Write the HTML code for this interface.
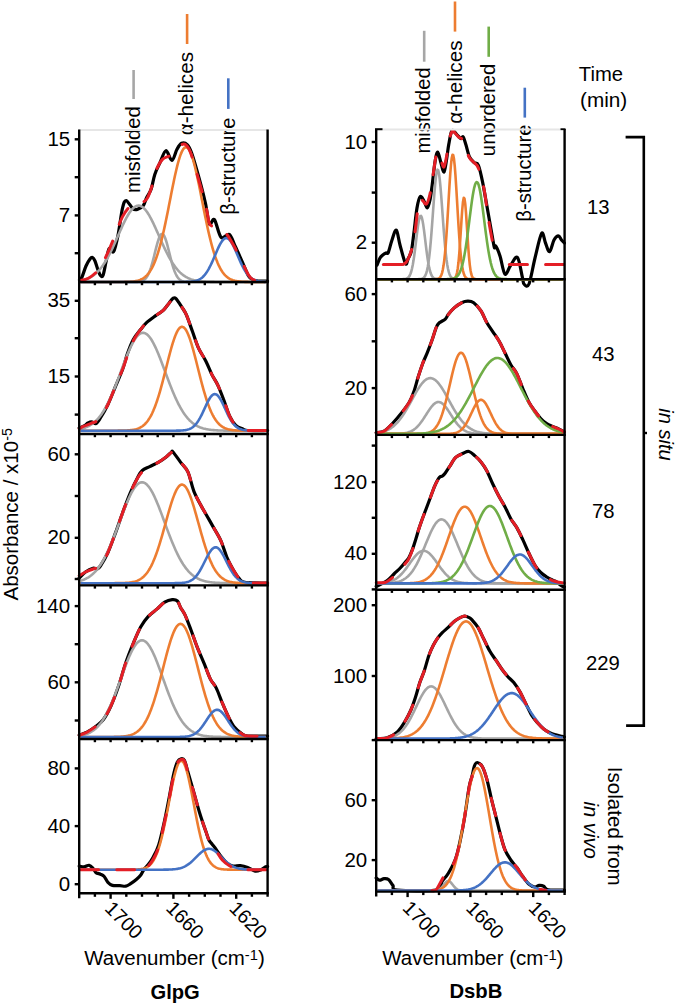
<!DOCTYPE html>
<html><head><meta charset="utf-8"><style>html,body{margin:0;padding:0;background:#fff;}svg{display:block;}</style></head>
<body><svg width="675" height="1004" viewBox="0 0 675 1004">
<rect width="675" height="1004" fill="#fff"/>
<line x1="74.7" y1="139.3" x2="79.2" y2="139.3" stroke="#000" stroke-width="2.4"/>
<text x="70.2" y="145.9" text-anchor="end" font-size="20.5" font-family="Liberation Sans, sans-serif">15</text>
<line x1="74.7" y1="177.2" x2="79.2" y2="177.2" stroke="#000" stroke-width="2.4"/>
<line x1="74.7" y1="215.4" x2="79.2" y2="215.4" stroke="#000" stroke-width="2.4"/>
<text x="70.2" y="222.0" text-anchor="end" font-size="20.5" font-family="Liberation Sans, sans-serif">7</text>
<line x1="74.7" y1="253.2" x2="79.2" y2="253.2" stroke="#000" stroke-width="2.4"/>
<line x1="74.7" y1="300.8" x2="79.2" y2="300.8" stroke="#000" stroke-width="2.4"/>
<text x="70.2" y="307.40000000000003" text-anchor="end" font-size="20.5" font-family="Liberation Sans, sans-serif">35</text>
<line x1="74.7" y1="338.2" x2="79.2" y2="338.2" stroke="#000" stroke-width="2.4"/>
<line x1="74.7" y1="376.5" x2="79.2" y2="376.5" stroke="#000" stroke-width="2.4"/>
<text x="70.2" y="383.1" text-anchor="end" font-size="20.5" font-family="Liberation Sans, sans-serif">15</text>
<line x1="74.7" y1="414.6" x2="79.2" y2="414.6" stroke="#000" stroke-width="2.4"/>
<line x1="74.7" y1="454.3" x2="79.2" y2="454.3" stroke="#000" stroke-width="2.4"/>
<text x="70.2" y="460.90000000000003" text-anchor="end" font-size="20.5" font-family="Liberation Sans, sans-serif">60</text>
<line x1="74.7" y1="496" x2="79.2" y2="496" stroke="#000" stroke-width="2.4"/>
<line x1="74.7" y1="537.8" x2="79.2" y2="537.8" stroke="#000" stroke-width="2.4"/>
<text x="70.2" y="544.4" text-anchor="end" font-size="20.5" font-family="Liberation Sans, sans-serif">20</text>
<line x1="74.7" y1="579" x2="79.2" y2="579" stroke="#000" stroke-width="2.4"/>
<line x1="74.7" y1="606.1" x2="79.2" y2="606.1" stroke="#000" stroke-width="2.4"/>
<text x="70.2" y="612.7" text-anchor="end" font-size="20.5" font-family="Liberation Sans, sans-serif">140</text>
<line x1="74.7" y1="644.2" x2="79.2" y2="644.2" stroke="#000" stroke-width="2.4"/>
<line x1="74.7" y1="682.3" x2="79.2" y2="682.3" stroke="#000" stroke-width="2.4"/>
<text x="70.2" y="688.9" text-anchor="end" font-size="20.5" font-family="Liberation Sans, sans-serif">60</text>
<line x1="74.7" y1="720.5" x2="79.2" y2="720.5" stroke="#000" stroke-width="2.4"/>
<line x1="74.7" y1="768.4" x2="79.2" y2="768.4" stroke="#000" stroke-width="2.4"/>
<text x="70.2" y="775.0" text-anchor="end" font-size="20.5" font-family="Liberation Sans, sans-serif">80</text>
<line x1="74.7" y1="826.1" x2="79.2" y2="826.1" stroke="#000" stroke-width="2.4"/>
<text x="70.2" y="832.7" text-anchor="end" font-size="20.5" font-family="Liberation Sans, sans-serif">40</text>
<line x1="74.7" y1="884.2" x2="79.2" y2="884.2" stroke="#000" stroke-width="2.4"/>
<text x="70.2" y="890.8000000000001" text-anchor="end" font-size="20.5" font-family="Liberation Sans, sans-serif">0</text>
<line x1="371.7" y1="142" x2="376.2" y2="142" stroke="#000" stroke-width="2.4"/>
<text x="367.2" y="148.6" text-anchor="end" font-size="20.5" font-family="Liberation Sans, sans-serif">10</text>
<line x1="371.7" y1="192.6" x2="376.2" y2="192.6" stroke="#000" stroke-width="2.4"/>
<line x1="371.7" y1="242.7" x2="376.2" y2="242.7" stroke="#000" stroke-width="2.4"/>
<text x="367.2" y="249.29999999999998" text-anchor="end" font-size="20.5" font-family="Liberation Sans, sans-serif">2</text>
<line x1="371.7" y1="294.1" x2="376.2" y2="294.1" stroke="#000" stroke-width="2.4"/>
<text x="367.2" y="300.70000000000005" text-anchor="end" font-size="20.5" font-family="Liberation Sans, sans-serif">60</text>
<line x1="371.7" y1="341.3" x2="376.2" y2="341.3" stroke="#000" stroke-width="2.4"/>
<line x1="371.7" y1="388.1" x2="376.2" y2="388.1" stroke="#000" stroke-width="2.4"/>
<text x="367.2" y="394.70000000000005" text-anchor="end" font-size="20.5" font-family="Liberation Sans, sans-serif">20</text>
<line x1="371.7" y1="445.6" x2="376.2" y2="445.6" stroke="#000" stroke-width="2.4"/>
<line x1="371.7" y1="482.1" x2="376.2" y2="482.1" stroke="#000" stroke-width="2.4"/>
<text x="367.2" y="488.70000000000005" text-anchor="end" font-size="20.5" font-family="Liberation Sans, sans-serif">120</text>
<line x1="371.7" y1="517.8" x2="376.2" y2="517.8" stroke="#000" stroke-width="2.4"/>
<line x1="371.7" y1="553.8" x2="376.2" y2="553.8" stroke="#000" stroke-width="2.4"/>
<text x="367.2" y="560.4" text-anchor="end" font-size="20.5" font-family="Liberation Sans, sans-serif">40</text>
<line x1="371.7" y1="589.4" x2="376.2" y2="589.4" stroke="#000" stroke-width="2.4"/>
<line x1="371.7" y1="605.2" x2="376.2" y2="605.2" stroke="#000" stroke-width="2.4"/>
<text x="367.2" y="611.8000000000001" text-anchor="end" font-size="20.5" font-family="Liberation Sans, sans-serif">200</text>
<line x1="371.7" y1="676" x2="376.2" y2="676" stroke="#000" stroke-width="2.4"/>
<text x="367.2" y="682.6" text-anchor="end" font-size="20.5" font-family="Liberation Sans, sans-serif">100</text>
<line x1="371.7" y1="740.1" x2="376.2" y2="740.1" stroke="#000" stroke-width="2.4"/>
<line x1="371.7" y1="800.2" x2="376.2" y2="800.2" stroke="#000" stroke-width="2.4"/>
<text x="367.2" y="806.8000000000001" text-anchor="end" font-size="20.5" font-family="Liberation Sans, sans-serif">60</text>
<line x1="371.7" y1="860.1" x2="376.2" y2="860.1" stroke="#000" stroke-width="2.4"/>
<text x="367.2" y="866.7" text-anchor="end" font-size="20.5" font-family="Liberation Sans, sans-serif">20</text>
<text transform="translate(578.85,80.50) rotate(0) scale(0.9977,1)" font-size="20.3"  font-family="Liberation Sans, sans-serif">Time</text>
<text transform="translate(580.00,106.65) rotate(0) scale(1.0227,1)" font-size="20.3"  font-family="Liberation Sans, sans-serif">(min)</text>
<text transform="translate(586.90,213.65) rotate(0)" font-size="20.3"  font-family="Liberation Sans, sans-serif">13</text>
<text transform="translate(592.00,360.70) rotate(0)" font-size="20.3"  font-family="Liberation Sans, sans-serif">43</text>
<text transform="translate(592.05,518.25) rotate(0)" font-size="20.3"  font-family="Liberation Sans, sans-serif">78</text>
<text transform="translate(586.00,670.35) rotate(0)" font-size="20.3"  font-family="Liberation Sans, sans-serif">229</text>
<text transform="translate(84.15,965.30) rotate(0) scale(1.0497,1)" font-size="19.5"  font-family="Liberation Sans, sans-serif">Wavenumber (cm<tspan dy="-5" font-size="14">-1</tspan><tspan dy="5">)</tspan></text>
<text transform="translate(382.25,965.30) rotate(0) scale(1.0532,1)" font-size="19.5"  font-family="Liberation Sans, sans-serif">Wavenumber (cm<tspan dy="-5" font-size="14">-1</tspan><tspan dy="5">)</tspan></text>
<text transform="translate(150.50,998.50) rotate(0) scale(1.0348,1)" font-size="19.5" font-weight="bold" font-family="Liberation Sans, sans-serif">GlpG</text>
<text transform="translate(449.40,998.20) rotate(0) scale(1.0408,1)" font-size="19.5" font-weight="bold" font-family="Liberation Sans, sans-serif">DsbB</text>
<text transform="translate(17.70,600.50) rotate(-90) scale(1.0263,1)" font-size="20"  font-family="Liberation Sans, sans-serif">Absorbance / x10<tspan dy="-6" font-size="14">-5</tspan></text>
<text transform="translate(139.85,192.95) rotate(-90)" font-size="20.3"  font-family="Liberation Sans, sans-serif">misfolded</text>
<text transform="translate(193.30,135.30) rotate(-90) scale(1.0200,1)" font-size="20.3"  font-family="Liberation Sans, sans-serif">&#945;-helices</text>
<text transform="translate(234.70,214.70) rotate(-90)" font-size="20.3"  font-family="Liberation Sans, sans-serif">&#946;-structure</text>
<text transform="translate(430.00,153.60) rotate(-90) scale(0.9929,1)" font-size="20.3"  font-family="Liberation Sans, sans-serif">misfolded</text>
<text transform="translate(461.55,123.75) rotate(-90) scale(1.0213,1)" font-size="20.3"  font-family="Liberation Sans, sans-serif">&#945;-helices</text>
<text transform="translate(494.95,156.15) rotate(-90)" font-size="20.3"  font-family="Liberation Sans, sans-serif">unordered</text>
<text transform="translate(531.20,221.70) rotate(-90)" font-size="20.3"  font-family="Liberation Sans, sans-serif">&#946;-structure</text>
<text transform="translate(658.50,408.30) rotate(90) scale(0.9887,1)" font-size="20.3" font-style="italic" font-family="Liberation Sans, sans-serif">in situ</text>
<text transform="translate(608.15,766.75) rotate(90) scale(1.0149,1)" font-size="20.3"  font-family="Liberation Sans, sans-serif">Isolated from</text>
<text transform="translate(583.60,801.40) rotate(90)" font-size="20.3" font-style="italic" font-family="Liberation Sans, sans-serif">in vivo</text>
<text transform="translate(103.65,909.50) rotate(45)" font-size="19.6"  font-family="Liberation Sans, sans-serif">1700</text>
<text transform="translate(164.90,909.30) rotate(45)" font-size="19.6"  font-family="Liberation Sans, sans-serif">1660</text>
<text transform="translate(228.15,909.50) rotate(45)" font-size="19.6"  font-family="Liberation Sans, sans-serif">1620</text>
<text transform="translate(401.45,909.10) rotate(45)" font-size="19.6"  font-family="Liberation Sans, sans-serif">1700</text>
<text transform="translate(465.00,909.30) rotate(45)" font-size="19.6"  font-family="Liberation Sans, sans-serif">1660</text>
<text transform="translate(527.45,909.25) rotate(45)" font-size="19.6"  font-family="Liberation Sans, sans-serif">1620</text>
<polyline points="625.6,137.1 643.8,137.1 643.8,725.6 626.1,725.6" fill="none" stroke="#000" stroke-width="2.6"/>
<line x1="643.8" y1="433" x2="647" y2="433" stroke="#000" stroke-width="2.4"/>
<path d="M79.50,280.00 C79.92,279.50 80.92,279.33 82.00,277.00 C83.08,274.67 84.67,269.00 86.00,266.00 C87.33,263.00 88.92,260.42 90.00,259.00 C91.08,257.58 91.67,257.17 92.50,257.50 C93.33,257.83 94.08,258.92 95.00,261.00 C95.92,263.08 97.08,267.58 98.00,270.00 C98.92,272.42 99.67,274.58 100.50,275.50 C101.33,276.42 102.08,277.75 103.00,275.50 C103.92,273.25 104.98,266.47 106.00,262.00 C107.02,257.53 107.83,250.42 109.10,248.70 C110.37,246.98 112.12,253.92 113.60,251.70 C115.08,249.48 116.53,242.57 118.00,235.40 C119.47,228.23 121.05,214.50 122.40,208.70 C123.75,202.90 124.37,200.60 126.10,200.60 C127.83,200.60 130.93,207.23 132.80,208.70 C134.67,210.17 135.57,209.90 137.30,209.40 C139.03,208.90 141.63,207.70 143.20,205.70 C144.77,203.70 145.38,200.13 146.70,197.40 C148.02,194.67 149.75,193.13 151.10,189.30 C152.45,185.47 153.32,178.85 154.80,174.40 C156.28,169.95 158.15,166.55 160.00,162.60 C161.85,158.65 163.92,151.07 165.90,150.70 C167.88,150.33 170.05,160.63 171.90,160.40 C173.75,160.17 175.40,152.15 177.00,149.30 C178.60,146.45 179.77,144.05 181.50,143.30 C183.23,142.55 185.67,143.07 187.40,144.80 C189.13,146.53 189.92,148.02 191.90,153.70 C193.88,159.38 197.05,170.68 199.30,178.90 C201.55,187.12 203.72,195.48 205.40,203.00 C207.08,210.52 207.90,221.23 209.40,224.00 C210.90,226.77 212.45,217.37 214.40,219.60 C216.35,221.83 218.62,234.93 221.10,237.40 C223.58,239.87 226.95,232.92 229.30,234.40 C231.65,235.88 232.98,241.60 235.20,246.30 C237.42,251.00 240.38,257.67 242.60,262.60 C244.82,267.53 246.77,273.03 248.50,275.90 C250.23,278.77 251.42,278.95 253.00,279.80 C254.58,280.65 255.57,280.80 258.00,281.00 C260.43,281.20 266.00,281.00 267.60,281.00" fill="none" stroke="#000" stroke-width="3.2" stroke-linejoin="round" stroke-linecap="round"/>
<path d="M80.50,280.66 L81.25,280.51 L82.00,280.35 L82.75,280.17 L83.50,279.98 L84.25,279.77 L85.00,279.55 L85.75,279.30 L86.50,279.03 L87.25,278.74 L88.00,278.43 L88.75,278.09 L89.50,277.73 L90.25,277.34 L91.00,276.92 L91.75,276.47 L92.50,275.99 L93.25,275.47 L94.00,274.92 L94.75,274.34 L95.50,273.71 L96.25,273.05 L97.00,272.35 L97.75,271.61 L98.50,270.83 L99.25,270.00 L100.00,269.13 L100.75,268.21 L101.50,267.25 L102.25,266.24 L103.00,265.19 L103.75,264.09 L104.50,262.95 L105.25,261.76 L106.00,260.52 L106.75,259.24 L107.50,257.92 L108.25,256.55 L109.00,255.15 L109.75,253.70 L110.50,252.21 L111.25,250.69 L112.00,249.14 L112.75,247.56 L113.50,245.94 L114.25,244.31 L115.00,242.65 L115.75,240.98 L116.50,239.29 L117.25,237.59 L118.00,235.89 L118.75,234.19 L119.50,232.49 L120.25,230.80 L121.00,229.12 L121.75,227.46 L122.50,225.83 L123.25,224.22 L124.00,222.65 L124.75,221.12 L125.50,219.64 L126.25,218.20 L127.00,216.82 L127.75,215.50 L128.50,214.25 L129.25,213.06 L130.00,211.95 L130.75,210.92 L131.50,209.97 L132.25,209.10 L133.00,208.33 L133.75,207.64 L134.50,207.05 L135.25,206.56 L136.00,206.17 L136.75,205.88 L137.50,205.69 L138.25,205.61 L139.00,205.62 L139.75,205.74 L140.50,205.97 L141.25,206.29 L142.00,206.72 L142.75,207.24 L143.50,207.86 L144.25,208.58 L145.00,209.38 L145.75,210.28 L146.50,211.25 L147.25,212.31 L148.00,213.45 L148.75,214.66 L149.50,215.94 L150.25,217.28 L151.00,218.68 L151.75,220.13 L152.50,221.63 L153.25,223.17 L154.00,224.76 L154.75,226.37 L155.50,228.01 L156.25,229.68 L157.00,231.36 L157.75,233.05 L158.50,234.75 L159.25,236.46 L160.00,238.16 L160.75,239.85 L161.50,241.54 L162.25,243.21 L163.00,244.86 L163.75,246.48 L164.50,248.09 L165.25,249.66 L166.00,251.20 L166.75,252.71 L167.50,254.19 L168.25,255.62 L169.00,257.01 L169.75,258.37 L170.50,259.68 L171.25,260.94 L172.00,262.16 L172.75,263.34 L173.50,264.47 L174.25,265.55 L175.00,266.59 L175.75,267.58 L176.50,268.52 L177.25,269.42 L178.00,270.28 L178.75,271.09 L179.50,271.86 L180.25,272.59 L181.00,273.28 L181.75,273.93 L182.50,274.54 L183.25,275.11 L184.00,275.65 L184.75,276.15 L185.50,276.62 L186.25,277.06 L187.00,277.47 L187.75,277.86 L188.50,278.21 L189.25,278.54 L190.00,278.84 L190.75,279.13 L191.50,279.39 L192.25,279.63 L193.00,279.85 L193.75,280.05 L194.50,280.23 L195.25,280.41 L196.00,280.56 L196.75,280.70 L197.50,280.83 L198.25,280.95 L199.00,281.06 L199.75,281.16 L200.50,281.25 L201.25,281.33 L202.00,281.40 L202.75,281.46 L203.50,281.52 L204.25,281.58 L205.00,281.62 L205.75,281.67 L206.50,281.70 L207.25,281.74 L208.00,281.77 L208.75,281.80 L209.50,281.82 L210.25,281.84 L211.00,281.86 L211.75,281.88 L212.50,281.89 L213.25,281.91 L214.00,281.92 L214.75,281.93 L215.50,281.94 L216.25,281.95 L217.00,281.95 L217.75,281.96 L218.50,281.97 L219.25,281.97 L220.00,281.97 L220.75,281.98 L221.50,281.98 L222.25,281.98 L223.00,281.99 L223.75,281.99 L224.50,281.99 L225.25,281.99 L226.00,281.99 L226.75,281.99 L227.50,281.99 L228.25,282.00 L229.00,282.00 L229.75,282.00 L230.50,282.00 L231.25,282.00 L232.00,282.00 L232.75,282.00 L233.50,282.00 L234.25,282.00 L235.00,282.00 L235.75,282.00 L236.50,282.00 L237.25,282.00 L238.00,282.00 L238.75,282.00 L239.50,282.00 L240.25,282.00 L241.00,282.00 L241.75,282.00 L242.50,282.00 L243.25,282.00 L244.00,282.00 L244.75,282.00 L245.50,282.00 L246.25,282.00 L247.00,282.00 L247.75,282.00 L248.50,282.00 L249.25,282.00 L250.00,282.00 L250.75,282.00 L251.50,282.00 L252.25,282.00 L253.00,282.00 L253.75,282.00 L254.50,282.00 L255.25,282.00 L256.00,282.00 L256.75,282.00 L257.50,282.00 L258.25,282.00 L259.00,282.00 L259.75,282.00 L260.50,282.00 L261.25,282.00 L262.00,282.00 L262.75,282.00 L263.50,282.00 L264.25,282.00 L265.00,282.00 L265.75,282.00" fill="none" stroke="#a5a5a5" stroke-width="2.6" stroke-linejoin="round"/>
<path d="M80.50,282.00 L81.25,282.00 L82.00,282.00 L82.75,282.00 L83.50,282.00 L84.25,282.00 L85.00,282.00 L85.75,282.00 L86.50,282.00 L87.25,282.00 L88.00,282.00 L88.75,282.00 L89.50,282.00 L90.25,282.00 L91.00,282.00 L91.75,282.00 L92.50,282.00 L93.25,282.00 L94.00,282.00 L94.75,282.00 L95.50,282.00 L96.25,282.00 L97.00,282.00 L97.75,282.00 L98.50,282.00 L99.25,282.00 L100.00,282.00 L100.75,282.00 L101.50,282.00 L102.25,282.00 L103.00,282.00 L103.75,282.00 L104.50,282.00 L105.25,282.00 L106.00,282.00 L106.75,282.00 L107.50,282.00 L108.25,282.00 L109.00,282.00 L109.75,282.00 L110.50,282.00 L111.25,282.00 L112.00,282.00 L112.75,282.00 L113.50,282.00 L114.25,282.00 L115.00,282.00 L115.75,282.00 L116.50,282.00 L117.25,282.00 L118.00,282.00 L118.75,282.00 L119.50,282.00 L120.25,282.00 L121.00,282.00 L121.75,282.00 L122.50,282.00 L123.25,282.00 L124.00,282.00 L124.75,282.00 L125.50,282.00 L126.25,282.00 L127.00,282.00 L127.75,282.00 L128.50,282.00 L129.25,282.00 L130.00,282.00 L130.75,282.00 L131.50,281.99 L132.25,281.99 L133.00,281.99 L133.75,281.98 L134.50,281.97 L135.25,281.95 L136.00,281.93 L136.75,281.90 L137.50,281.86 L138.25,281.80 L139.00,281.72 L139.75,281.61 L140.50,281.47 L141.25,281.27 L142.00,281.02 L142.75,280.70 L143.50,280.29 L144.25,279.77 L145.00,279.13 L145.75,278.35 L146.50,277.40 L147.25,276.27 L148.00,274.93 L148.75,273.38 L149.50,271.60 L150.25,269.59 L151.00,267.34 L151.75,264.88 L152.50,262.23 L153.25,259.40 L154.00,256.45 L154.75,253.43 L155.50,250.40 L156.25,247.42 L157.00,244.57 L157.75,241.92 L158.50,239.55 L159.25,237.52 L160.00,235.90 L160.75,234.74 L161.50,234.07 L162.25,233.91 L163.00,234.27 L163.75,235.15 L164.50,236.50 L165.25,238.29 L166.00,240.46 L166.75,242.95 L167.50,245.69 L168.25,248.60 L169.00,251.61 L169.75,254.65 L170.50,257.65 L171.25,260.55 L172.00,263.31 L172.75,265.89 L173.50,268.27 L174.25,270.42 L175.00,272.34 L175.75,274.03 L176.50,275.49 L177.25,276.74 L178.00,277.80 L178.75,278.68 L179.50,279.41 L180.25,279.99 L181.00,280.47 L181.75,280.84 L182.50,281.13 L183.25,281.36 L184.00,281.53 L184.75,281.66 L185.50,281.76 L186.25,281.83 L187.00,281.88 L187.75,281.92 L188.50,281.94 L189.25,281.96 L190.00,281.97 L190.75,281.98 L191.50,281.99 L192.25,281.99 L193.00,282.00 L193.75,282.00 L194.50,282.00 L195.25,282.00 L196.00,282.00 L196.75,282.00 L197.50,282.00 L198.25,282.00 L199.00,282.00 L199.75,282.00 L200.50,282.00 L201.25,282.00 L202.00,282.00 L202.75,282.00 L203.50,282.00 L204.25,282.00 L205.00,282.00 L205.75,282.00 L206.50,282.00 L207.25,282.00 L208.00,282.00 L208.75,282.00 L209.50,282.00 L210.25,282.00 L211.00,282.00 L211.75,282.00 L212.50,282.00 L213.25,282.00 L214.00,282.00 L214.75,282.00 L215.50,282.00 L216.25,282.00 L217.00,282.00 L217.75,282.00 L218.50,282.00 L219.25,282.00 L220.00,282.00 L220.75,282.00 L221.50,282.00 L222.25,282.00 L223.00,282.00 L223.75,282.00 L224.50,282.00 L225.25,282.00 L226.00,282.00 L226.75,282.00 L227.50,282.00 L228.25,282.00 L229.00,282.00 L229.75,282.00 L230.50,282.00 L231.25,282.00 L232.00,282.00 L232.75,282.00 L233.50,282.00 L234.25,282.00 L235.00,282.00 L235.75,282.00 L236.50,282.00 L237.25,282.00 L238.00,282.00 L238.75,282.00 L239.50,282.00 L240.25,282.00 L241.00,282.00 L241.75,282.00 L242.50,282.00 L243.25,282.00 L244.00,282.00 L244.75,282.00 L245.50,282.00 L246.25,282.00 L247.00,282.00 L247.75,282.00 L248.50,282.00 L249.25,282.00 L250.00,282.00 L250.75,282.00 L251.50,282.00 L252.25,282.00 L253.00,282.00 L253.75,282.00 L254.50,282.00 L255.25,282.00 L256.00,282.00 L256.75,282.00 L257.50,282.00 L258.25,282.00 L259.00,282.00 L259.75,282.00 L260.50,282.00 L261.25,282.00 L262.00,282.00 L262.75,282.00 L263.50,282.00 L264.25,282.00 L265.00,282.00 L265.75,282.00" fill="none" stroke="#a5a5a5" stroke-width="2.6" stroke-linejoin="round"/>
<path d="M80.50,282.00 L81.25,282.00 L82.00,282.00 L82.75,282.00 L83.50,282.00 L84.25,282.00 L85.00,282.00 L85.75,282.00 L86.50,282.00 L87.25,282.00 L88.00,282.00 L88.75,282.00 L89.50,282.00 L90.25,282.00 L91.00,282.00 L91.75,282.00 L92.50,282.00 L93.25,282.00 L94.00,282.00 L94.75,282.00 L95.50,282.00 L96.25,282.00 L97.00,282.00 L97.75,282.00 L98.50,282.00 L99.25,282.00 L100.00,282.00 L100.75,282.00 L101.50,282.00 L102.25,282.00 L103.00,282.00 L103.75,282.00 L104.50,282.00 L105.25,282.00 L106.00,282.00 L106.75,282.00 L107.50,282.00 L108.25,282.00 L109.00,282.00 L109.75,282.00 L110.50,282.00 L111.25,282.00 L112.00,282.00 L112.75,282.00 L113.50,282.00 L114.25,281.99 L115.00,281.99 L115.75,281.99 L116.50,281.99 L117.25,281.99 L118.00,281.98 L118.75,281.98 L119.50,281.98 L120.25,281.97 L121.00,281.96 L121.75,281.96 L122.50,281.95 L123.25,281.94 L124.00,281.93 L124.75,281.91 L125.50,281.89 L126.25,281.87 L127.00,281.85 L127.75,281.82 L128.50,281.79 L129.25,281.75 L130.00,281.71 L130.75,281.65 L131.50,281.59 L132.25,281.52 L133.00,281.44 L133.75,281.35 L134.50,281.24 L135.25,281.12 L136.00,280.98 L136.75,280.82 L137.50,280.64 L138.25,280.43 L139.00,280.20 L139.75,279.93 L140.50,279.64 L141.25,279.30 L142.00,278.93 L142.75,278.51 L143.50,278.04 L144.25,277.52 L145.00,276.94 L145.75,276.30 L146.50,275.60 L147.25,274.82 L148.00,273.97 L148.75,273.03 L149.50,272.01 L150.25,270.89 L151.00,269.68 L151.75,268.36 L152.50,266.94 L153.25,265.41 L154.00,263.76 L154.75,261.99 L155.50,260.09 L156.25,258.07 L157.00,255.92 L157.75,253.64 L158.50,251.22 L159.25,248.68 L160.00,246.00 L160.75,243.19 L161.50,240.26 L162.25,237.20 L163.00,234.03 L163.75,230.74 L164.50,227.35 L165.25,223.86 L166.00,220.28 L166.75,216.63 L167.50,212.92 L168.25,209.15 L169.00,205.34 L169.75,201.52 L170.50,197.69 L171.25,193.87 L172.00,190.07 L172.75,186.33 L173.50,182.65 L174.25,179.06 L175.00,175.57 L175.75,172.21 L176.50,168.98 L177.25,165.92 L178.00,163.04 L178.75,160.35 L179.50,157.88 L180.25,155.63 L181.00,153.62 L181.75,151.87 L182.50,150.39 L183.25,149.18 L184.00,148.25 L184.75,147.61 L185.50,147.27 L186.25,147.22 L187.00,147.46 L187.75,148.00 L188.50,148.84 L189.25,149.95 L190.00,151.35 L190.75,153.01 L191.50,154.93 L192.25,157.10 L193.00,159.50 L193.75,162.12 L194.50,164.94 L195.25,167.95 L196.00,171.12 L196.75,174.44 L197.50,177.89 L198.25,181.45 L199.00,185.10 L199.75,188.82 L200.50,192.60 L201.25,196.41 L202.00,200.24 L202.75,204.07 L203.50,207.88 L204.25,211.66 L205.00,215.40 L205.75,219.07 L206.50,222.68 L207.25,226.20 L208.00,229.62 L208.75,232.95 L209.50,236.16 L210.25,239.26 L211.00,242.23 L211.75,245.08 L212.50,247.80 L213.25,250.39 L214.00,252.85 L214.75,255.17 L215.50,257.37 L216.25,259.43 L217.00,261.37 L217.75,263.18 L218.50,264.87 L219.25,266.44 L220.00,267.90 L220.75,269.25 L221.50,270.50 L222.25,271.65 L223.00,272.70 L223.75,273.66 L224.50,274.55 L225.25,275.35 L226.00,276.08 L226.75,276.74 L227.50,277.34 L228.25,277.87 L229.00,278.36 L229.75,278.79 L230.50,279.18 L231.25,279.53 L232.00,279.84 L232.75,280.11 L233.50,280.36 L234.25,280.57 L235.00,280.76 L235.75,280.93 L236.50,281.07 L237.25,281.20 L238.00,281.31 L238.75,281.41 L239.50,281.50 L240.25,281.57 L241.00,281.63 L241.75,281.69 L242.50,281.74 L243.25,281.78 L244.00,281.81 L244.75,281.84 L245.50,281.87 L246.25,281.89 L247.00,281.91 L247.75,281.92 L248.50,281.93 L249.25,281.95 L250.00,281.95 L250.75,281.96 L251.50,281.97 L252.25,281.97 L253.00,281.98 L253.75,281.98 L254.50,281.99 L255.25,281.99 L256.00,281.99 L256.75,281.99 L257.50,281.99 L258.25,281.99 L259.00,282.00 L259.75,282.00 L260.50,282.00 L261.25,282.00 L262.00,282.00 L262.75,282.00 L263.50,282.00 L264.25,282.00 L265.00,282.00 L265.75,282.00" fill="none" stroke="#ed7d31" stroke-width="2.6" stroke-linejoin="round"/>
<path d="M80.50,282.00 L81.25,282.00 L82.00,282.00 L82.75,282.00 L83.50,282.00 L84.25,282.00 L85.00,282.00 L85.75,282.00 L86.50,282.00 L87.25,282.00 L88.00,282.00 L88.75,282.00 L89.50,282.00 L90.25,282.00 L91.00,282.00 L91.75,282.00 L92.50,282.00 L93.25,282.00 L94.00,282.00 L94.75,282.00 L95.50,282.00 L96.25,282.00 L97.00,282.00 L97.75,282.00 L98.50,282.00 L99.25,282.00 L100.00,282.00 L100.75,282.00 L101.50,282.00 L102.25,282.00 L103.00,282.00 L103.75,282.00 L104.50,282.00 L105.25,282.00 L106.00,282.00 L106.75,282.00 L107.50,282.00 L108.25,282.00 L109.00,282.00 L109.75,282.00 L110.50,282.00 L111.25,282.00 L112.00,282.00 L112.75,282.00 L113.50,282.00 L114.25,282.00 L115.00,282.00 L115.75,282.00 L116.50,282.00 L117.25,282.00 L118.00,282.00 L118.75,282.00 L119.50,282.00 L120.25,282.00 L121.00,282.00 L121.75,282.00 L122.50,282.00 L123.25,282.00 L124.00,282.00 L124.75,282.00 L125.50,282.00 L126.25,282.00 L127.00,282.00 L127.75,282.00 L128.50,282.00 L129.25,282.00 L130.00,282.00 L130.75,282.00 L131.50,282.00 L132.25,282.00 L133.00,282.00 L133.75,282.00 L134.50,282.00 L135.25,282.00 L136.00,282.00 L136.75,282.00 L137.50,282.00 L138.25,282.00 L139.00,282.00 L139.75,282.00 L140.50,282.00 L141.25,282.00 L142.00,282.00 L142.75,282.00 L143.50,282.00 L144.25,282.00 L145.00,282.00 L145.75,282.00 L146.50,282.00 L147.25,282.00 L148.00,282.00 L148.75,282.00 L149.50,282.00 L150.25,282.00 L151.00,282.00 L151.75,282.00 L152.50,282.00 L153.25,282.00 L154.00,282.00 L154.75,282.00 L155.50,282.00 L156.25,282.00 L157.00,282.00 L157.75,282.00 L158.50,282.00 L159.25,282.00 L160.00,282.00 L160.75,282.00 L161.50,282.00 L162.25,282.00 L163.00,282.00 L163.75,282.00 L164.50,282.00 L165.25,282.00 L166.00,282.00 L166.75,282.00 L167.50,282.00 L168.25,282.00 L169.00,282.00 L169.75,282.00 L170.50,282.00 L171.25,282.00 L172.00,282.00 L172.75,282.00 L173.50,282.00 L174.25,282.00 L175.00,282.00 L175.75,282.00 L176.50,282.00 L177.25,282.00 L178.00,282.00 L178.75,281.99 L179.50,281.99 L180.25,281.99 L181.00,281.99 L181.75,281.98 L182.50,281.98 L183.25,281.97 L184.00,281.96 L184.75,281.95 L185.50,281.94 L186.25,281.92 L187.00,281.90 L187.75,281.87 L188.50,281.84 L189.25,281.80 L190.00,281.75 L190.75,281.69 L191.50,281.62 L192.25,281.53 L193.00,281.43 L193.75,281.31 L194.50,281.16 L195.25,280.99 L196.00,280.79 L196.75,280.56 L197.50,280.29 L198.25,279.98 L199.00,279.63 L199.75,279.22 L200.50,278.76 L201.25,278.24 L202.00,277.65 L202.75,277.00 L203.50,276.27 L204.25,275.46 L205.00,274.57 L205.75,273.60 L206.50,272.54 L207.25,271.40 L208.00,270.17 L208.75,268.86 L209.50,267.46 L210.25,265.99 L211.00,264.45 L211.75,262.84 L212.50,261.17 L213.25,259.47 L214.00,257.72 L214.75,255.96 L215.50,254.20 L216.25,252.44 L217.00,250.71 L217.75,249.03 L218.50,247.41 L219.25,245.86 L220.00,244.42 L220.75,243.09 L221.50,241.89 L222.25,240.83 L223.00,239.93 L223.75,239.20 L224.50,238.65 L225.25,238.29 L226.00,238.12 L226.75,238.13 L227.50,238.35 L228.25,238.75 L229.00,239.34 L229.75,240.10 L230.50,241.03 L231.25,242.12 L232.00,243.34 L232.75,244.70 L233.50,246.17 L234.25,247.72 L235.00,249.36 L235.75,251.05 L236.50,252.79 L237.25,254.55 L238.00,256.32 L238.75,258.07 L239.50,259.81 L240.25,261.51 L241.00,263.16 L241.75,264.76 L242.50,266.29 L243.25,267.75 L244.00,269.13 L244.75,270.42 L245.50,271.64 L246.25,272.76 L247.00,273.80 L247.75,274.76 L248.50,275.63 L249.25,276.42 L250.00,277.13 L250.75,277.77 L251.50,278.35 L252.25,278.86 L253.00,279.31 L253.75,279.70 L254.50,280.05 L255.25,280.35 L256.00,280.61 L256.75,280.84 L257.50,281.03 L258.25,281.19 L259.00,281.33 L259.75,281.45 L260.50,281.55 L261.25,281.63 L262.00,281.70 L262.75,281.76 L263.50,281.81 L264.25,281.84 L265.00,281.88 L265.75,281.90" fill="none" stroke="#4472c4" stroke-width="2.6" stroke-linejoin="round"/>
<path d="M80.00,280.40 C81.40,280.05 85.28,280.13 88.40,278.30 C91.52,276.47 95.50,273.60 98.70,269.40 C101.90,265.20 104.88,258.77 107.60,253.10 C110.32,247.43 112.53,241.43 115.00,235.40 C117.47,229.37 119.92,221.72 122.40,216.90 C124.88,212.08 127.42,208.73 129.90,206.50 C132.38,204.27 135.08,204.25 137.30,203.50 C139.52,202.75 141.52,202.90 143.20,202.00 C144.88,201.10 145.95,200.72 147.40,198.10 C148.85,195.48 150.42,190.98 151.90,186.30 C153.38,181.62 154.58,174.45 156.30,170.00 C158.02,165.55 159.98,161.95 162.20,159.60 C164.42,157.25 167.37,157.13 169.60,155.90 C171.83,154.67 173.62,154.05 175.60,152.20 C177.58,150.35 179.78,146.03 181.50,144.80 C183.22,143.57 184.42,143.57 185.90,144.80 C187.38,146.03 188.67,147.75 190.40,152.20 C192.13,156.65 194.33,164.83 196.30,171.50 C198.27,178.17 200.47,185.78 202.20,192.20 C203.93,198.62 205.50,204.78 206.70,210.00 C207.90,215.22 208.35,220.75 209.40,223.50 C210.45,226.25 211.73,225.67 213.00,226.50 C214.27,227.33 214.90,227.42 217.00,228.50 C219.10,229.58 222.82,230.15 225.60,233.00 C228.38,235.85 230.97,240.77 233.70,245.60 C236.43,250.43 239.53,257.10 242.00,262.00 C244.47,266.90 246.67,272.07 248.50,275.00 C250.33,277.93 251.08,278.63 253.00,279.60 C254.92,280.57 257.57,280.60 260.00,280.80 C262.43,281.00 266.33,280.80 267.60,280.80" fill="none" stroke="#e41e26" stroke-width="3" stroke-dasharray="18 18" stroke-dashoffset="0" stroke-linejoin="round" stroke-linecap="round"/>
<path d="M79.20,428.00 C80.00,427.67 82.53,426.83 84.00,426.00 C85.47,425.17 86.75,423.70 88.00,423.00 C89.25,422.30 90.17,421.72 91.50,421.80 C92.83,421.88 94.52,424.13 96.00,423.50 C97.48,422.87 98.42,421.17 100.40,418.00 C102.38,414.83 105.40,409.73 107.90,404.50 C110.40,399.27 112.92,392.57 115.40,386.60 C117.88,380.63 120.82,374.13 122.80,368.70 C124.78,363.27 125.55,358.87 127.30,354.00 C129.05,349.13 131.05,343.62 133.30,339.50 C135.55,335.38 138.55,332.15 140.80,329.30 C143.05,326.45 144.32,324.68 146.80,322.40 C149.28,320.12 152.97,317.60 155.70,315.60 C158.43,313.60 160.95,312.52 163.20,310.40 C165.45,308.28 167.57,304.90 169.20,302.90 C170.83,300.90 171.87,299.10 173.00,298.40 C174.13,297.70 174.50,297.20 176.00,298.70 C177.50,300.20 180.27,304.70 182.00,307.40 C183.73,310.10 184.67,310.92 186.40,314.90 C188.13,318.88 190.40,325.82 192.40,331.30 C194.40,336.78 196.15,342.82 198.40,347.80 C200.65,352.78 203.65,356.73 205.90,361.20 C208.15,365.67 209.92,370.62 211.90,374.60 C213.88,378.58 215.82,380.87 217.80,385.10 C219.78,389.33 221.80,394.77 223.80,400.00 C225.80,405.23 227.80,412.27 229.80,416.50 C231.80,420.73 233.57,423.28 235.80,425.40 C238.03,427.52 241.22,428.35 243.20,429.20 C245.18,430.05 243.63,430.28 247.70,430.50 C251.77,430.72 264.28,430.50 267.60,430.50" fill="none" stroke="#000" stroke-width="3.2" stroke-linejoin="round" stroke-linecap="round"/>
<path d="M80.50,428.97 L81.25,428.79 L82.00,428.60 L82.75,428.40 L83.50,428.17 L84.25,427.93 L85.00,427.67 L85.75,427.39 L86.50,427.08 L87.25,426.75 L88.00,426.40 L88.75,426.02 L89.50,425.61 L90.25,425.17 L91.00,424.71 L91.75,424.21 L92.50,423.68 L93.25,423.11 L94.00,422.50 L94.75,421.86 L95.50,421.18 L96.25,420.46 L97.00,419.70 L97.75,418.89 L98.50,418.04 L99.25,417.15 L100.00,416.20 L100.75,415.21 L101.50,414.18 L102.25,413.09 L103.00,411.95 L103.75,410.77 L104.50,409.53 L105.25,408.24 L106.00,406.90 L106.75,405.51 L107.50,404.07 L108.25,402.58 L109.00,401.04 L109.75,399.46 L110.50,397.82 L111.25,396.14 L112.00,394.42 L112.75,392.66 L113.50,390.86 L114.25,389.02 L115.00,387.14 L115.75,385.24 L116.50,383.31 L117.25,381.35 L118.00,379.37 L118.75,377.37 L119.50,375.36 L120.25,373.34 L121.00,371.32 L121.75,369.30 L122.50,367.28 L123.25,365.27 L124.00,363.28 L124.75,361.30 L125.50,359.35 L126.25,357.43 L127.00,355.55 L127.75,353.71 L128.50,351.91 L129.25,350.17 L130.00,348.48 L130.75,346.86 L131.50,345.30 L132.25,343.82 L133.00,342.41 L133.75,341.08 L134.50,339.84 L135.25,338.69 L136.00,337.63 L136.75,336.67 L137.50,335.81 L138.25,335.06 L139.00,334.40 L139.75,333.86 L140.50,333.43 L141.25,333.11 L142.00,332.90 L142.75,332.81 L143.50,332.83 L144.25,332.96 L145.00,333.20 L145.75,333.56 L146.50,334.03 L147.25,334.61 L148.00,335.30 L148.75,336.09 L149.50,336.98 L150.25,337.97 L151.00,339.06 L151.75,340.24 L152.50,341.51 L153.25,342.87 L154.00,344.30 L154.75,345.81 L155.50,347.39 L156.25,349.04 L157.00,350.74 L157.75,352.51 L158.50,354.32 L159.25,356.17 L160.00,358.07 L160.75,360.00 L161.50,361.96 L162.25,363.94 L163.00,365.94 L163.75,367.95 L164.50,369.97 L165.25,372.00 L166.00,374.02 L166.75,376.03 L167.50,378.04 L168.25,380.03 L169.00,382.00 L169.75,383.95 L170.50,385.88 L171.25,387.77 L172.00,389.64 L172.75,391.46 L173.50,393.25 L174.25,395.00 L175.00,396.71 L175.75,398.37 L176.50,399.99 L177.25,401.56 L178.00,403.08 L178.75,404.56 L179.50,405.98 L180.25,407.35 L181.00,408.67 L181.75,409.95 L182.50,411.17 L183.25,412.34 L184.00,413.46 L184.75,414.53 L185.50,415.55 L186.25,416.52 L187.00,417.45 L187.75,418.33 L188.50,419.17 L189.25,419.96 L190.00,420.71 L190.75,421.41 L191.50,422.08 L192.25,422.71 L193.00,423.30 L193.75,423.86 L194.50,424.38 L195.25,424.87 L196.00,425.32 L196.75,425.75 L197.50,426.15 L198.25,426.52 L199.00,426.86 L199.75,427.19 L200.50,427.48 L201.25,427.76 L202.00,428.01 L202.75,428.25 L203.50,428.47 L204.25,428.67 L205.00,428.85 L205.75,429.02 L206.50,429.18 L207.25,429.32 L208.00,429.45 L208.75,429.57 L209.50,429.68 L210.25,429.78 L211.00,429.88 L211.75,429.96 L212.50,430.03 L213.25,430.10 L214.00,430.16 L214.75,430.22 L215.50,430.27 L216.25,430.32 L217.00,430.36 L217.75,430.40 L218.50,430.43 L219.25,430.46 L220.00,430.49 L220.75,430.51 L221.50,430.53 L222.25,430.55 L223.00,430.57 L223.75,430.58 L224.50,430.60 L225.25,430.61 L226.00,430.62 L226.75,430.63 L227.50,430.64 L228.25,430.65 L229.00,430.65 L229.75,430.66 L230.50,430.66 L231.25,430.67 L232.00,430.67 L232.75,430.68 L233.50,430.68 L234.25,430.68 L235.00,430.68 L235.75,430.69 L236.50,430.69 L237.25,430.69 L238.00,430.69 L238.75,430.69 L239.50,430.69 L240.25,430.69 L241.00,430.70 L241.75,430.70 L242.50,430.70 L243.25,430.70 L244.00,430.70 L244.75,430.70 L245.50,430.70 L246.25,430.70 L247.00,430.70 L247.75,430.70 L248.50,430.70 L249.25,430.70 L250.00,430.70 L250.75,430.70 L251.50,430.70 L252.25,430.70 L253.00,430.70 L253.75,430.70 L254.50,430.70 L255.25,430.70 L256.00,430.70 L256.75,430.70 L257.50,430.70 L258.25,430.70 L259.00,430.70 L259.75,430.70 L260.50,430.70 L261.25,430.70 L262.00,430.70 L262.75,430.70 L263.50,430.70 L264.25,430.70 L265.00,430.70 L265.75,430.70" fill="none" stroke="#a5a5a5" stroke-width="2.6" stroke-linejoin="round"/>
<path d="M80.50,430.70 L81.25,430.70 L82.00,430.70 L82.75,430.70 L83.50,430.70 L84.25,430.70 L85.00,430.70 L85.75,430.70 L86.50,430.70 L87.25,430.70 L88.00,430.70 L88.75,430.70 L89.50,430.70 L90.25,430.70 L91.00,430.70 L91.75,430.70 L92.50,430.70 L93.25,430.70 L94.00,430.70 L94.75,430.70 L95.50,430.70 L96.25,430.70 L97.00,430.70 L97.75,430.70 L98.50,430.70 L99.25,430.70 L100.00,430.70 L100.75,430.70 L101.50,430.70 L102.25,430.70 L103.00,430.70 L103.75,430.70 L104.50,430.70 L105.25,430.70 L106.00,430.70 L106.75,430.70 L107.50,430.70 L108.25,430.70 L109.00,430.70 L109.75,430.70 L110.50,430.70 L111.25,430.70 L112.00,430.69 L112.75,430.69 L113.50,430.69 L114.25,430.69 L115.00,430.69 L115.75,430.68 L116.50,430.68 L117.25,430.68 L118.00,430.67 L118.75,430.67 L119.50,430.66 L120.25,430.65 L121.00,430.64 L121.75,430.63 L122.50,430.61 L123.25,430.60 L124.00,430.58 L124.75,430.55 L125.50,430.53 L126.25,430.49 L127.00,430.46 L127.75,430.41 L128.50,430.36 L129.25,430.31 L130.00,430.24 L130.75,430.16 L131.50,430.07 L132.25,429.97 L133.00,429.85 L133.75,429.72 L134.50,429.57 L135.25,429.40 L136.00,429.20 L136.75,428.98 L137.50,428.73 L138.25,428.45 L139.00,428.14 L139.75,427.79 L140.50,427.40 L141.25,426.97 L142.00,426.48 L142.75,425.95 L143.50,425.36 L144.25,424.72 L145.00,424.00 L145.75,423.23 L146.50,422.37 L147.25,421.45 L148.00,420.44 L148.75,419.35 L149.50,418.17 L150.25,416.90 L151.00,415.54 L151.75,414.08 L152.50,412.52 L153.25,410.86 L154.00,409.09 L154.75,407.22 L155.50,405.25 L156.25,403.17 L157.00,400.99 L157.75,398.70 L158.50,396.32 L159.25,393.85 L160.00,391.29 L160.75,388.64 L161.50,385.92 L162.25,383.13 L163.00,380.28 L163.75,377.38 L164.50,374.44 L165.25,371.47 L166.00,368.48 L166.75,365.49 L167.50,362.51 L168.25,359.55 L169.00,356.64 L169.75,353.77 L170.50,350.98 L171.25,348.27 L172.00,345.66 L172.75,343.16 L173.50,340.80 L174.25,338.58 L175.00,336.51 L175.75,334.62 L176.50,332.91 L177.25,331.39 L178.00,330.08 L178.75,328.97 L179.50,328.09 L180.25,327.44 L181.00,327.01 L181.75,326.81 L182.50,326.85 L183.25,327.12 L184.00,327.63 L184.75,328.36 L185.50,329.32 L186.25,330.49 L187.00,331.87 L187.75,333.46 L188.50,335.23 L189.25,337.18 L190.00,339.30 L190.75,341.57 L191.50,343.98 L192.25,346.52 L193.00,349.16 L193.75,351.90 L194.50,354.72 L195.25,357.60 L196.00,360.53 L196.75,363.50 L197.50,366.49 L198.25,369.48 L199.00,372.46 L199.75,375.42 L200.50,378.35 L201.25,381.24 L202.00,384.07 L202.75,386.84 L203.50,389.53 L204.25,392.15 L205.00,394.69 L205.75,397.13 L206.50,399.48 L207.25,401.72 L208.00,403.87 L208.75,405.91 L209.50,407.85 L210.25,409.69 L211.00,411.42 L211.75,413.05 L212.50,414.58 L213.25,416.01 L214.00,417.34 L214.75,418.58 L215.50,419.72 L216.25,420.79 L217.00,421.77 L217.75,422.67 L218.50,423.49 L219.25,424.25 L220.00,424.94 L220.75,425.57 L221.50,426.13 L222.25,426.65 L223.00,427.12 L223.75,427.53 L224.50,427.91 L225.25,428.25 L226.00,428.55 L226.75,428.82 L227.50,429.06 L228.25,429.27 L229.00,429.46 L229.75,429.62 L230.50,429.77 L231.25,429.89 L232.00,430.00 L232.75,430.10 L233.50,430.19 L234.25,430.26 L235.00,430.33 L235.75,430.38 L236.50,430.43 L237.25,430.47 L238.00,430.51 L238.75,430.54 L239.50,430.56 L240.25,430.58 L241.00,430.60 L241.75,430.62 L242.50,430.63 L243.25,430.64 L244.00,430.65 L244.75,430.66 L245.50,430.67 L246.25,430.67 L247.00,430.68 L247.75,430.68 L248.50,430.69 L249.25,430.69 L250.00,430.69 L250.75,430.69 L251.50,430.69 L252.25,430.69 L253.00,430.70 L253.75,430.70 L254.50,430.70 L255.25,430.70 L256.00,430.70 L256.75,430.70 L257.50,430.70 L258.25,430.70 L259.00,430.70 L259.75,430.70 L260.50,430.70 L261.25,430.70 L262.00,430.70 L262.75,430.70 L263.50,430.70 L264.25,430.70 L265.00,430.70 L265.75,430.70" fill="none" stroke="#ed7d31" stroke-width="2.6" stroke-linejoin="round"/>
<path d="M80.50,430.70 L81.25,430.70 L82.00,430.70 L82.75,430.70 L83.50,430.70 L84.25,430.70 L85.00,430.70 L85.75,430.70 L86.50,430.70 L87.25,430.70 L88.00,430.70 L88.75,430.70 L89.50,430.70 L90.25,430.70 L91.00,430.70 L91.75,430.70 L92.50,430.70 L93.25,430.70 L94.00,430.70 L94.75,430.70 L95.50,430.70 L96.25,430.70 L97.00,430.70 L97.75,430.70 L98.50,430.70 L99.25,430.70 L100.00,430.70 L100.75,430.70 L101.50,430.70 L102.25,430.70 L103.00,430.70 L103.75,430.70 L104.50,430.70 L105.25,430.70 L106.00,430.70 L106.75,430.70 L107.50,430.70 L108.25,430.70 L109.00,430.70 L109.75,430.70 L110.50,430.70 L111.25,430.70 L112.00,430.70 L112.75,430.70 L113.50,430.70 L114.25,430.70 L115.00,430.70 L115.75,430.70 L116.50,430.70 L117.25,430.70 L118.00,430.70 L118.75,430.70 L119.50,430.70 L120.25,430.70 L121.00,430.70 L121.75,430.70 L122.50,430.70 L123.25,430.70 L124.00,430.70 L124.75,430.70 L125.50,430.70 L126.25,430.70 L127.00,430.70 L127.75,430.70 L128.50,430.70 L129.25,430.70 L130.00,430.70 L130.75,430.70 L131.50,430.70 L132.25,430.70 L133.00,430.70 L133.75,430.70 L134.50,430.70 L135.25,430.70 L136.00,430.70 L136.75,430.70 L137.50,430.70 L138.25,430.70 L139.00,430.70 L139.75,430.70 L140.50,430.70 L141.25,430.70 L142.00,430.70 L142.75,430.70 L143.50,430.70 L144.25,430.70 L145.00,430.70 L145.75,430.70 L146.50,430.70 L147.25,430.70 L148.00,430.70 L148.75,430.70 L149.50,430.70 L150.25,430.70 L151.00,430.70 L151.75,430.70 L152.50,430.70 L153.25,430.70 L154.00,430.70 L154.75,430.70 L155.50,430.70 L156.25,430.70 L157.00,430.70 L157.75,430.70 L158.50,430.70 L159.25,430.70 L160.00,430.70 L160.75,430.70 L161.50,430.70 L162.25,430.70 L163.00,430.70 L163.75,430.70 L164.50,430.70 L165.25,430.70 L166.00,430.70 L166.75,430.70 L167.50,430.70 L168.25,430.70 L169.00,430.70 L169.75,430.70 L170.50,430.70 L171.25,430.70 L172.00,430.69 L172.75,430.69 L173.50,430.69 L174.25,430.69 L175.00,430.68 L175.75,430.68 L176.50,430.67 L177.25,430.66 L178.00,430.65 L178.75,430.63 L179.50,430.61 L180.25,430.58 L181.00,430.55 L181.75,430.51 L182.50,430.46 L183.25,430.39 L184.00,430.32 L184.75,430.22 L185.50,430.11 L186.25,429.97 L187.00,429.81 L187.75,429.61 L188.50,429.38 L189.25,429.11 L190.00,428.80 L190.75,428.43 L191.50,428.01 L192.25,427.52 L193.00,426.97 L193.75,426.35 L194.50,425.65 L195.25,424.87 L196.00,424.00 L196.75,423.05 L197.50,422.01 L198.25,420.89 L199.00,419.67 L199.75,418.38 L200.50,417.00 L201.25,415.55 L202.00,414.05 L202.75,412.49 L203.50,410.89 L204.25,409.26 L205.00,407.63 L205.75,406.01 L206.50,404.42 L207.25,402.87 L208.00,401.39 L208.75,400.00 L209.50,398.72 L210.25,397.57 L211.00,396.55 L211.75,395.70 L212.50,395.02 L213.25,394.52 L214.00,394.21 L214.75,394.10 L215.50,394.19 L216.25,394.47 L217.00,394.94 L217.75,395.60 L218.50,396.43 L219.25,397.42 L220.00,398.56 L220.75,399.83 L221.50,401.20 L222.25,402.67 L223.00,404.21 L223.75,405.79 L224.50,407.41 L225.25,409.04 L226.00,410.67 L226.75,412.27 L227.50,413.84 L228.25,415.36 L229.00,416.81 L229.75,418.20 L230.50,419.51 L231.25,420.73 L232.00,421.87 L232.75,422.92 L233.50,423.88 L234.25,424.76 L235.00,425.55 L235.75,426.26 L236.50,426.89 L237.25,427.45 L238.00,427.95 L238.75,428.38 L239.50,428.75 L240.25,429.07 L241.00,429.35 L241.75,429.58 L242.50,429.78 L243.25,429.95 L244.00,430.09 L244.75,430.21 L245.50,430.31 L246.25,430.38 L247.00,430.45 L247.75,430.50 L248.50,430.54 L249.25,430.58 L250.00,430.61 L250.75,430.63 L251.50,430.64 L252.25,430.66 L253.00,430.67 L253.75,430.68 L254.50,430.68 L255.25,430.69 L256.00,430.69 L256.75,430.69 L257.50,430.69 L258.25,430.70 L259.00,430.70 L259.75,430.70 L260.50,430.70 L261.25,430.70 L262.00,430.70 L262.75,430.70 L263.50,430.70 L264.25,430.70 L265.00,430.70 L265.75,430.70" fill="none" stroke="#4472c4" stroke-width="2.6" stroke-linejoin="round"/>
<path d="M79.20,428.50 C80.00,428.12 81.95,427.08 84.00,426.20 C86.05,425.32 89.50,423.98 91.50,423.20 C93.50,422.42 94.52,422.37 96.00,421.50 C97.48,420.63 98.42,420.83 100.40,418.00 C102.38,415.17 105.40,409.73 107.90,404.50 C110.40,399.27 112.92,392.57 115.40,386.60 C117.88,380.63 120.82,373.80 122.80,368.70 C124.78,363.60 125.55,360.65 127.30,356.00 C129.05,351.35 131.05,345.25 133.30,340.80 C135.55,336.35 138.55,332.37 140.80,329.30 C143.05,326.23 144.32,324.68 146.80,322.40 C149.28,320.12 152.97,317.60 155.70,315.60 C158.43,313.60 160.95,312.52 163.20,310.40 C165.45,308.28 167.48,304.80 169.20,302.90 C170.92,301.00 172.37,299.67 173.50,299.00 C174.63,298.33 174.58,297.50 176.00,298.90 C177.42,300.30 180.27,304.73 182.00,307.40 C183.73,310.07 184.67,310.92 186.40,314.90 C188.13,318.88 190.40,325.82 192.40,331.30 C194.40,336.78 196.15,342.82 198.40,347.80 C200.65,352.78 203.65,356.73 205.90,361.20 C208.15,365.67 209.92,370.62 211.90,374.60 C213.88,378.58 215.82,380.87 217.80,385.10 C219.78,389.33 221.80,394.77 223.80,400.00 C225.80,405.23 227.80,412.27 229.80,416.50 C231.80,420.73 233.57,423.28 235.80,425.40 C238.03,427.52 241.22,428.35 243.20,429.20 C245.18,430.05 243.63,430.28 247.70,430.50 C251.77,430.72 264.28,430.50 267.60,430.50" fill="none" stroke="#e41e26" stroke-width="3" stroke-dasharray="18 18" stroke-dashoffset="0" stroke-linejoin="round" stroke-linecap="round"/>
<path d="M79.20,578.00 C80.25,577.00 83.20,573.62 85.50,572.00 C87.80,570.38 91.08,568.80 93.00,568.30 C94.92,567.80 95.77,569.38 97.00,569.00 C98.23,568.62 98.58,568.75 100.40,566.00 C102.22,563.25 105.40,557.98 107.90,552.50 C110.40,547.02 112.92,539.82 115.40,533.10 C117.88,526.38 120.32,518.92 122.80,512.20 C125.28,505.48 127.80,498.63 130.30,492.80 C132.80,486.97 135.80,480.92 137.80,477.20 C139.80,473.48 140.32,472.27 142.30,470.50 C144.28,468.73 146.97,468.00 149.70,466.60 C152.43,465.20 155.95,463.72 158.70,462.10 C161.45,460.48 164.08,458.55 166.20,456.90 C168.32,455.25 170.27,453.02 171.40,452.20 C172.53,451.38 171.48,450.35 173.00,452.00 C174.52,453.65 178.02,458.78 180.50,462.10 C182.98,465.42 185.67,467.03 187.90,471.90 C190.13,476.77 191.65,485.58 193.90,491.30 C196.15,497.02 199.15,501.97 201.40,506.20 C203.65,510.43 205.42,513.22 207.40,516.70 C209.38,520.18 211.07,523.12 213.30,527.10 C215.53,531.08 218.55,535.62 220.80,540.60 C223.05,545.58 224.80,552.27 226.80,557.00 C228.80,561.73 230.80,565.50 232.80,569.00 C234.80,572.50 236.82,575.77 238.80,578.00 C240.78,580.23 239.90,581.57 244.70,582.40 C249.50,583.23 263.78,582.90 267.60,583.00" fill="none" stroke="#000" stroke-width="3.2" stroke-linejoin="round" stroke-linecap="round"/>
<path d="M80.50,580.79 L81.25,580.56 L82.00,580.32 L82.75,580.05 L83.50,579.76 L84.25,579.46 L85.00,579.12 L85.75,578.77 L86.50,578.38 L87.25,577.97 L88.00,577.54 L88.75,577.07 L89.50,576.57 L90.25,576.04 L91.00,575.47 L91.75,574.87 L92.50,574.23 L93.25,573.55 L94.00,572.83 L94.75,572.08 L95.50,571.28 L96.25,570.43 L97.00,569.54 L97.75,568.61 L98.50,567.63 L99.25,566.60 L100.00,565.53 L100.75,564.41 L101.50,563.23 L102.25,562.01 L103.00,560.74 L103.75,559.41 L104.50,558.04 L105.25,556.62 L106.00,555.15 L106.75,553.63 L107.50,552.06 L108.25,550.44 L109.00,548.78 L109.75,547.08 L110.50,545.33 L111.25,543.54 L112.00,541.72 L112.75,539.86 L113.50,537.96 L114.25,536.04 L115.00,534.09 L115.75,532.11 L116.50,530.11 L117.25,528.10 L118.00,526.08 L118.75,524.04 L119.50,522.00 L120.25,519.96 L121.00,517.93 L121.75,515.90 L122.50,513.89 L123.25,511.90 L124.00,509.93 L124.75,507.99 L125.50,506.09 L126.25,504.23 L127.00,502.41 L127.75,500.64 L128.50,498.92 L129.25,497.27 L130.00,495.68 L130.75,494.16 L131.50,492.71 L132.25,491.34 L133.00,490.06 L133.75,488.86 L134.50,487.75 L135.25,486.74 L136.00,485.82 L136.75,485.01 L137.50,484.30 L138.25,483.69 L139.00,483.19 L139.75,482.80 L140.50,482.52 L141.25,482.36 L142.00,482.30 L142.75,482.36 L143.50,482.52 L144.25,482.80 L145.00,483.19 L145.75,483.69 L146.50,484.30 L147.25,485.01 L148.00,485.82 L148.75,486.74 L149.50,487.75 L150.25,488.86 L151.00,490.06 L151.75,491.34 L152.50,492.71 L153.25,494.16 L154.00,495.68 L154.75,497.27 L155.50,498.92 L156.25,500.64 L157.00,502.41 L157.75,504.23 L158.50,506.09 L159.25,507.99 L160.00,509.93 L160.75,511.90 L161.50,513.89 L162.25,515.90 L163.00,517.93 L163.75,519.96 L164.50,522.00 L165.25,524.04 L166.00,526.08 L166.75,528.10 L167.50,530.11 L168.25,532.11 L169.00,534.09 L169.75,536.04 L170.50,537.96 L171.25,539.86 L172.00,541.72 L172.75,543.54 L173.50,545.33 L174.25,547.08 L175.00,548.78 L175.75,550.44 L176.50,552.06 L177.25,553.63 L178.00,555.15 L178.75,556.62 L179.50,558.04 L180.25,559.41 L181.00,560.74 L181.75,562.01 L182.50,563.23 L183.25,564.41 L184.00,565.53 L184.75,566.60 L185.50,567.63 L186.25,568.61 L187.00,569.54 L187.75,570.43 L188.50,571.28 L189.25,572.08 L190.00,572.83 L190.75,573.55 L191.50,574.23 L192.25,574.87 L193.00,575.47 L193.75,576.04 L194.50,576.57 L195.25,577.07 L196.00,577.54 L196.75,577.97 L197.50,578.38 L198.25,578.77 L199.00,579.12 L199.75,579.46 L200.50,579.76 L201.25,580.05 L202.00,580.32 L202.75,580.56 L203.50,580.79 L204.25,581.00 L205.00,581.20 L205.75,581.38 L206.50,581.54 L207.25,581.69 L208.00,581.83 L208.75,581.96 L209.50,582.08 L210.25,582.19 L211.00,582.28 L211.75,582.37 L212.50,582.46 L213.25,582.53 L214.00,582.60 L214.75,582.66 L215.50,582.71 L216.25,582.76 L217.00,582.81 L217.75,582.85 L218.50,582.89 L219.25,582.92 L220.00,582.95 L220.75,582.98 L221.50,583.00 L222.25,583.03 L223.00,583.05 L223.75,583.06 L224.50,583.08 L225.25,583.09 L226.00,583.11 L226.75,583.12 L227.50,583.13 L228.25,583.13 L229.00,583.14 L229.75,583.15 L230.50,583.16 L231.25,583.16 L232.00,583.17 L232.75,583.17 L233.50,583.17 L234.25,583.18 L235.00,583.18 L235.75,583.18 L236.50,583.19 L237.25,583.19 L238.00,583.19 L238.75,583.19 L239.50,583.19 L240.25,583.19 L241.00,583.19 L241.75,583.19 L242.50,583.20 L243.25,583.20 L244.00,583.20 L244.75,583.20 L245.50,583.20 L246.25,583.20 L247.00,583.20 L247.75,583.20 L248.50,583.20 L249.25,583.20 L250.00,583.20 L250.75,583.20 L251.50,583.20 L252.25,583.20 L253.00,583.20 L253.75,583.20 L254.50,583.20 L255.25,583.20 L256.00,583.20 L256.75,583.20 L257.50,583.20 L258.25,583.20 L259.00,583.20 L259.75,583.20 L260.50,583.20 L261.25,583.20 L262.00,583.20 L262.75,583.20 L263.50,583.20 L264.25,583.20 L265.00,583.20 L265.75,583.20" fill="none" stroke="#a5a5a5" stroke-width="2.6" stroke-linejoin="round"/>
<path d="M80.50,583.20 L81.25,583.20 L82.00,583.20 L82.75,583.20 L83.50,583.20 L84.25,583.20 L85.00,583.20 L85.75,583.20 L86.50,583.20 L87.25,583.20 L88.00,583.20 L88.75,583.20 L89.50,583.20 L90.25,583.20 L91.00,583.20 L91.75,583.20 L92.50,583.20 L93.25,583.20 L94.00,583.20 L94.75,583.20 L95.50,583.20 L96.25,583.20 L97.00,583.20 L97.75,583.20 L98.50,583.20 L99.25,583.20 L100.00,583.20 L100.75,583.20 L101.50,583.20 L102.25,583.20 L103.00,583.20 L103.75,583.20 L104.50,583.20 L105.25,583.20 L106.00,583.20 L106.75,583.20 L107.50,583.20 L108.25,583.20 L109.00,583.19 L109.75,583.19 L110.50,583.19 L111.25,583.19 L112.00,583.19 L112.75,583.19 L113.50,583.18 L114.25,583.18 L115.00,583.17 L115.75,583.17 L116.50,583.16 L117.25,583.16 L118.00,583.15 L118.75,583.14 L119.50,583.12 L120.25,583.11 L121.00,583.09 L121.75,583.07 L122.50,583.05 L123.25,583.03 L124.00,583.00 L124.75,582.96 L125.50,582.92 L126.25,582.87 L127.00,582.82 L127.75,582.76 L128.50,582.69 L129.25,582.61 L130.00,582.51 L130.75,582.41 L131.50,582.29 L132.25,582.15 L133.00,582.00 L133.75,581.83 L134.50,581.64 L135.25,581.42 L136.00,581.18 L136.75,580.91 L137.50,580.60 L138.25,580.27 L139.00,579.90 L139.75,579.48 L140.50,579.03 L141.25,578.53 L142.00,577.98 L142.75,577.38 L143.50,576.72 L144.25,576.00 L145.00,575.22 L145.75,574.37 L146.50,573.46 L147.25,572.47 L148.00,571.40 L148.75,570.26 L149.50,569.03 L150.25,567.72 L151.00,566.32 L151.75,564.83 L152.50,563.26 L153.25,561.59 L154.00,559.84 L154.75,557.99 L155.50,556.05 L156.25,554.02 L157.00,551.91 L157.75,549.72 L158.50,547.44 L159.25,545.09 L160.00,542.66 L160.75,540.18 L161.50,537.63 L162.25,535.03 L163.00,532.39 L163.75,529.72 L164.50,527.02 L165.25,524.30 L166.00,521.58 L166.75,518.87 L167.50,516.18 L168.25,513.52 L169.00,510.91 L169.75,508.35 L170.50,505.86 L171.25,503.45 L172.00,501.14 L172.75,498.94 L173.50,496.85 L174.25,494.90 L175.00,493.09 L175.75,491.43 L176.50,489.93 L177.25,488.60 L178.00,487.46 L178.75,486.49 L179.50,485.73 L180.25,485.15 L181.00,484.78 L181.75,484.61 L182.50,484.65 L183.25,484.88 L184.00,485.32 L184.75,485.96 L185.50,486.79 L186.25,487.82 L187.00,489.02 L187.75,490.41 L188.50,491.96 L189.25,493.67 L190.00,495.53 L190.75,497.53 L191.50,499.66 L192.25,501.90 L193.00,504.25 L193.75,506.68 L194.50,509.20 L195.25,511.78 L196.00,514.41 L196.75,517.08 L197.50,519.78 L198.25,522.49 L199.00,525.21 L199.75,527.92 L200.50,530.61 L201.25,533.28 L202.00,535.90 L202.75,538.48 L203.50,541.01 L204.25,543.48 L205.00,545.88 L205.75,548.21 L206.50,550.46 L207.25,552.63 L208.00,554.71 L208.75,556.71 L209.50,558.61 L210.25,560.43 L211.00,562.16 L211.75,563.79 L212.50,565.34 L213.25,566.80 L214.00,568.16 L214.75,569.45 L215.50,570.65 L216.25,571.76 L217.00,572.81 L217.75,573.77 L218.50,574.66 L219.25,575.49 L220.00,576.25 L220.75,576.95 L221.50,577.58 L222.25,578.17 L223.00,578.70 L223.75,579.19 L224.50,579.63 L225.25,580.02 L226.00,580.38 L226.75,580.71 L227.50,581.00 L228.25,581.26 L229.00,581.49 L229.75,581.70 L230.50,581.89 L231.25,582.05 L232.00,582.20 L232.75,582.33 L233.50,582.44 L234.25,582.54 L235.00,582.63 L235.75,582.71 L236.50,582.78 L237.25,582.84 L238.00,582.89 L238.75,582.93 L239.50,582.97 L240.25,583.01 L241.00,583.04 L241.75,583.06 L242.50,583.08 L243.25,583.10 L244.00,583.12 L244.75,583.13 L245.50,583.14 L246.25,583.15 L247.00,583.16 L247.75,583.16 L248.50,583.17 L249.25,583.18 L250.00,583.18 L250.75,583.18 L251.50,583.19 L252.25,583.19 L253.00,583.19 L253.75,583.19 L254.50,583.19 L255.25,583.19 L256.00,583.20 L256.75,583.20 L257.50,583.20 L258.25,583.20 L259.00,583.20 L259.75,583.20 L260.50,583.20 L261.25,583.20 L262.00,583.20 L262.75,583.20 L263.50,583.20 L264.25,583.20 L265.00,583.20 L265.75,583.20" fill="none" stroke="#ed7d31" stroke-width="2.6" stroke-linejoin="round"/>
<path d="M80.50,583.20 L81.25,583.20 L82.00,583.20 L82.75,583.20 L83.50,583.20 L84.25,583.20 L85.00,583.20 L85.75,583.20 L86.50,583.20 L87.25,583.20 L88.00,583.20 L88.75,583.20 L89.50,583.20 L90.25,583.20 L91.00,583.20 L91.75,583.20 L92.50,583.20 L93.25,583.20 L94.00,583.20 L94.75,583.20 L95.50,583.20 L96.25,583.20 L97.00,583.20 L97.75,583.20 L98.50,583.20 L99.25,583.20 L100.00,583.20 L100.75,583.20 L101.50,583.20 L102.25,583.20 L103.00,583.20 L103.75,583.20 L104.50,583.20 L105.25,583.20 L106.00,583.20 L106.75,583.20 L107.50,583.20 L108.25,583.20 L109.00,583.20 L109.75,583.20 L110.50,583.20 L111.25,583.20 L112.00,583.20 L112.75,583.20 L113.50,583.20 L114.25,583.20 L115.00,583.20 L115.75,583.20 L116.50,583.20 L117.25,583.20 L118.00,583.20 L118.75,583.20 L119.50,583.20 L120.25,583.20 L121.00,583.20 L121.75,583.20 L122.50,583.20 L123.25,583.20 L124.00,583.20 L124.75,583.20 L125.50,583.20 L126.25,583.20 L127.00,583.20 L127.75,583.20 L128.50,583.20 L129.25,583.20 L130.00,583.20 L130.75,583.20 L131.50,583.20 L132.25,583.20 L133.00,583.20 L133.75,583.20 L134.50,583.20 L135.25,583.20 L136.00,583.20 L136.75,583.20 L137.50,583.20 L138.25,583.20 L139.00,583.20 L139.75,583.20 L140.50,583.20 L141.25,583.20 L142.00,583.20 L142.75,583.20 L143.50,583.20 L144.25,583.20 L145.00,583.20 L145.75,583.20 L146.50,583.20 L147.25,583.20 L148.00,583.20 L148.75,583.20 L149.50,583.20 L150.25,583.20 L151.00,583.20 L151.75,583.20 L152.50,583.20 L153.25,583.20 L154.00,583.20 L154.75,583.20 L155.50,583.20 L156.25,583.20 L157.00,583.20 L157.75,583.20 L158.50,583.20 L159.25,583.20 L160.00,583.20 L160.75,583.20 L161.50,583.20 L162.25,583.20 L163.00,583.20 L163.75,583.20 L164.50,583.20 L165.25,583.20 L166.00,583.20 L166.75,583.20 L167.50,583.20 L168.25,583.20 L169.00,583.20 L169.75,583.20 L170.50,583.19 L171.25,583.19 L172.00,583.19 L172.75,583.19 L173.50,583.18 L174.25,583.18 L175.00,583.17 L175.75,583.16 L176.50,583.15 L177.25,583.13 L178.00,583.12 L178.75,583.09 L179.50,583.07 L180.25,583.03 L181.00,582.99 L181.75,582.94 L182.50,582.87 L183.25,582.80 L184.00,582.70 L184.75,582.59 L185.50,582.46 L186.25,582.31 L187.00,582.12 L187.75,581.91 L188.50,581.66 L189.25,581.37 L190.00,581.04 L190.75,580.66 L191.50,580.22 L192.25,579.73 L193.00,579.18 L193.75,578.56 L194.50,577.88 L195.25,577.12 L196.00,576.28 L196.75,575.37 L197.50,574.39 L198.25,573.32 L199.00,572.18 L199.75,570.97 L200.50,569.69 L201.25,568.35 L202.00,566.95 L202.75,565.51 L203.50,564.03 L204.25,562.53 L205.00,561.02 L205.75,559.52 L206.50,558.03 L207.25,556.57 L208.00,555.17 L208.75,553.84 L209.50,552.59 L210.25,551.45 L211.00,550.41 L211.75,549.51 L212.50,548.75 L213.25,548.14 L214.00,547.69 L214.75,547.41 L215.50,547.30 L216.25,547.36 L217.00,547.60 L217.75,548.00 L218.50,548.57 L219.25,549.29 L220.00,550.16 L220.75,551.16 L221.50,552.28 L222.25,553.50 L223.00,554.81 L223.75,556.20 L224.50,557.64 L225.25,559.12 L226.00,560.62 L226.75,562.13 L227.50,563.64 L228.25,565.12 L229.00,566.57 L229.75,567.98 L230.50,569.34 L231.25,570.64 L232.00,571.87 L232.75,573.03 L233.50,574.11 L234.25,575.12 L235.00,576.05 L235.75,576.90 L236.50,577.68 L237.25,578.39 L238.00,579.02 L238.75,579.59 L239.50,580.10 L240.25,580.55 L241.00,580.94 L241.75,581.29 L242.50,581.59 L243.25,581.85 L244.00,582.07 L244.75,582.26 L245.50,582.42 L246.25,582.56 L247.00,582.68 L247.75,582.77 L248.50,582.85 L249.25,582.92 L250.00,582.98 L250.75,583.02 L251.50,583.06 L252.25,583.09 L253.00,583.11 L253.75,583.13 L254.50,583.15 L255.25,583.16 L256.00,583.17 L256.75,583.17 L257.50,583.18 L258.25,583.19 L259.00,583.19 L259.75,583.19 L260.50,583.19 L261.25,583.20 L262.00,583.20 L262.75,583.20 L263.50,583.20 L264.25,583.20 L265.00,583.20 L265.75,583.20" fill="none" stroke="#4472c4" stroke-width="2.6" stroke-linejoin="round"/>
<path d="M79.20,575.70 C80.25,575.08 83.20,573.12 85.50,572.00 C87.80,570.88 90.52,570.00 93.00,569.00 C95.48,568.00 97.92,568.75 100.40,566.00 C102.88,563.25 105.40,557.98 107.90,552.50 C110.40,547.02 112.92,539.82 115.40,533.10 C117.88,526.38 120.32,518.92 122.80,512.20 C125.28,505.48 127.80,498.53 130.30,492.80 C132.80,487.07 135.80,481.28 137.80,477.80 C139.80,474.32 140.32,473.77 142.30,471.90 C144.28,470.03 146.97,468.23 149.70,466.60 C152.43,464.97 155.95,463.72 158.70,462.10 C161.45,460.48 164.08,458.52 166.20,456.90 C168.32,455.28 170.27,453.18 171.40,452.40 C172.53,451.62 171.48,450.58 173.00,452.20 C174.52,453.82 178.02,458.82 180.50,462.10 C182.98,465.38 185.67,467.03 187.90,471.90 C190.13,476.77 191.65,485.58 193.90,491.30 C196.15,497.02 199.15,501.97 201.40,506.20 C203.65,510.43 205.42,513.22 207.40,516.70 C209.38,520.18 211.07,523.12 213.30,527.10 C215.53,531.08 218.55,535.62 220.80,540.60 C223.05,545.58 224.80,552.27 226.80,557.00 C228.80,561.73 230.80,565.50 232.80,569.00 C234.80,572.50 236.82,575.77 238.80,578.00 C240.78,580.23 239.90,581.57 244.70,582.40 C249.50,583.23 263.78,582.90 267.60,583.00" fill="none" stroke="#e41e26" stroke-width="3" stroke-dasharray="18 18" stroke-dashoffset="0" stroke-linejoin="round" stroke-linecap="round"/>
<path d="M79.20,735.20 C80.50,734.70 84.20,733.70 87.00,732.20 C89.80,730.70 93.27,728.32 96.00,726.20 C98.73,724.08 100.92,722.87 103.40,719.50 C105.88,716.13 108.40,711.48 110.90,706.00 C113.40,700.52 115.92,693.82 118.40,686.60 C120.88,679.38 123.32,669.92 125.80,662.70 C128.28,655.48 130.80,649.28 133.30,643.30 C135.80,637.32 138.30,631.28 140.80,626.80 C143.30,622.32 145.57,619.38 148.30,616.40 C151.03,613.42 154.47,611.27 157.20,608.90 C159.93,606.53 162.20,603.73 164.70,602.20 C167.20,600.67 170.08,599.90 172.20,599.70 C174.32,599.50 176.02,599.72 177.40,601.00 C178.78,602.28 179.23,605.08 180.50,607.40 C181.77,609.72 183.27,611.17 185.00,614.90 C186.73,618.63 188.92,624.57 190.90,629.80 C192.88,635.03 194.65,640.57 196.90,646.30 C199.15,652.03 202.15,658.73 204.40,664.20 C206.65,669.67 208.42,675.12 210.40,679.10 C212.38,683.08 214.32,684.12 216.30,688.10 C218.28,692.08 220.30,698.27 222.30,703.00 C224.30,707.73 226.30,712.50 228.30,716.50 C230.30,720.50 232.07,724.13 234.30,727.00 C236.53,729.87 239.47,732.20 241.70,733.70 C243.93,735.20 243.38,735.62 247.70,736.00 C252.02,736.38 264.28,736.00 267.60,736.00" fill="none" stroke="#000" stroke-width="3.2" stroke-linejoin="round" stroke-linecap="round"/>
<path d="M80.50,735.67 L81.25,735.53 L82.00,735.37 L82.75,735.19 L83.50,735.00 L84.25,734.80 L85.00,734.57 L85.75,734.32 L86.50,734.06 L87.25,733.77 L88.00,733.46 L88.75,733.12 L89.50,732.75 L90.25,732.36 L91.00,731.93 L91.75,731.48 L92.50,730.99 L93.25,730.47 L94.00,729.91 L94.75,729.31 L95.50,728.67 L96.25,727.99 L97.00,727.27 L97.75,726.50 L98.50,725.68 L99.25,724.82 L100.00,723.91 L100.75,722.95 L101.50,721.94 L102.25,720.88 L103.00,719.76 L103.75,718.59 L104.50,717.37 L105.25,716.09 L106.00,714.75 L106.75,713.36 L107.50,711.92 L108.25,710.42 L109.00,708.87 L109.75,707.26 L110.50,705.61 L111.25,703.90 L112.00,702.14 L112.75,700.34 L113.50,698.50 L114.25,696.61 L115.00,694.69 L115.75,692.73 L116.50,690.74 L117.25,688.72 L118.00,686.67 L118.75,684.61 L119.50,682.53 L120.25,680.44 L121.00,678.35 L121.75,676.25 L122.50,674.17 L123.25,672.09 L124.00,670.03 L124.75,667.99 L125.50,665.98 L126.25,664.01 L127.00,662.07 L127.75,660.19 L128.50,658.35 L129.25,656.58 L130.00,654.87 L130.75,653.23 L131.50,651.66 L132.25,650.18 L133.00,648.79 L133.75,647.48 L134.50,646.27 L135.25,645.17 L136.00,644.17 L136.75,643.28 L137.50,642.49 L138.25,641.83 L139.00,641.28 L139.75,640.85 L140.50,640.55 L141.25,640.36 L142.00,640.30 L142.75,640.36 L143.50,640.55 L144.25,640.85 L145.00,641.28 L145.75,641.83 L146.50,642.49 L147.25,643.28 L148.00,644.17 L148.75,645.17 L149.50,646.27 L150.25,647.48 L151.00,648.79 L151.75,650.18 L152.50,651.66 L153.25,653.23 L154.00,654.87 L154.75,656.58 L155.50,658.35 L156.25,660.19 L157.00,662.07 L157.75,664.01 L158.50,665.98 L159.25,667.99 L160.00,670.03 L160.75,672.09 L161.50,674.17 L162.25,676.25 L163.00,678.35 L163.75,680.44 L164.50,682.53 L165.25,684.61 L166.00,686.67 L166.75,688.72 L167.50,690.74 L168.25,692.73 L169.00,694.69 L169.75,696.61 L170.50,698.50 L171.25,700.34 L172.00,702.14 L172.75,703.90 L173.50,705.61 L174.25,707.26 L175.00,708.87 L175.75,710.42 L176.50,711.92 L177.25,713.36 L178.00,714.75 L178.75,716.09 L179.50,717.37 L180.25,718.59 L181.00,719.76 L181.75,720.88 L182.50,721.94 L183.25,722.95 L184.00,723.91 L184.75,724.82 L185.50,725.68 L186.25,726.50 L187.00,727.27 L187.75,727.99 L188.50,728.67 L189.25,729.31 L190.00,729.91 L190.75,730.47 L191.50,730.99 L192.25,731.48 L193.00,731.93 L193.75,732.36 L194.50,732.75 L195.25,733.12 L196.00,733.46 L196.75,733.77 L197.50,734.06 L198.25,734.32 L199.00,734.57 L199.75,734.80 L200.50,735.00 L201.25,735.19 L202.00,735.37 L202.75,735.53 L203.50,735.67 L204.25,735.81 L205.00,735.93 L205.75,736.04 L206.50,736.14 L207.25,736.23 L208.00,736.31 L208.75,736.38 L209.50,736.45 L210.25,736.51 L211.00,736.56 L211.75,736.61 L212.50,736.65 L213.25,736.69 L214.00,736.73 L214.75,736.76 L215.50,736.79 L216.25,736.81 L217.00,736.84 L217.75,736.86 L218.50,736.87 L219.25,736.89 L220.00,736.90 L220.75,736.91 L221.50,736.93 L222.25,736.93 L223.00,736.94 L223.75,736.95 L224.50,736.96 L225.25,736.96 L226.00,736.97 L226.75,736.97 L227.50,736.98 L228.25,736.98 L229.00,736.98 L229.75,736.98 L230.50,736.99 L231.25,736.99 L232.00,736.99 L232.75,736.99 L233.50,736.99 L234.25,736.99 L235.00,736.99 L235.75,737.00 L236.50,737.00 L237.25,737.00 L238.00,737.00 L238.75,737.00 L239.50,737.00 L240.25,737.00 L241.00,737.00 L241.75,737.00 L242.50,737.00 L243.25,737.00 L244.00,737.00 L244.75,737.00 L245.50,737.00 L246.25,737.00 L247.00,737.00 L247.75,737.00 L248.50,737.00 L249.25,737.00 L250.00,737.00 L250.75,737.00 L251.50,737.00 L252.25,737.00 L253.00,737.00 L253.75,737.00 L254.50,737.00 L255.25,737.00 L256.00,737.00 L256.75,737.00 L257.50,737.00 L258.25,737.00 L259.00,737.00 L259.75,737.00 L260.50,737.00 L261.25,737.00 L262.00,737.00 L262.75,737.00 L263.50,737.00 L264.25,737.00 L265.00,737.00 L265.75,737.00" fill="none" stroke="#a5a5a5" stroke-width="2.6" stroke-linejoin="round"/>
<path d="M80.50,737.00 L81.25,737.00 L82.00,737.00 L82.75,737.00 L83.50,737.00 L84.25,737.00 L85.00,737.00 L85.75,737.00 L86.50,737.00 L87.25,737.00 L88.00,737.00 L88.75,737.00 L89.50,737.00 L90.25,737.00 L91.00,737.00 L91.75,737.00 L92.50,737.00 L93.25,737.00 L94.00,737.00 L94.75,737.00 L95.50,737.00 L96.25,737.00 L97.00,737.00 L97.75,737.00 L98.50,737.00 L99.25,737.00 L100.00,737.00 L100.75,737.00 L101.50,737.00 L102.25,736.99 L103.00,736.99 L103.75,736.99 L104.50,736.99 L105.25,736.99 L106.00,736.99 L106.75,736.98 L107.50,736.98 L108.25,736.98 L109.00,736.97 L109.75,736.97 L110.50,736.96 L111.25,736.96 L112.00,736.95 L112.75,736.94 L113.50,736.93 L114.25,736.91 L115.00,736.90 L115.75,736.88 L116.50,736.86 L117.25,736.84 L118.00,736.81 L118.75,736.78 L119.50,736.74 L120.25,736.70 L121.00,736.65 L121.75,736.60 L122.50,736.53 L123.25,736.46 L124.00,736.38 L124.75,736.29 L125.50,736.19 L126.25,736.07 L127.00,735.94 L127.75,735.80 L128.50,735.63 L129.25,735.45 L130.00,735.24 L130.75,735.01 L131.50,734.76 L132.25,734.47 L133.00,734.16 L133.75,733.81 L134.50,733.43 L135.25,733.00 L136.00,732.54 L136.75,732.03 L137.50,731.47 L138.25,730.87 L139.00,730.20 L139.75,729.48 L140.50,728.70 L141.25,727.86 L142.00,726.94 L142.75,725.96 L143.50,724.90 L144.25,723.77 L145.00,722.55 L145.75,721.25 L146.50,719.87 L147.25,718.40 L148.00,716.84 L148.75,715.19 L149.50,713.45 L150.25,711.61 L151.00,709.68 L151.75,707.66 L152.50,705.55 L153.25,703.35 L154.00,701.06 L154.75,698.69 L155.50,696.23 L156.25,693.70 L157.00,691.09 L157.75,688.42 L158.50,685.68 L159.25,682.89 L160.00,680.05 L160.75,677.17 L161.50,674.27 L162.25,671.34 L163.00,668.40 L163.75,665.46 L164.50,662.54 L165.25,659.63 L166.00,656.76 L166.75,653.94 L167.50,651.17 L168.25,648.48 L169.00,645.86 L169.75,643.35 L170.50,640.94 L171.25,638.65 L172.00,636.48 L172.75,634.46 L173.50,632.60 L174.25,630.89 L175.00,629.35 L175.75,627.99 L176.50,626.82 L177.25,625.83 L178.00,625.05 L178.75,624.46 L179.50,624.08 L180.25,623.91 L181.00,623.95 L181.75,624.19 L182.50,624.64 L183.25,625.29 L184.00,626.14 L184.75,627.19 L185.50,628.42 L186.25,629.84 L187.00,631.44 L187.75,633.20 L188.50,635.12 L189.25,637.19 L190.00,639.40 L190.75,641.73 L191.50,644.17 L192.25,646.72 L193.00,649.37 L193.75,652.09 L194.50,654.87 L195.25,657.71 L196.00,660.60 L196.75,663.51 L197.50,666.44 L198.25,669.38 L199.00,672.32 L199.75,675.24 L200.50,678.14 L201.25,681.00 L202.00,683.83 L202.75,686.60 L203.50,689.32 L204.25,691.97 L205.00,694.55 L205.75,697.06 L206.50,699.49 L207.25,701.84 L208.00,704.10 L208.75,706.27 L209.50,708.35 L210.25,710.34 L211.00,712.23 L211.75,714.04 L212.50,715.75 L213.25,717.37 L214.00,718.90 L214.75,720.34 L215.50,721.69 L216.25,722.96 L217.00,724.15 L217.75,725.26 L218.50,726.29 L219.25,727.26 L220.00,728.15 L220.75,728.97 L221.50,729.73 L222.25,730.43 L223.00,731.07 L223.75,731.66 L224.50,732.21 L225.25,732.70 L226.00,733.15 L226.75,733.56 L227.50,733.93 L228.25,734.27 L229.00,734.57 L229.75,734.84 L230.50,735.09 L231.25,735.31 L232.00,735.51 L232.75,735.69 L233.50,735.85 L234.25,735.99 L235.00,736.11 L235.75,736.23 L236.50,736.32 L237.25,736.41 L238.00,736.49 L238.75,736.56 L239.50,736.62 L240.25,736.67 L241.00,736.71 L241.75,736.75 L242.50,736.79 L243.25,736.82 L244.00,736.84 L244.75,736.87 L245.50,736.89 L246.25,736.90 L247.00,736.92 L247.75,736.93 L248.50,736.94 L249.25,736.95 L250.00,736.96 L250.75,736.96 L251.50,736.97 L252.25,736.97 L253.00,736.98 L253.75,736.98 L254.50,736.99 L255.25,736.99 L256.00,736.99 L256.75,736.99 L257.50,736.99 L258.25,736.99 L259.00,737.00 L259.75,737.00 L260.50,737.00 L261.25,737.00 L262.00,737.00 L262.75,737.00 L263.50,737.00 L264.25,737.00 L265.00,737.00 L265.75,737.00" fill="none" stroke="#ed7d31" stroke-width="2.6" stroke-linejoin="round"/>
<path d="M80.50,737.00 L81.25,737.00 L82.00,737.00 L82.75,737.00 L83.50,737.00 L84.25,737.00 L85.00,737.00 L85.75,737.00 L86.50,737.00 L87.25,737.00 L88.00,737.00 L88.75,737.00 L89.50,737.00 L90.25,737.00 L91.00,737.00 L91.75,737.00 L92.50,737.00 L93.25,737.00 L94.00,737.00 L94.75,737.00 L95.50,737.00 L96.25,737.00 L97.00,737.00 L97.75,737.00 L98.50,737.00 L99.25,737.00 L100.00,737.00 L100.75,737.00 L101.50,737.00 L102.25,737.00 L103.00,737.00 L103.75,737.00 L104.50,737.00 L105.25,737.00 L106.00,737.00 L106.75,737.00 L107.50,737.00 L108.25,737.00 L109.00,737.00 L109.75,737.00 L110.50,737.00 L111.25,737.00 L112.00,737.00 L112.75,737.00 L113.50,737.00 L114.25,737.00 L115.00,737.00 L115.75,737.00 L116.50,737.00 L117.25,737.00 L118.00,737.00 L118.75,737.00 L119.50,737.00 L120.25,737.00 L121.00,737.00 L121.75,737.00 L122.50,737.00 L123.25,737.00 L124.00,737.00 L124.75,737.00 L125.50,737.00 L126.25,737.00 L127.00,737.00 L127.75,737.00 L128.50,737.00 L129.25,737.00 L130.00,737.00 L130.75,737.00 L131.50,737.00 L132.25,737.00 L133.00,737.00 L133.75,737.00 L134.50,737.00 L135.25,737.00 L136.00,737.00 L136.75,737.00 L137.50,737.00 L138.25,737.00 L139.00,737.00 L139.75,737.00 L140.50,737.00 L141.25,737.00 L142.00,737.00 L142.75,737.00 L143.50,737.00 L144.25,737.00 L145.00,737.00 L145.75,737.00 L146.50,737.00 L147.25,737.00 L148.00,737.00 L148.75,737.00 L149.50,737.00 L150.25,737.00 L151.00,737.00 L151.75,737.00 L152.50,737.00 L153.25,737.00 L154.00,737.00 L154.75,737.00 L155.50,737.00 L156.25,737.00 L157.00,737.00 L157.75,737.00 L158.50,737.00 L159.25,737.00 L160.00,737.00 L160.75,737.00 L161.50,737.00 L162.25,737.00 L163.00,737.00 L163.75,737.00 L164.50,737.00 L165.25,737.00 L166.00,737.00 L166.75,737.00 L167.50,737.00 L168.25,737.00 L169.00,737.00 L169.75,737.00 L170.50,737.00 L171.25,737.00 L172.00,737.00 L172.75,736.99 L173.50,736.99 L174.25,736.99 L175.00,736.99 L175.75,736.98 L176.50,736.98 L177.25,736.97 L178.00,736.96 L178.75,736.95 L179.50,736.94 L180.25,736.92 L181.00,736.90 L181.75,736.87 L182.50,736.84 L183.25,736.80 L184.00,736.75 L184.75,736.69 L185.50,736.62 L186.25,736.54 L187.00,736.44 L187.75,736.32 L188.50,736.18 L189.25,736.02 L190.00,735.83 L190.75,735.61 L191.50,735.36 L192.25,735.07 L193.00,734.74 L193.75,734.37 L194.50,733.95 L195.25,733.49 L196.00,732.97 L196.75,732.39 L197.50,731.76 L198.25,731.07 L199.00,730.32 L199.75,729.52 L200.50,728.65 L201.25,727.73 L202.00,726.77 L202.75,725.75 L203.50,724.69 L204.25,723.60 L205.00,722.48 L205.75,721.34 L206.50,720.20 L207.25,719.06 L208.00,717.93 L208.75,716.83 L209.50,715.77 L210.25,714.76 L211.00,713.81 L211.75,712.94 L212.50,712.16 L213.25,711.47 L214.00,710.90 L214.75,710.44 L215.50,710.10 L216.25,709.88 L217.00,709.80 L217.75,709.85 L218.50,710.03 L219.25,710.33 L220.00,710.76 L220.75,711.31 L221.50,711.97 L222.25,712.72 L223.00,713.57 L223.75,714.50 L224.50,715.49 L225.25,716.54 L226.00,717.63 L226.75,718.75 L227.50,719.89 L228.25,721.04 L229.00,722.18 L229.75,723.30 L230.50,724.40 L231.25,725.47 L232.00,726.50 L232.75,727.48 L233.50,728.41 L234.25,729.29 L235.00,730.11 L235.75,730.88 L236.50,731.58 L237.25,732.23 L238.00,732.82 L238.75,733.35 L239.50,733.83 L240.25,734.27 L241.00,734.65 L241.75,734.99 L242.50,735.29 L243.25,735.55 L244.00,735.78 L244.75,735.97 L245.50,736.14 L246.25,736.29 L247.00,736.41 L247.75,736.52 L248.50,736.60 L249.25,736.68 L250.00,736.74 L250.75,736.79 L251.50,736.83 L252.25,736.86 L253.00,736.89 L253.75,736.91 L254.50,736.93 L255.25,736.95 L256.00,736.96 L256.75,736.97 L257.50,736.98 L258.25,736.98 L259.00,736.99 L259.75,736.99 L260.50,736.99 L261.25,736.99 L262.00,737.00 L262.75,737.00 L263.50,737.00 L264.25,737.00 L265.00,737.00 L265.75,737.00" fill="none" stroke="#4472c4" stroke-width="2.6" stroke-linejoin="round"/>
<path d="M79.20,735.20 C80.50,734.70 84.20,733.70 87.00,732.20 C89.80,730.70 93.27,728.32 96.00,726.20 C98.73,724.08 100.92,722.87 103.40,719.50 C105.88,716.13 108.40,711.48 110.90,706.00 C113.40,700.52 115.92,693.82 118.40,686.60 C120.88,679.38 123.32,669.92 125.80,662.70 C128.28,655.48 130.80,649.28 133.30,643.30 C135.80,637.32 138.30,631.28 140.80,626.80 C143.30,622.32 145.57,619.38 148.30,616.40 C151.03,613.42 154.47,611.27 157.20,608.90 C159.93,606.53 162.20,603.73 164.70,602.20 C167.20,600.67 170.08,599.90 172.20,599.70 C174.32,599.50 176.02,599.72 177.40,601.00 C178.78,602.28 179.23,605.08 180.50,607.40 C181.77,609.72 183.27,611.17 185.00,614.90 C186.73,618.63 188.92,624.57 190.90,629.80 C192.88,635.03 194.65,640.57 196.90,646.30 C199.15,652.03 202.15,658.73 204.40,664.20 C206.65,669.67 208.42,675.12 210.40,679.10 C212.38,683.08 214.32,684.12 216.30,688.10 C218.28,692.08 220.30,698.27 222.30,703.00 C224.30,707.73 226.30,712.50 228.30,716.50 C230.30,720.50 232.07,724.13 234.30,727.00 C236.53,729.87 239.47,732.20 241.70,733.70 C243.93,735.20 243.38,735.62 247.70,736.00 C252.02,736.38 264.28,736.00 267.60,736.00" fill="none" stroke="#e41e26" stroke-width="3" stroke-dasharray="18 18" stroke-dashoffset="0" stroke-linejoin="round" stroke-linecap="round"/>
<path d="M79.20,866.00 C80.00,866.13 82.33,866.92 84.00,866.80 C85.67,866.68 87.70,865.05 89.20,865.30 C90.70,865.55 91.87,867.07 93.00,868.30 C94.13,869.53 94.77,871.72 96.00,872.70 C97.23,873.68 99.03,873.57 100.40,874.20 C101.77,874.83 102.95,875.13 104.20,876.50 C105.45,877.87 106.53,880.92 107.90,882.40 C109.27,883.88 110.40,884.85 112.40,885.40 C114.40,885.95 117.67,885.57 119.90,885.70 C122.13,885.83 124.07,886.50 125.80,886.20 C127.53,885.90 128.55,885.02 130.30,883.90 C132.05,882.78 134.55,880.98 136.30,879.50 C138.05,878.02 139.55,876.63 140.80,875.00 C142.05,873.37 142.55,871.45 143.80,869.70 C145.05,867.95 146.82,866.45 148.30,864.50 C149.78,862.55 150.97,861.25 152.70,858.00 C154.43,854.75 156.70,851.33 158.70,845.00 C160.70,838.67 162.95,827.92 164.70,820.00 C166.45,812.08 167.70,805.17 169.20,797.50 C170.70,789.83 172.33,779.92 173.70,774.00 C175.07,768.08 176.15,764.53 177.40,762.00 C178.65,759.47 180.02,759.05 181.20,758.80 C182.38,758.55 183.38,758.32 184.50,760.50 C185.62,762.68 186.33,766.52 187.90,771.90 C189.47,777.28 191.90,785.83 193.90,792.80 C195.90,799.77 197.90,807.23 199.90,813.70 C201.90,820.17 204.40,827.22 205.90,831.60 C207.40,835.98 207.88,837.93 208.90,840.00 C209.92,842.07 210.77,842.40 212.00,844.00 C213.23,845.60 214.72,847.43 216.30,849.60 C217.88,851.77 219.75,854.77 221.50,857.00 C223.25,859.23 224.92,861.50 226.80,863.00 C228.68,864.50 230.55,865.55 232.80,866.00 C235.05,866.45 237.82,865.45 240.30,865.70 C242.78,865.95 245.22,866.58 247.70,867.50 C250.18,868.42 252.95,870.83 255.20,871.20 C257.45,871.57 259.45,870.43 261.20,869.70 C262.95,868.97 264.63,867.33 265.70,866.80 C266.77,866.27 267.28,866.55 267.60,866.50" fill="none" stroke="#000" stroke-width="3.2" stroke-linejoin="round" stroke-linecap="round"/>
<path d="M80.50,869.70 L81.25,869.70 L82.00,869.70 L82.75,869.70 L83.50,869.70 L84.25,869.70 L85.00,869.70 L85.75,869.70 L86.50,869.70 L87.25,869.70 L88.00,869.70 L88.75,869.70 L89.50,869.70 L90.25,869.70 L91.00,869.70 L91.75,869.70 L92.50,869.70 L93.25,869.70 L94.00,869.70 L94.75,869.70 L95.50,869.70 L96.25,869.70 L97.00,869.70 L97.75,869.70 L98.50,869.70 L99.25,869.70 L100.00,869.70 L100.75,869.70 L101.50,869.70 L102.25,869.70 L103.00,869.70 L103.75,869.70 L104.50,869.70 L105.25,869.70 L106.00,869.70 L106.75,869.70 L107.50,869.70 L108.25,869.70 L109.00,869.70 L109.75,869.70 L110.50,869.70 L111.25,869.70 L112.00,869.70 L112.75,869.70 L113.50,869.70 L114.25,869.70 L115.00,869.70 L115.75,869.70 L116.50,869.70 L117.25,869.70 L118.00,869.70 L118.75,869.70 L119.50,869.70 L120.25,869.70 L121.00,869.70 L121.75,869.70 L122.50,869.70 L123.25,869.70 L124.00,869.70 L124.75,869.70 L125.50,869.69 L126.25,869.69 L127.00,869.69 L127.75,869.69 L128.50,869.68 L129.25,869.68 L130.00,869.68 L130.75,869.67 L131.50,869.66 L132.25,869.65 L133.00,869.64 L133.75,869.62 L134.50,869.60 L135.25,869.57 L136.00,869.54 L136.75,869.50 L137.50,869.46 L138.25,869.40 L139.00,869.33 L139.75,869.25 L140.50,869.16 L141.25,869.04 L142.00,868.90 L142.75,868.74 L143.50,868.55 L144.25,868.32 L145.00,868.05 L145.75,867.75 L146.50,867.39 L147.25,866.97 L148.00,866.50 L148.75,865.95 L149.50,865.33 L150.25,864.62 L151.00,863.81 L151.75,862.91 L152.50,861.89 L153.25,860.75 L154.00,859.48 L154.75,858.08 L155.50,856.53 L156.25,854.83 L157.00,852.97 L157.75,850.94 L158.50,848.74 L159.25,846.37 L160.00,843.83 L160.75,841.11 L161.50,838.22 L162.25,835.16 L163.00,831.94 L163.75,828.56 L164.50,825.05 L165.25,821.41 L166.00,817.66 L166.75,813.82 L167.50,809.92 L168.25,805.97 L169.00,802.00 L169.75,798.05 L170.50,794.14 L171.25,790.30 L172.00,786.56 L172.75,782.96 L173.50,779.54 L174.25,776.31 L175.00,773.32 L175.75,770.58 L176.50,768.14 L177.25,766.01 L178.00,764.21 L178.75,762.77 L179.50,761.70 L180.25,761.01 L181.00,760.71 L181.75,760.81 L182.50,761.29 L183.25,762.16 L184.00,763.40 L184.75,765.01 L185.50,766.96 L186.25,769.24 L187.00,771.82 L187.75,774.68 L188.50,777.79 L189.25,781.11 L190.00,784.62 L190.75,788.29 L191.50,792.08 L192.25,795.95 L193.00,799.89 L193.75,803.85 L194.50,807.81 L195.25,811.75 L196.00,815.62 L196.75,819.42 L197.50,823.12 L198.25,826.70 L199.00,830.15 L199.75,833.46 L200.50,836.61 L201.25,839.59 L202.00,842.40 L202.75,845.04 L203.50,847.50 L204.25,849.79 L205.00,851.91 L205.75,853.86 L206.50,855.64 L207.25,857.27 L208.00,858.75 L208.75,860.09 L209.50,861.30 L210.25,862.38 L211.00,863.34 L211.75,864.20 L212.50,864.96 L213.25,865.63 L214.00,866.21 L214.75,866.73 L215.50,867.17 L216.25,867.56 L217.00,867.90 L217.75,868.18 L218.50,868.43 L219.25,868.64 L220.00,868.82 L220.75,868.97 L221.50,869.10 L222.25,869.20 L223.00,869.29 L223.75,869.37 L224.50,869.43 L225.25,869.48 L226.00,869.52 L226.75,869.56 L227.50,869.59 L228.25,869.61 L229.00,869.63 L229.75,869.64 L230.50,869.65 L231.25,869.66 L232.00,869.67 L232.75,869.68 L233.50,869.68 L234.25,869.69 L235.00,869.69 L235.75,869.69 L236.50,869.69 L237.25,869.70 L238.00,869.70 L238.75,869.70 L239.50,869.70 L240.25,869.70 L241.00,869.70 L241.75,869.70 L242.50,869.70 L243.25,869.70 L244.00,869.70 L244.75,869.70 L245.50,869.70 L246.25,869.70 L247.00,869.70 L247.75,869.70 L248.50,869.70 L249.25,869.70 L250.00,869.70 L250.75,869.70 L251.50,869.70 L252.25,869.70 L253.00,869.70 L253.75,869.70 L254.50,869.70 L255.25,869.70 L256.00,869.70 L256.75,869.70 L257.50,869.70 L258.25,869.70 L259.00,869.70 L259.75,869.70 L260.50,869.70 L261.25,869.70 L262.00,869.70 L262.75,869.70 L263.50,869.70 L264.25,869.70 L265.00,869.70 L265.75,869.70" fill="none" stroke="#ed7d31" stroke-width="2.6" stroke-linejoin="round"/>
<path d="M80.50,869.70 L81.25,869.70 L82.00,869.70 L82.75,869.70 L83.50,869.70 L84.25,869.70 L85.00,869.70 L85.75,869.70 L86.50,869.70 L87.25,869.70 L88.00,869.70 L88.75,869.70 L89.50,869.70 L90.25,869.70 L91.00,869.70 L91.75,869.70 L92.50,869.70 L93.25,869.70 L94.00,869.70 L94.75,869.70 L95.50,869.70 L96.25,869.70 L97.00,869.70 L97.75,869.70 L98.50,869.70 L99.25,869.70 L100.00,869.70 L100.75,869.70 L101.50,869.70 L102.25,869.70 L103.00,869.70 L103.75,869.70 L104.50,869.70 L105.25,869.70 L106.00,869.70 L106.75,869.70 L107.50,869.70 L108.25,869.70 L109.00,869.70 L109.75,869.70 L110.50,869.70 L111.25,869.70 L112.00,869.70 L112.75,869.70 L113.50,869.70 L114.25,869.70 L115.00,869.70 L115.75,869.70 L116.50,869.70 L117.25,869.70 L118.00,869.70 L118.75,869.70 L119.50,869.70 L120.25,869.70 L121.00,869.70 L121.75,869.70 L122.50,869.70 L123.25,869.70 L124.00,869.70 L124.75,869.70 L125.50,869.70 L126.25,869.70 L127.00,869.70 L127.75,869.70 L128.50,869.70 L129.25,869.70 L130.00,869.70 L130.75,869.70 L131.50,869.70 L132.25,869.70 L133.00,869.70 L133.75,869.70 L134.50,869.70 L135.25,869.70 L136.00,869.70 L136.75,869.70 L137.50,869.70 L138.25,869.70 L139.00,869.70 L139.75,869.70 L140.50,869.70 L141.25,869.70 L142.00,869.70 L142.75,869.70 L143.50,869.70 L144.25,869.70 L145.00,869.70 L145.75,869.70 L146.50,869.70 L147.25,869.70 L148.00,869.70 L148.75,869.70 L149.50,869.70 L150.25,869.70 L151.00,869.70 L151.75,869.70 L152.50,869.70 L153.25,869.70 L154.00,869.70 L154.75,869.70 L155.50,869.70 L156.25,869.70 L157.00,869.70 L157.75,869.70 L158.50,869.69 L159.25,869.69 L160.00,869.69 L160.75,869.69 L161.50,869.68 L162.25,869.68 L163.00,869.68 L163.75,869.67 L164.50,869.66 L165.25,869.65 L166.00,869.64 L166.75,869.63 L167.50,869.61 L168.25,869.59 L169.00,869.57 L169.75,869.55 L170.50,869.51 L171.25,869.48 L172.00,869.43 L172.75,869.38 L173.50,869.32 L174.25,869.25 L175.00,869.17 L175.75,869.08 L176.50,868.97 L177.25,868.85 L178.00,868.72 L178.75,868.56 L179.50,868.39 L180.25,868.19 L181.00,867.97 L181.75,867.72 L182.50,867.45 L183.25,867.15 L184.00,866.83 L184.75,866.47 L185.50,866.08 L186.25,865.65 L187.00,865.20 L187.75,864.71 L188.50,864.18 L189.25,863.63 L190.00,863.04 L190.75,862.42 L191.50,861.77 L192.25,861.09 L193.00,860.39 L193.75,859.67 L194.50,858.94 L195.25,858.19 L196.00,857.43 L196.75,856.67 L197.50,855.91 L198.25,855.16 L199.00,854.43 L199.75,853.71 L200.50,853.02 L201.25,852.37 L202.00,851.75 L202.75,851.18 L203.50,850.66 L204.25,850.20 L205.00,849.79 L205.75,849.45 L206.50,849.18 L207.25,848.98 L208.00,848.85 L208.75,848.80 L209.50,848.82 L210.25,848.92 L211.00,849.09 L211.75,849.34 L212.50,849.65 L213.25,850.03 L214.00,850.47 L214.75,850.97 L215.50,851.52 L216.25,852.12 L217.00,852.76 L217.75,853.43 L218.50,854.14 L219.25,854.87 L220.00,855.61 L220.75,856.36 L221.50,857.12 L222.25,857.88 L223.00,858.64 L223.75,859.38 L224.50,860.11 L225.25,860.82 L226.00,861.50 L226.75,862.16 L227.50,862.79 L228.25,863.39 L229.00,863.96 L229.75,864.50 L230.50,865.00 L231.25,865.47 L232.00,865.91 L232.75,866.31 L233.50,866.69 L234.25,867.03 L235.00,867.34 L235.75,867.62 L236.50,867.87 L237.25,868.10 L238.00,868.31 L238.75,868.49 L239.50,868.66 L240.25,868.80 L241.00,868.93 L241.75,869.04 L242.50,869.14 L243.25,869.22 L244.00,869.29 L244.75,869.36 L245.50,869.41 L246.25,869.46 L247.00,869.50 L247.75,869.53 L248.50,869.56 L249.25,869.59 L250.00,869.61 L250.75,869.62 L251.50,869.64 L252.25,869.65 L253.00,869.66 L253.75,869.67 L254.50,869.67 L255.25,869.68 L256.00,869.68 L256.75,869.69 L257.50,869.69 L258.25,869.69 L259.00,869.69 L259.75,869.69 L260.50,869.70 L261.25,869.70 L262.00,869.70 L262.75,869.70 L263.50,869.70 L264.25,869.70 L265.00,869.70 L265.75,869.70" fill="none" stroke="#4472c4" stroke-width="2.6" stroke-linejoin="round"/>
<path d="M79.20,869.70 C89.33,869.70 128.98,869.82 140.00,869.70 C151.02,869.58 143.18,870.62 145.30,869.00 C147.42,867.38 150.47,863.73 152.70,860.00 C154.93,856.27 156.70,853.07 158.70,846.60 C160.70,840.13 162.95,829.17 164.70,821.20 C166.45,813.23 167.70,806.52 169.20,798.80 C170.70,791.08 172.33,780.87 173.70,774.90 C175.07,768.93 176.15,765.57 177.40,763.00 C178.65,760.43 180.02,759.83 181.20,759.50 C182.38,759.17 183.38,758.93 184.50,761.00 C185.62,763.07 186.33,766.60 187.90,771.90 C189.47,777.20 191.90,785.83 193.90,792.80 C195.90,799.77 197.90,807.23 199.90,813.70 C201.90,820.17 204.15,826.62 205.90,831.60 C207.65,836.58 208.67,840.35 210.40,843.60 C212.13,846.85 214.32,848.37 216.30,851.10 C218.28,853.83 220.05,857.52 222.30,860.00 C224.55,862.48 227.30,864.50 229.80,866.00 C232.30,867.50 234.77,868.38 237.30,869.00 C239.83,869.62 239.95,869.58 245.00,869.70 C250.05,869.82 263.83,869.70 267.60,869.70" fill="none" stroke="#e41e26" stroke-width="3" stroke-dasharray="18 18" stroke-dashoffset="34.5" stroke-linejoin="round" stroke-linecap="round"/>
<path d="M377.00,265.20 C377.50,264.00 379.03,259.72 380.00,258.00 C380.97,256.28 381.80,255.73 382.80,254.90 C383.80,254.07 385.08,253.40 386.00,253.00 C386.92,252.60 387.30,254.67 388.30,252.50 C389.30,250.33 390.67,243.72 392.00,240.00 C393.33,236.28 394.97,229.37 396.30,230.20 C397.63,231.03 398.47,239.43 400.00,245.00 C401.53,250.57 404.17,261.27 405.50,263.60 C406.83,265.93 407.02,261.12 408.00,259.00 C408.98,256.88 410.40,255.40 411.40,250.90 C412.40,246.40 413.07,239.17 414.00,232.00 C414.93,224.83 415.97,213.78 417.00,207.90 C418.03,202.02 419.03,197.85 420.20,196.70 C421.37,195.55 422.82,199.13 424.00,201.00 C425.18,202.87 426.30,208.07 427.30,207.90 C428.30,207.73 429.20,203.72 430.00,200.00 C430.80,196.28 431.27,191.93 432.10,185.60 C432.93,179.27 434.07,167.58 435.00,162.00 C435.93,156.42 436.70,151.93 437.70,152.10 C438.70,152.27 439.95,159.68 441.00,163.00 C442.05,166.32 443.08,172.50 444.00,172.00 C444.92,171.50 445.70,164.65 446.50,160.00 C447.30,155.35 447.88,149.00 448.80,144.10 C449.72,139.20 450.67,132.18 452.00,130.60 C453.33,129.02 455.33,133.28 456.80,134.60 C458.27,135.92 459.73,138.10 460.80,138.50 C461.87,138.90 462.33,135.92 463.20,137.00 C464.07,138.08 464.95,141.68 466.00,145.00 C467.05,148.32 468.13,153.97 469.50,156.90 C470.87,159.83 472.72,161.20 474.20,162.60 C475.68,164.00 477.00,162.05 478.40,165.30 C479.80,168.55 480.98,174.18 482.60,182.10 C484.22,190.02 486.48,203.73 488.10,212.80 C489.72,221.87 491.25,230.70 492.30,236.50 C493.35,242.30 493.82,245.98 494.40,247.60 C494.98,249.22 494.87,244.80 495.80,246.20 C496.73,247.60 498.48,251.35 500.00,256.00 C501.52,260.65 503.17,272.47 504.90,274.10 C506.63,275.73 508.32,268.58 510.40,265.80 C512.48,263.02 515.42,255.55 517.40,257.40 C519.38,259.25 521.20,272.47 522.30,276.90 C523.40,281.33 522.88,282.82 524.00,284.00 C525.12,285.18 527.17,288.33 529.00,284.00 C530.83,279.67 532.90,266.43 535.00,258.00 C537.10,249.57 539.85,235.90 541.60,233.40 C543.35,230.90 544.17,239.95 545.50,243.00 C546.83,246.05 548.18,252.20 549.60,251.70 C551.02,251.20 552.53,242.65 554.00,240.00 C555.47,237.35 557.15,235.80 558.40,235.80 C559.65,235.80 560.50,238.80 561.50,240.00 C562.50,241.20 563.92,242.50 564.40,243.00" fill="none" stroke="#000" stroke-width="3.2" stroke-linejoin="round" stroke-linecap="round"/>
<path d="M377.50,279.20 L378.25,279.20 L379.00,279.20 L379.75,279.20 L380.50,279.20 L381.25,279.20 L382.00,279.20 L382.75,279.20 L383.50,279.20 L384.25,279.20 L385.00,279.20 L385.75,279.20 L386.50,279.20 L387.25,279.20 L388.00,279.20 L388.75,279.20 L389.50,279.20 L390.25,279.20 L391.00,279.20 L391.75,279.20 L392.50,279.20 L393.25,279.20 L394.00,279.20 L394.75,279.20 L395.50,279.20 L396.25,279.20 L397.00,279.20 L397.75,279.20 L398.50,279.20 L399.25,279.20 L400.00,279.20 L400.75,279.19 L401.50,279.19 L402.25,279.18 L403.00,279.16 L403.75,279.13 L404.50,279.07 L405.25,278.97 L406.00,278.82 L406.75,278.56 L407.50,278.17 L408.25,277.57 L409.00,276.70 L409.75,275.47 L410.50,273.77 L411.25,271.51 L412.00,268.60 L412.75,264.96 L413.50,260.57 L414.25,255.48 L415.00,249.78 L415.75,243.67 L416.50,237.41 L417.25,231.34 L418.00,225.83 L418.75,221.25 L419.50,217.92 L420.25,216.10 L421.00,215.93 L421.75,217.43 L422.50,220.47 L423.25,224.83 L424.00,230.18 L424.75,236.17 L425.50,242.42 L426.25,248.58 L427.00,254.38 L427.75,259.61 L428.50,264.14 L429.25,267.93 L430.00,270.99 L430.75,273.37 L431.50,275.17 L432.25,276.49 L433.00,277.42 L433.75,278.07 L434.50,278.50 L435.25,278.77 L436.00,278.95 L436.75,279.06 L437.50,279.12 L438.25,279.16 L439.00,279.18 L439.75,279.19 L440.50,279.19 L441.25,279.20 L442.00,279.20 L442.75,279.20 L443.50,279.20 L444.25,279.20 L445.00,279.20 L445.75,279.20 L446.50,279.20 L447.25,279.20 L448.00,279.20 L448.75,279.20 L449.50,279.20 L450.25,279.20 L451.00,279.20 L451.75,279.20 L452.50,279.20 L453.25,279.20 L454.00,279.20 L454.75,279.20 L455.50,279.20 L456.25,279.20 L457.00,279.20 L457.75,279.20 L458.50,279.20 L459.25,279.20 L460.00,279.20 L460.75,279.20 L461.50,279.20 L462.25,279.20 L463.00,279.20 L463.75,279.20 L464.50,279.20 L465.25,279.20 L466.00,279.20 L466.75,279.20 L467.50,279.20 L468.25,279.20 L469.00,279.20 L469.75,279.20 L470.50,279.20 L471.25,279.20 L472.00,279.20 L472.75,279.20 L473.50,279.20 L474.25,279.20 L475.00,279.20 L475.75,279.20 L476.50,279.20 L477.25,279.20 L478.00,279.20 L478.75,279.20 L479.50,279.20 L480.25,279.20 L481.00,279.20 L481.75,279.20 L482.50,279.20 L483.25,279.20 L484.00,279.20 L484.75,279.20 L485.50,279.20 L486.25,279.20 L487.00,279.20 L487.75,279.20 L488.50,279.20 L489.25,279.20 L490.00,279.20 L490.75,279.20 L491.50,279.20 L492.25,279.20 L493.00,279.20 L493.75,279.20 L494.50,279.20 L495.25,279.20 L496.00,279.20 L496.75,279.20 L497.50,279.20 L498.25,279.20 L499.00,279.20 L499.75,279.20 L500.50,279.20 L501.25,279.20 L502.00,279.20 L502.75,279.20 L503.50,279.20 L504.25,279.20 L505.00,279.20 L505.75,279.20 L506.50,279.20 L507.25,279.20 L508.00,279.20 L508.75,279.20 L509.50,279.20 L510.25,279.20 L511.00,279.20 L511.75,279.20 L512.50,279.20 L513.25,279.20 L514.00,279.20 L514.75,279.20 L515.50,279.20 L516.25,279.20 L517.00,279.20 L517.75,279.20 L518.50,279.20 L519.25,279.20 L520.00,279.20 L520.75,279.20 L521.50,279.20 L522.25,279.20 L523.00,279.20 L523.75,279.20 L524.50,279.20 L525.25,279.20 L526.00,279.20 L526.75,279.20 L527.50,279.20 L528.25,279.20 L529.00,279.20 L529.75,279.20 L530.50,279.20 L531.25,279.20 L532.00,279.20 L532.75,279.20 L533.50,279.20 L534.25,279.20 L535.00,279.20 L535.75,279.20 L536.50,279.20 L537.25,279.20 L538.00,279.20 L538.75,279.20 L539.50,279.20 L540.25,279.20 L541.00,279.20 L541.75,279.20 L542.50,279.20 L543.25,279.20 L544.00,279.20 L544.75,279.20 L545.50,279.20 L546.25,279.20 L547.00,279.20 L547.75,279.20 L548.50,279.20 L549.25,279.20 L550.00,279.20 L550.75,279.20 L551.50,279.20 L552.25,279.20 L553.00,279.20 L553.75,279.20 L554.50,279.20 L555.25,279.20 L556.00,279.20 L556.75,279.20 L557.50,279.20 L558.25,279.20 L559.00,279.20 L559.75,279.20 L560.50,279.20 L561.25,279.20 L562.00,279.20 L562.75,279.20" fill="none" stroke="#a5a5a5" stroke-width="2.6" stroke-linejoin="round"/>
<path d="M377.50,279.20 L378.25,279.20 L379.00,279.20 L379.75,279.20 L380.50,279.20 L381.25,279.20 L382.00,279.20 L382.75,279.20 L383.50,279.20 L384.25,279.20 L385.00,279.20 L385.75,279.20 L386.50,279.20 L387.25,279.20 L388.00,279.20 L388.75,279.20 L389.50,279.20 L390.25,279.20 L391.00,279.20 L391.75,279.20 L392.50,279.20 L393.25,279.20 L394.00,279.20 L394.75,279.20 L395.50,279.20 L396.25,279.20 L397.00,279.20 L397.75,279.20 L398.50,279.20 L399.25,279.20 L400.00,279.20 L400.75,279.20 L401.50,279.20 L402.25,279.20 L403.00,279.20 L403.75,279.20 L404.50,279.20 L405.25,279.20 L406.00,279.20 L406.75,279.20 L407.50,279.20 L408.25,279.20 L409.00,279.20 L409.75,279.20 L410.50,279.20 L411.25,279.20 L412.00,279.20 L412.75,279.20 L413.50,279.20 L414.25,279.20 L415.00,279.20 L415.75,279.20 L416.50,279.19 L417.25,279.19 L418.00,279.18 L418.75,279.16 L419.50,279.13 L420.25,279.07 L421.00,278.97 L421.75,278.81 L422.50,278.55 L423.25,278.13 L424.00,277.49 L424.75,276.53 L425.50,275.15 L426.25,273.20 L427.00,270.53 L427.75,266.98 L428.50,262.40 L429.25,256.68 L430.00,249.74 L430.75,241.62 L431.50,232.44 L432.25,222.45 L433.00,212.02 L433.75,201.64 L434.50,191.85 L435.25,183.25 L436.00,176.40 L436.75,171.77 L437.50,169.70 L438.25,170.33 L439.00,173.63 L439.75,179.35 L440.50,187.08 L441.25,196.31 L442.00,206.45 L442.75,216.92 L443.50,227.19 L444.25,236.84 L445.00,245.55 L445.75,253.13 L446.50,259.50 L447.25,264.68 L448.00,268.76 L448.75,271.88 L449.50,274.19 L450.25,275.86 L451.00,277.03 L451.75,277.82 L452.50,278.35 L453.25,278.68 L454.00,278.90 L454.75,279.03 L455.50,279.10 L456.25,279.15 L457.00,279.17 L457.75,279.19 L458.50,279.19 L459.25,279.20 L460.00,279.20 L460.75,279.20 L461.50,279.20 L462.25,279.20 L463.00,279.20 L463.75,279.20 L464.50,279.20 L465.25,279.20 L466.00,279.20 L466.75,279.20 L467.50,279.20 L468.25,279.20 L469.00,279.20 L469.75,279.20 L470.50,279.20 L471.25,279.20 L472.00,279.20 L472.75,279.20 L473.50,279.20 L474.25,279.20 L475.00,279.20 L475.75,279.20 L476.50,279.20 L477.25,279.20 L478.00,279.20 L478.75,279.20 L479.50,279.20 L480.25,279.20 L481.00,279.20 L481.75,279.20 L482.50,279.20 L483.25,279.20 L484.00,279.20 L484.75,279.20 L485.50,279.20 L486.25,279.20 L487.00,279.20 L487.75,279.20 L488.50,279.20 L489.25,279.20 L490.00,279.20 L490.75,279.20 L491.50,279.20 L492.25,279.20 L493.00,279.20 L493.75,279.20 L494.50,279.20 L495.25,279.20 L496.00,279.20 L496.75,279.20 L497.50,279.20 L498.25,279.20 L499.00,279.20 L499.75,279.20 L500.50,279.20 L501.25,279.20 L502.00,279.20 L502.75,279.20 L503.50,279.20 L504.25,279.20 L505.00,279.20 L505.75,279.20 L506.50,279.20 L507.25,279.20 L508.00,279.20 L508.75,279.20 L509.50,279.20 L510.25,279.20 L511.00,279.20 L511.75,279.20 L512.50,279.20 L513.25,279.20 L514.00,279.20 L514.75,279.20 L515.50,279.20 L516.25,279.20 L517.00,279.20 L517.75,279.20 L518.50,279.20 L519.25,279.20 L520.00,279.20 L520.75,279.20 L521.50,279.20 L522.25,279.20 L523.00,279.20 L523.75,279.20 L524.50,279.20 L525.25,279.20 L526.00,279.20 L526.75,279.20 L527.50,279.20 L528.25,279.20 L529.00,279.20 L529.75,279.20 L530.50,279.20 L531.25,279.20 L532.00,279.20 L532.75,279.20 L533.50,279.20 L534.25,279.20 L535.00,279.20 L535.75,279.20 L536.50,279.20 L537.25,279.20 L538.00,279.20 L538.75,279.20 L539.50,279.20 L540.25,279.20 L541.00,279.20 L541.75,279.20 L542.50,279.20 L543.25,279.20 L544.00,279.20 L544.75,279.20 L545.50,279.20 L546.25,279.20 L547.00,279.20 L547.75,279.20 L548.50,279.20 L549.25,279.20 L550.00,279.20 L550.75,279.20 L551.50,279.20 L552.25,279.20 L553.00,279.20 L553.75,279.20 L554.50,279.20 L555.25,279.20 L556.00,279.20 L556.75,279.20 L557.50,279.20 L558.25,279.20 L559.00,279.20 L559.75,279.20 L560.50,279.20 L561.25,279.20 L562.00,279.20 L562.75,279.20" fill="none" stroke="#a5a5a5" stroke-width="2.6" stroke-linejoin="round"/>
<path d="M377.50,279.20 L378.25,279.20 L379.00,279.20 L379.75,279.20 L380.50,279.20 L381.25,279.20 L382.00,279.20 L382.75,279.20 L383.50,279.20 L384.25,279.20 L385.00,279.20 L385.75,279.20 L386.50,279.20 L387.25,279.20 L388.00,279.20 L388.75,279.20 L389.50,279.20 L390.25,279.20 L391.00,279.20 L391.75,279.20 L392.50,279.20 L393.25,279.20 L394.00,279.20 L394.75,279.20 L395.50,279.20 L396.25,279.20 L397.00,279.20 L397.75,279.20 L398.50,279.20 L399.25,279.20 L400.00,279.20 L400.75,279.20 L401.50,279.20 L402.25,279.20 L403.00,279.20 L403.75,279.20 L404.50,279.20 L405.25,279.20 L406.00,279.20 L406.75,279.20 L407.50,279.20 L408.25,279.20 L409.00,279.20 L409.75,279.20 L410.50,279.20 L411.25,279.20 L412.00,279.20 L412.75,279.20 L413.50,279.20 L414.25,279.20 L415.00,279.20 L415.75,279.20 L416.50,279.20 L417.25,279.20 L418.00,279.20 L418.75,279.20 L419.50,279.20 L420.25,279.20 L421.00,279.20 L421.75,279.20 L422.50,279.20 L423.25,279.20 L424.00,279.20 L424.75,279.20 L425.50,279.20 L426.25,279.20 L427.00,279.20 L427.75,279.20 L428.50,279.20 L429.25,279.20 L430.00,279.20 L430.75,279.20 L431.50,279.20 L432.25,279.20 L433.00,279.20 L433.75,279.19 L434.50,279.18 L435.25,279.16 L436.00,279.11 L436.75,279.04 L437.50,278.90 L438.25,278.67 L439.00,278.29 L439.75,277.67 L440.50,276.69 L441.25,275.22 L442.00,273.07 L442.75,270.02 L443.50,265.84 L444.25,260.32 L445.00,253.29 L445.75,244.65 L446.50,234.46 L447.25,222.92 L448.00,210.42 L448.75,197.56 L449.50,185.07 L450.25,173.78 L451.00,164.51 L451.75,158.00 L452.50,154.79 L453.25,155.15 L454.00,159.05 L454.75,166.16 L455.50,175.90 L456.25,187.50 L457.00,200.13 L457.75,212.97 L458.50,225.32 L459.25,236.62 L460.00,246.51 L460.75,254.82 L461.50,261.54 L462.25,266.78 L463.00,270.71 L463.75,273.56 L464.50,275.57 L465.25,276.92 L466.00,277.81 L466.75,278.38 L467.50,278.73 L468.25,278.94 L469.00,279.06 L469.75,279.13 L470.50,279.16 L471.25,279.18 L472.00,279.19 L472.75,279.20 L473.50,279.20 L474.25,279.20 L475.00,279.20 L475.75,279.20 L476.50,279.20 L477.25,279.20 L478.00,279.20 L478.75,279.20 L479.50,279.20 L480.25,279.20 L481.00,279.20 L481.75,279.20 L482.50,279.20 L483.25,279.20 L484.00,279.20 L484.75,279.20 L485.50,279.20 L486.25,279.20 L487.00,279.20 L487.75,279.20 L488.50,279.20 L489.25,279.20 L490.00,279.20 L490.75,279.20 L491.50,279.20 L492.25,279.20 L493.00,279.20 L493.75,279.20 L494.50,279.20 L495.25,279.20 L496.00,279.20 L496.75,279.20 L497.50,279.20 L498.25,279.20 L499.00,279.20 L499.75,279.20 L500.50,279.20 L501.25,279.20 L502.00,279.20 L502.75,279.20 L503.50,279.20 L504.25,279.20 L505.00,279.20 L505.75,279.20 L506.50,279.20 L507.25,279.20 L508.00,279.20 L508.75,279.20 L509.50,279.20 L510.25,279.20 L511.00,279.20 L511.75,279.20 L512.50,279.20 L513.25,279.20 L514.00,279.20 L514.75,279.20 L515.50,279.20 L516.25,279.20 L517.00,279.20 L517.75,279.20 L518.50,279.20 L519.25,279.20 L520.00,279.20 L520.75,279.20 L521.50,279.20 L522.25,279.20 L523.00,279.20 L523.75,279.20 L524.50,279.20 L525.25,279.20 L526.00,279.20 L526.75,279.20 L527.50,279.20 L528.25,279.20 L529.00,279.20 L529.75,279.20 L530.50,279.20 L531.25,279.20 L532.00,279.20 L532.75,279.20 L533.50,279.20 L534.25,279.20 L535.00,279.20 L535.75,279.20 L536.50,279.20 L537.25,279.20 L538.00,279.20 L538.75,279.20 L539.50,279.20 L540.25,279.20 L541.00,279.20 L541.75,279.20 L542.50,279.20 L543.25,279.20 L544.00,279.20 L544.75,279.20 L545.50,279.20 L546.25,279.20 L547.00,279.20 L547.75,279.20 L548.50,279.20 L549.25,279.20 L550.00,279.20 L550.75,279.20 L551.50,279.20 L552.25,279.20 L553.00,279.20 L553.75,279.20 L554.50,279.20 L555.25,279.20 L556.00,279.20 L556.75,279.20 L557.50,279.20 L558.25,279.20 L559.00,279.20 L559.75,279.20 L560.50,279.20 L561.25,279.20 L562.00,279.20 L562.75,279.20" fill="none" stroke="#ed7d31" stroke-width="2.6" stroke-linejoin="round"/>
<path d="M377.50,279.20 L378.25,279.20 L379.00,279.20 L379.75,279.20 L380.50,279.20 L381.25,279.20 L382.00,279.20 L382.75,279.20 L383.50,279.20 L384.25,279.20 L385.00,279.20 L385.75,279.20 L386.50,279.20 L387.25,279.20 L388.00,279.20 L388.75,279.20 L389.50,279.20 L390.25,279.20 L391.00,279.20 L391.75,279.20 L392.50,279.20 L393.25,279.20 L394.00,279.20 L394.75,279.20 L395.50,279.20 L396.25,279.20 L397.00,279.20 L397.75,279.20 L398.50,279.20 L399.25,279.20 L400.00,279.20 L400.75,279.20 L401.50,279.20 L402.25,279.20 L403.00,279.20 L403.75,279.20 L404.50,279.20 L405.25,279.20 L406.00,279.20 L406.75,279.20 L407.50,279.20 L408.25,279.20 L409.00,279.20 L409.75,279.20 L410.50,279.20 L411.25,279.20 L412.00,279.20 L412.75,279.20 L413.50,279.20 L414.25,279.20 L415.00,279.20 L415.75,279.20 L416.50,279.20 L417.25,279.20 L418.00,279.20 L418.75,279.20 L419.50,279.20 L420.25,279.20 L421.00,279.20 L421.75,279.20 L422.50,279.20 L423.25,279.20 L424.00,279.20 L424.75,279.20 L425.50,279.20 L426.25,279.20 L427.00,279.20 L427.75,279.20 L428.50,279.20 L429.25,279.20 L430.00,279.20 L430.75,279.20 L431.50,279.20 L432.25,279.20 L433.00,279.20 L433.75,279.20 L434.50,279.20 L435.25,279.20 L436.00,279.20 L436.75,279.20 L437.50,279.20 L438.25,279.20 L439.00,279.20 L439.75,279.20 L440.50,279.20 L441.25,279.20 L442.00,279.20 L442.75,279.20 L443.50,279.20 L444.25,279.20 L445.00,279.20 L445.75,279.20 L446.50,279.20 L447.25,279.20 L448.00,279.20 L448.75,279.20 L449.50,279.20 L450.25,279.20 L451.00,279.19 L451.75,279.17 L452.50,279.12 L453.25,279.00 L454.00,278.75 L454.75,278.25 L455.50,277.30 L456.25,275.61 L457.00,272.82 L457.75,268.50 L458.50,262.27 L459.25,253.94 L460.00,243.66 L460.75,232.04 L461.50,220.18 L462.25,209.53 L463.00,201.64 L463.75,197.77 L464.50,198.56 L465.25,203.88 L466.00,212.85 L466.75,224.08 L467.50,236.01 L468.25,247.28 L469.00,256.95 L469.75,264.57 L470.50,270.13 L471.25,273.90 L472.00,276.28 L472.75,277.68 L473.50,278.45 L474.25,278.85 L475.00,279.05 L475.75,279.14 L476.50,279.18 L477.25,279.19 L478.00,279.20 L478.75,279.20 L479.50,279.20 L480.25,279.20 L481.00,279.20 L481.75,279.20 L482.50,279.20 L483.25,279.20 L484.00,279.20 L484.75,279.20 L485.50,279.20 L486.25,279.20 L487.00,279.20 L487.75,279.20 L488.50,279.20 L489.25,279.20 L490.00,279.20 L490.75,279.20 L491.50,279.20 L492.25,279.20 L493.00,279.20 L493.75,279.20 L494.50,279.20 L495.25,279.20 L496.00,279.20 L496.75,279.20 L497.50,279.20 L498.25,279.20 L499.00,279.20 L499.75,279.20 L500.50,279.20 L501.25,279.20 L502.00,279.20 L502.75,279.20 L503.50,279.20 L504.25,279.20 L505.00,279.20 L505.75,279.20 L506.50,279.20 L507.25,279.20 L508.00,279.20 L508.75,279.20 L509.50,279.20 L510.25,279.20 L511.00,279.20 L511.75,279.20 L512.50,279.20 L513.25,279.20 L514.00,279.20 L514.75,279.20 L515.50,279.20 L516.25,279.20 L517.00,279.20 L517.75,279.20 L518.50,279.20 L519.25,279.20 L520.00,279.20 L520.75,279.20 L521.50,279.20 L522.25,279.20 L523.00,279.20 L523.75,279.20 L524.50,279.20 L525.25,279.20 L526.00,279.20 L526.75,279.20 L527.50,279.20 L528.25,279.20 L529.00,279.20 L529.75,279.20 L530.50,279.20 L531.25,279.20 L532.00,279.20 L532.75,279.20 L533.50,279.20 L534.25,279.20 L535.00,279.20 L535.75,279.20 L536.50,279.20 L537.25,279.20 L538.00,279.20 L538.75,279.20 L539.50,279.20 L540.25,279.20 L541.00,279.20 L541.75,279.20 L542.50,279.20 L543.25,279.20 L544.00,279.20 L544.75,279.20 L545.50,279.20 L546.25,279.20 L547.00,279.20 L547.75,279.20 L548.50,279.20 L549.25,279.20 L550.00,279.20 L550.75,279.20 L551.50,279.20 L552.25,279.20 L553.00,279.20 L553.75,279.20 L554.50,279.20 L555.25,279.20 L556.00,279.20 L556.75,279.20 L557.50,279.20 L558.25,279.20 L559.00,279.20 L559.75,279.20 L560.50,279.20 L561.25,279.20 L562.00,279.20 L562.75,279.20" fill="none" stroke="#ed7d31" stroke-width="2.6" stroke-linejoin="round"/>
<path d="M377.50,279.20 L378.25,279.20 L379.00,279.20 L379.75,279.20 L380.50,279.20 L381.25,279.20 L382.00,279.20 L382.75,279.20 L383.50,279.20 L384.25,279.20 L385.00,279.20 L385.75,279.20 L386.50,279.20 L387.25,279.20 L388.00,279.20 L388.75,279.20 L389.50,279.20 L390.25,279.20 L391.00,279.20 L391.75,279.20 L392.50,279.20 L393.25,279.20 L394.00,279.20 L394.75,279.20 L395.50,279.20 L396.25,279.20 L397.00,279.20 L397.75,279.20 L398.50,279.20 L399.25,279.20 L400.00,279.20 L400.75,279.20 L401.50,279.20 L402.25,279.20 L403.00,279.20 L403.75,279.20 L404.50,279.20 L405.25,279.20 L406.00,279.20 L406.75,279.20 L407.50,279.20 L408.25,279.20 L409.00,279.20 L409.75,279.20 L410.50,279.20 L411.25,279.20 L412.00,279.20 L412.75,279.20 L413.50,279.20 L414.25,279.20 L415.00,279.20 L415.75,279.20 L416.50,279.20 L417.25,279.20 L418.00,279.20 L418.75,279.20 L419.50,279.20 L420.25,279.20 L421.00,279.20 L421.75,279.20 L422.50,279.20 L423.25,279.20 L424.00,279.20 L424.75,279.20 L425.50,279.20 L426.25,279.20 L427.00,279.20 L427.75,279.20 L428.50,279.20 L429.25,279.20 L430.00,279.20 L430.75,279.20 L431.50,279.20 L432.25,279.20 L433.00,279.20 L433.75,279.20 L434.50,279.20 L435.25,279.20 L436.00,279.20 L436.75,279.20 L437.50,279.20 L438.25,279.20 L439.00,279.20 L439.75,279.20 L440.50,279.20 L441.25,279.20 L442.00,279.20 L442.75,279.20 L443.50,279.20 L444.25,279.19 L445.00,279.19 L445.75,279.19 L446.50,279.18 L447.25,279.17 L448.00,279.15 L448.75,279.13 L449.50,279.09 L450.25,279.04 L451.00,278.98 L451.75,278.88 L452.50,278.76 L453.25,278.59 L454.00,278.36 L454.75,278.05 L455.50,277.66 L456.25,277.14 L457.00,276.49 L457.75,275.66 L458.50,274.63 L459.25,273.36 L460.00,271.81 L460.75,269.95 L461.50,267.73 L462.25,265.13 L463.00,262.12 L463.75,258.67 L464.50,254.78 L465.25,250.45 L466.00,245.69 L466.75,240.55 L467.50,235.07 L468.25,229.34 L469.00,223.43 L469.75,217.46 L470.50,211.55 L471.25,205.83 L472.00,200.44 L472.75,195.52 L473.50,191.20 L474.25,187.60 L475.00,184.83 L475.75,182.97 L476.50,182.08 L477.25,182.18 L478.00,183.27 L478.75,185.32 L479.50,188.26 L480.25,192.01 L481.00,196.46 L481.75,201.49 L482.50,206.95 L483.25,212.72 L484.00,218.65 L484.75,224.62 L485.50,230.50 L486.25,236.19 L487.00,241.61 L487.75,246.68 L488.50,251.35 L489.25,255.59 L490.00,259.40 L490.75,262.76 L491.50,265.69 L492.25,268.21 L493.00,270.35 L493.75,272.15 L494.50,273.64 L495.25,274.86 L496.00,275.84 L496.75,276.63 L497.50,277.26 L498.25,277.74 L499.00,278.12 L499.75,278.41 L500.50,278.62 L501.25,278.79 L502.00,278.91 L502.75,278.99 L503.50,279.06 L504.25,279.10 L505.00,279.13 L505.75,279.15 L506.50,279.17 L507.25,279.18 L508.00,279.19 L508.75,279.19 L509.50,279.19 L510.25,279.20 L511.00,279.20 L511.75,279.20 L512.50,279.20 L513.25,279.20 L514.00,279.20 L514.75,279.20 L515.50,279.20 L516.25,279.20 L517.00,279.20 L517.75,279.20 L518.50,279.20 L519.25,279.20 L520.00,279.20 L520.75,279.20 L521.50,279.20 L522.25,279.20 L523.00,279.20 L523.75,279.20 L524.50,279.20 L525.25,279.20 L526.00,279.20 L526.75,279.20 L527.50,279.20 L528.25,279.20 L529.00,279.20 L529.75,279.20 L530.50,279.20 L531.25,279.20 L532.00,279.20 L532.75,279.20 L533.50,279.20 L534.25,279.20 L535.00,279.20 L535.75,279.20 L536.50,279.20 L537.25,279.20 L538.00,279.20 L538.75,279.20 L539.50,279.20 L540.25,279.20 L541.00,279.20 L541.75,279.20 L542.50,279.20 L543.25,279.20 L544.00,279.20 L544.75,279.20 L545.50,279.20 L546.25,279.20 L547.00,279.20 L547.75,279.20 L548.50,279.20 L549.25,279.20 L550.00,279.20 L550.75,279.20 L551.50,279.20 L552.25,279.20 L553.00,279.20 L553.75,279.20 L554.50,279.20 L555.25,279.20 L556.00,279.20 L556.75,279.20 L557.50,279.20 L558.25,279.20 L559.00,279.20 L559.75,279.20 L560.50,279.20 L561.25,279.20 L562.00,279.20 L562.75,279.20" fill="none" stroke="#70ad47" stroke-width="2.6" stroke-linejoin="round"/>
<path d="M376.20,264.40 C380.67,264.40 398.53,264.40 403.00,264.40" fill="none" stroke="#e41e26" stroke-width="3" stroke-dasharray="18 18" stroke-dashoffset="28.7" stroke-linejoin="round" stroke-linecap="round"/>
<path d="M403.00,264.40 C403.50,264.08 405.00,263.73 406.00,262.50 C407.00,261.27 408.00,259.42 409.00,257.00 C410.00,254.58 411.00,252.17 412.00,248.00 C413.00,243.83 414.00,238.67 415.00,232.00 C416.00,225.33 417.12,213.50 418.00,208.00 C418.88,202.50 419.47,200.17 420.30,199.00 C421.13,197.83 421.97,200.17 423.00,201.00 C424.03,201.83 425.33,205.17 426.50,204.00 C427.67,202.83 428.83,199.33 430.00,194.00 C431.17,188.67 432.50,178.33 433.50,172.00 C434.50,165.67 435.20,159.33 436.00,156.00 C436.80,152.67 437.47,151.33 438.30,152.00 C439.13,152.67 440.05,157.50 441.00,160.00 C441.95,162.50 443.00,168.00 444.00,167.00 C445.00,166.00 446.00,159.00 447.00,154.00 C448.00,149.00 449.08,140.83 450.00,137.00 C450.92,133.17 451.67,131.67 452.50,131.00 C453.33,130.33 454.00,132.00 455.00,133.00 C456.00,134.00 457.33,136.00 458.50,137.00 C459.67,138.00 460.92,137.67 462.00,139.00 C463.08,140.33 463.83,142.00 465.00,145.00 C466.17,148.00 467.50,154.08 469.00,157.00 C470.50,159.92 472.43,160.65 474.00,162.50 C475.57,164.35 476.73,163.68 478.40,168.10 C480.07,172.52 482.38,180.85 484.00,189.00 C485.62,197.15 486.72,208.38 488.10,217.00 C489.48,225.62 491.02,233.97 492.30,240.70 C493.58,247.43 495.22,254.62 495.80,257.40" fill="none" stroke="#e41e26" stroke-width="3" stroke-dasharray="18 18" stroke-dashoffset="0" stroke-linejoin="round" stroke-linecap="round"/>
<path d="M506.00,264.40 C515.73,264.40 554.67,264.40 564.40,264.40" fill="none" stroke="#e41e26" stroke-width="3" stroke-dasharray="18 18" stroke-dashoffset="32.5" stroke-linejoin="round" stroke-linecap="round"/>
<path d="M376.20,432.70 C377.50,432.45 381.22,432.82 384.00,431.20 C386.78,429.58 389.92,426.12 392.90,423.00 C395.88,419.88 399.15,416.00 401.90,412.50 C404.65,409.00 407.40,405.48 409.40,402.00 C411.40,398.52 412.42,395.83 413.90,391.60 C415.38,387.37 416.82,381.33 418.30,376.60 C419.78,371.87 421.30,367.18 422.80,363.20 C424.30,359.22 425.80,356.43 427.30,352.70 C428.80,348.97 430.30,345.03 431.80,340.80 C433.30,336.57 435.05,330.30 436.30,327.30 C437.55,324.30 437.80,324.17 439.30,322.80 C440.80,321.43 443.82,320.47 445.30,319.10 C446.78,317.73 446.72,316.47 448.20,314.60 C449.68,312.73 451.95,309.88 454.20,307.90 C456.45,305.92 459.45,303.82 461.70,302.70 C463.95,301.58 465.70,301.20 467.70,301.20 C469.70,301.20 471.48,301.08 473.70,302.70 C475.92,304.32 478.80,307.55 481.00,310.90 C483.20,314.25 484.92,319.32 486.90,322.80 C488.88,326.28 490.90,328.80 492.90,331.80 C494.90,334.80 496.90,337.32 498.90,340.80 C500.90,344.28 502.92,348.72 504.90,352.70 C506.88,356.68 508.82,361.22 510.80,364.70 C512.78,368.18 514.80,369.62 516.80,373.60 C518.80,377.58 520.80,383.87 522.80,388.60 C524.80,393.33 526.80,398.27 528.80,402.00 C530.80,405.73 532.82,408.25 534.80,411.00 C536.78,413.75 538.72,416.38 540.70,418.50 C542.68,420.62 544.70,422.37 546.70,423.70 C548.70,425.03 550.70,425.62 552.70,426.50 C554.70,427.38 556.75,428.08 558.70,429.00 C560.65,429.92 563.45,431.50 564.40,432.00" fill="none" stroke="#000" stroke-width="3.2" stroke-linejoin="round" stroke-linecap="round"/>
<path d="M377.50,432.95 L378.25,432.83 L379.00,432.71 L379.75,432.57 L380.50,432.41 L381.25,432.24 L382.00,432.05 L382.75,431.85 L383.50,431.62 L384.25,431.38 L385.00,431.12 L385.75,430.83 L386.50,430.52 L387.25,430.18 L388.00,429.81 L388.75,429.42 L389.50,429.00 L390.25,428.54 L391.00,428.06 L391.75,427.54 L392.50,426.98 L393.25,426.39 L394.00,425.76 L394.75,425.09 L395.50,424.39 L396.25,423.64 L397.00,422.86 L397.75,422.03 L398.50,421.16 L399.25,420.26 L400.00,419.31 L400.75,418.32 L401.50,417.29 L402.25,416.22 L403.00,415.12 L403.75,413.98 L404.50,412.80 L405.25,411.59 L406.00,410.35 L406.75,409.08 L407.50,407.79 L408.25,406.47 L409.00,405.14 L409.75,403.79 L410.50,402.43 L411.25,401.06 L412.00,399.69 L412.75,398.32 L413.50,396.95 L414.25,395.60 L415.00,394.26 L415.75,392.94 L416.50,391.65 L417.25,390.39 L418.00,389.17 L418.75,387.98 L419.50,386.84 L420.25,385.76 L421.00,384.72 L421.75,383.75 L422.50,382.85 L423.25,382.01 L424.00,381.24 L424.75,380.56 L425.50,379.95 L426.25,379.42 L427.00,378.98 L427.75,378.63 L428.50,378.36 L429.25,378.19 L430.00,378.11 L430.75,378.12 L431.50,378.22 L432.25,378.41 L433.00,378.69 L433.75,379.06 L434.50,379.52 L435.25,380.06 L436.00,380.69 L436.75,381.39 L437.50,382.17 L438.25,383.02 L439.00,383.94 L439.75,384.92 L440.50,385.97 L441.25,387.07 L442.00,388.21 L442.75,389.41 L443.50,390.64 L444.25,391.91 L445.00,393.21 L445.75,394.53 L446.50,395.87 L447.25,397.23 L448.00,398.59 L448.75,399.96 L449.50,401.34 L450.25,402.70 L451.00,404.06 L451.75,405.41 L452.50,406.74 L453.25,408.05 L454.00,409.34 L454.75,410.60 L455.50,411.83 L456.25,413.04 L457.00,414.21 L457.75,415.34 L458.50,416.44 L459.25,417.50 L460.00,418.52 L460.75,419.50 L461.50,420.44 L462.25,421.34 L463.00,422.20 L463.75,423.02 L464.50,423.80 L465.25,424.53 L466.00,425.23 L466.75,425.89 L467.50,426.51 L468.25,427.09 L469.00,427.64 L469.75,428.16 L470.50,428.64 L471.25,429.08 L472.00,429.50 L472.75,429.89 L473.50,430.25 L474.25,430.58 L475.00,430.89 L475.75,431.17 L476.50,431.43 L477.25,431.67 L478.00,431.89 L478.75,432.09 L479.50,432.28 L480.25,432.44 L481.00,432.59 L481.75,432.73 L482.50,432.86 L483.25,432.97 L484.00,433.07 L484.75,433.17 L485.50,433.25 L486.25,433.32 L487.00,433.39 L487.75,433.45 L488.50,433.50 L489.25,433.55 L490.00,433.59 L490.75,433.63 L491.50,433.67 L492.25,433.70 L493.00,433.72 L493.75,433.74 L494.50,433.76 L495.25,433.78 L496.00,433.80 L496.75,433.81 L497.50,433.82 L498.25,433.83 L499.00,433.84 L499.75,433.85 L500.50,433.86 L501.25,433.86 L502.00,433.87 L502.75,433.87 L503.50,433.88 L504.25,433.88 L505.00,433.88 L505.75,433.89 L506.50,433.89 L507.25,433.89 L508.00,433.89 L508.75,433.89 L509.50,433.89 L510.25,433.90 L511.00,433.90 L511.75,433.90 L512.50,433.90 L513.25,433.90 L514.00,433.90 L514.75,433.90 L515.50,433.90 L516.25,433.90 L517.00,433.90 L517.75,433.90 L518.50,433.90 L519.25,433.90 L520.00,433.90 L520.75,433.90 L521.50,433.90 L522.25,433.90 L523.00,433.90 L523.75,433.90 L524.50,433.90 L525.25,433.90 L526.00,433.90 L526.75,433.90 L527.50,433.90 L528.25,433.90 L529.00,433.90 L529.75,433.90 L530.50,433.90 L531.25,433.90 L532.00,433.90 L532.75,433.90 L533.50,433.90 L534.25,433.90 L535.00,433.90 L535.75,433.90 L536.50,433.90 L537.25,433.90 L538.00,433.90 L538.75,433.90 L539.50,433.90 L540.25,433.90 L541.00,433.90 L541.75,433.90 L542.50,433.90 L543.25,433.90 L544.00,433.90 L544.75,433.90 L545.50,433.90 L546.25,433.90 L547.00,433.90 L547.75,433.90 L548.50,433.90 L549.25,433.90 L550.00,433.90 L550.75,433.90 L551.50,433.90 L552.25,433.90 L553.00,433.90 L553.75,433.90 L554.50,433.90 L555.25,433.90 L556.00,433.90 L556.75,433.90 L557.50,433.90 L558.25,433.90 L559.00,433.90 L559.75,433.90 L560.50,433.90 L561.25,433.90 L562.00,433.90 L562.75,433.90" fill="none" stroke="#a5a5a5" stroke-width="2.6" stroke-linejoin="round"/>
<path d="M377.50,433.90 L378.25,433.90 L379.00,433.90 L379.75,433.90 L380.50,433.90 L381.25,433.90 L382.00,433.90 L382.75,433.90 L383.50,433.90 L384.25,433.90 L385.00,433.90 L385.75,433.90 L386.50,433.90 L387.25,433.89 L388.00,433.89 L388.75,433.89 L389.50,433.89 L390.25,433.89 L391.00,433.88 L391.75,433.88 L392.50,433.87 L393.25,433.86 L394.00,433.85 L394.75,433.84 L395.50,433.83 L396.25,433.81 L397.00,433.79 L397.75,433.77 L398.50,433.74 L399.25,433.70 L400.00,433.66 L400.75,433.61 L401.50,433.55 L402.25,433.49 L403.00,433.40 L403.75,433.31 L404.50,433.20 L405.25,433.07 L406.00,432.93 L406.75,432.76 L407.50,432.57 L408.25,432.35 L409.00,432.10 L409.75,431.82 L410.50,431.51 L411.25,431.16 L412.00,430.77 L412.75,430.33 L413.50,429.86 L414.25,429.33 L415.00,428.76 L415.75,428.13 L416.50,427.46 L417.25,426.73 L418.00,425.95 L418.75,425.11 L419.50,424.23 L420.25,423.29 L421.00,422.31 L421.75,421.28 L422.50,420.21 L423.25,419.11 L424.00,417.98 L424.75,416.82 L425.50,415.65 L426.25,414.47 L427.00,413.30 L427.75,412.13 L428.50,410.98 L429.25,409.86 L430.00,408.78 L430.75,407.74 L431.50,406.77 L432.25,405.86 L433.00,405.03 L433.75,404.29 L434.50,403.64 L435.25,403.09 L436.00,402.65 L436.75,402.32 L437.50,402.11 L438.25,402.01 L439.00,402.03 L439.75,402.16 L440.50,402.42 L441.25,402.79 L442.00,403.27 L442.75,403.85 L443.50,404.53 L444.25,405.30 L445.00,406.16 L445.75,407.09 L446.50,408.08 L447.25,409.13 L448.00,410.23 L448.75,411.36 L449.50,412.51 L450.25,413.69 L451.00,414.87 L451.75,416.04 L452.50,417.21 L453.25,418.36 L454.00,419.48 L454.75,420.57 L455.50,421.63 L456.25,422.64 L457.00,423.61 L457.75,424.53 L458.50,425.40 L459.25,426.21 L460.00,426.98 L460.75,427.69 L461.50,428.35 L462.25,428.95 L463.00,429.51 L463.75,430.02 L464.50,430.48 L465.25,430.90 L466.00,431.28 L466.75,431.62 L467.50,431.92 L468.25,432.19 L469.00,432.43 L469.75,432.63 L470.50,432.82 L471.25,432.98 L472.00,433.12 L472.75,433.24 L473.50,433.34 L474.25,433.43 L475.00,433.51 L475.75,433.57 L476.50,433.63 L477.25,433.68 L478.00,433.72 L478.75,433.75 L479.50,433.78 L480.25,433.80 L481.00,433.82 L481.75,433.83 L482.50,433.85 L483.25,433.86 L484.00,433.87 L484.75,433.87 L485.50,433.88 L486.25,433.88 L487.00,433.89 L487.75,433.89 L488.50,433.89 L489.25,433.89 L490.00,433.90 L490.75,433.90 L491.50,433.90 L492.25,433.90 L493.00,433.90 L493.75,433.90 L494.50,433.90 L495.25,433.90 L496.00,433.90 L496.75,433.90 L497.50,433.90 L498.25,433.90 L499.00,433.90 L499.75,433.90 L500.50,433.90 L501.25,433.90 L502.00,433.90 L502.75,433.90 L503.50,433.90 L504.25,433.90 L505.00,433.90 L505.75,433.90 L506.50,433.90 L507.25,433.90 L508.00,433.90 L508.75,433.90 L509.50,433.90 L510.25,433.90 L511.00,433.90 L511.75,433.90 L512.50,433.90 L513.25,433.90 L514.00,433.90 L514.75,433.90 L515.50,433.90 L516.25,433.90 L517.00,433.90 L517.75,433.90 L518.50,433.90 L519.25,433.90 L520.00,433.90 L520.75,433.90 L521.50,433.90 L522.25,433.90 L523.00,433.90 L523.75,433.90 L524.50,433.90 L525.25,433.90 L526.00,433.90 L526.75,433.90 L527.50,433.90 L528.25,433.90 L529.00,433.90 L529.75,433.90 L530.50,433.90 L531.25,433.90 L532.00,433.90 L532.75,433.90 L533.50,433.90 L534.25,433.90 L535.00,433.90 L535.75,433.90 L536.50,433.90 L537.25,433.90 L538.00,433.90 L538.75,433.90 L539.50,433.90 L540.25,433.90 L541.00,433.90 L541.75,433.90 L542.50,433.90 L543.25,433.90 L544.00,433.90 L544.75,433.90 L545.50,433.90 L546.25,433.90 L547.00,433.90 L547.75,433.90 L548.50,433.90 L549.25,433.90 L550.00,433.90 L550.75,433.90 L551.50,433.90 L552.25,433.90 L553.00,433.90 L553.75,433.90 L554.50,433.90 L555.25,433.90 L556.00,433.90 L556.75,433.90 L557.50,433.90 L558.25,433.90 L559.00,433.90 L559.75,433.90 L560.50,433.90 L561.25,433.90 L562.00,433.90 L562.75,433.90" fill="none" stroke="#a5a5a5" stroke-width="2.6" stroke-linejoin="round"/>
<path d="M377.50,433.90 L378.25,433.90 L379.00,433.90 L379.75,433.90 L380.50,433.90 L381.25,433.90 L382.00,433.90 L382.75,433.90 L383.50,433.90 L384.25,433.90 L385.00,433.90 L385.75,433.90 L386.50,433.90 L387.25,433.90 L388.00,433.90 L388.75,433.90 L389.50,433.90 L390.25,433.90 L391.00,433.90 L391.75,433.90 L392.50,433.90 L393.25,433.90 L394.00,433.90 L394.75,433.90 L395.50,433.90 L396.25,433.90 L397.00,433.90 L397.75,433.90 L398.50,433.90 L399.25,433.90 L400.00,433.90 L400.75,433.90 L401.50,433.90 L402.25,433.90 L403.00,433.90 L403.75,433.90 L404.50,433.90 L405.25,433.90 L406.00,433.90 L406.75,433.90 L407.50,433.90 L408.25,433.90 L409.00,433.90 L409.75,433.90 L410.50,433.90 L411.25,433.90 L412.00,433.89 L412.75,433.89 L413.50,433.89 L414.25,433.89 L415.00,433.88 L415.75,433.88 L416.50,433.87 L417.25,433.86 L418.00,433.85 L418.75,433.83 L419.50,433.82 L420.25,433.79 L421.00,433.76 L421.75,433.73 L422.50,433.68 L423.25,433.62 L424.00,433.55 L424.75,433.47 L425.50,433.37 L426.25,433.24 L427.00,433.09 L427.75,432.91 L428.50,432.69 L429.25,432.44 L430.00,432.14 L430.75,431.78 L431.50,431.37 L432.25,430.89 L433.00,430.33 L433.75,429.69 L434.50,428.96 L435.25,428.12 L436.00,427.18 L436.75,426.11 L437.50,424.91 L438.25,423.58 L439.00,422.10 L439.75,420.48 L440.50,418.69 L441.25,416.75 L442.00,414.64 L442.75,412.37 L443.50,409.94 L444.25,407.36 L445.00,404.63 L445.75,401.77 L446.50,398.78 L447.25,395.68 L448.00,392.50 L448.75,389.25 L449.50,385.97 L450.25,382.67 L451.00,379.39 L451.75,376.16 L452.50,373.02 L453.25,369.99 L454.00,367.11 L454.75,364.41 L455.50,361.92 L456.25,359.68 L457.00,357.72 L457.75,356.05 L458.50,354.70 L459.25,353.69 L460.00,353.02 L460.75,352.72 L461.50,352.78 L462.25,353.20 L463.00,353.98 L463.75,355.11 L464.50,356.57 L465.25,358.34 L466.00,360.40 L466.75,362.73 L467.50,365.29 L468.25,368.05 L469.00,370.98 L469.75,374.06 L470.50,377.23 L471.25,380.48 L472.00,383.77 L472.75,387.07 L473.50,390.34 L474.25,393.57 L475.00,396.72 L475.75,399.79 L476.50,402.74 L477.25,405.56 L478.00,408.24 L478.75,410.77 L479.50,413.15 L480.25,415.36 L481.00,417.41 L481.75,419.30 L482.50,421.04 L483.25,422.61 L484.00,424.04 L484.75,425.33 L485.50,426.48 L486.25,427.50 L487.00,428.41 L487.75,429.21 L488.50,429.92 L489.25,430.53 L490.00,431.06 L490.75,431.52 L491.50,431.91 L492.25,432.24 L493.00,432.53 L493.75,432.77 L494.50,432.97 L495.25,433.14 L496.00,433.28 L496.75,433.40 L497.50,433.50 L498.25,433.58 L499.00,433.64 L499.75,433.70 L500.50,433.74 L501.25,433.77 L502.00,433.80 L502.75,433.82 L503.50,433.84 L504.25,433.85 L505.00,433.86 L505.75,433.87 L506.50,433.88 L507.25,433.88 L508.00,433.89 L508.75,433.89 L509.50,433.89 L510.25,433.89 L511.00,433.90 L511.75,433.90 L512.50,433.90 L513.25,433.90 L514.00,433.90 L514.75,433.90 L515.50,433.90 L516.25,433.90 L517.00,433.90 L517.75,433.90 L518.50,433.90 L519.25,433.90 L520.00,433.90 L520.75,433.90 L521.50,433.90 L522.25,433.90 L523.00,433.90 L523.75,433.90 L524.50,433.90 L525.25,433.90 L526.00,433.90 L526.75,433.90 L527.50,433.90 L528.25,433.90 L529.00,433.90 L529.75,433.90 L530.50,433.90 L531.25,433.90 L532.00,433.90 L532.75,433.90 L533.50,433.90 L534.25,433.90 L535.00,433.90 L535.75,433.90 L536.50,433.90 L537.25,433.90 L538.00,433.90 L538.75,433.90 L539.50,433.90 L540.25,433.90 L541.00,433.90 L541.75,433.90 L542.50,433.90 L543.25,433.90 L544.00,433.90 L544.75,433.90 L545.50,433.90 L546.25,433.90 L547.00,433.90 L547.75,433.90 L548.50,433.90 L549.25,433.90 L550.00,433.90 L550.75,433.90 L551.50,433.90 L552.25,433.90 L553.00,433.90 L553.75,433.90 L554.50,433.90 L555.25,433.90 L556.00,433.90 L556.75,433.90 L557.50,433.90 L558.25,433.90 L559.00,433.90 L559.75,433.90 L560.50,433.90 L561.25,433.90 L562.00,433.90 L562.75,433.90" fill="none" stroke="#ed7d31" stroke-width="2.6" stroke-linejoin="round"/>
<path d="M377.50,433.90 L378.25,433.90 L379.00,433.90 L379.75,433.90 L380.50,433.90 L381.25,433.90 L382.00,433.90 L382.75,433.90 L383.50,433.90 L384.25,433.90 L385.00,433.90 L385.75,433.90 L386.50,433.90 L387.25,433.90 L388.00,433.90 L388.75,433.90 L389.50,433.90 L390.25,433.90 L391.00,433.90 L391.75,433.90 L392.50,433.90 L393.25,433.90 L394.00,433.90 L394.75,433.90 L395.50,433.90 L396.25,433.90 L397.00,433.90 L397.75,433.90 L398.50,433.90 L399.25,433.90 L400.00,433.90 L400.75,433.90 L401.50,433.90 L402.25,433.90 L403.00,433.90 L403.75,433.90 L404.50,433.90 L405.25,433.90 L406.00,433.90 L406.75,433.90 L407.50,433.90 L408.25,433.90 L409.00,433.90 L409.75,433.90 L410.50,433.90 L411.25,433.90 L412.00,433.90 L412.75,433.90 L413.50,433.90 L414.25,433.90 L415.00,433.90 L415.75,433.90 L416.50,433.90 L417.25,433.90 L418.00,433.90 L418.75,433.90 L419.50,433.90 L420.25,433.90 L421.00,433.90 L421.75,433.90 L422.50,433.90 L423.25,433.90 L424.00,433.90 L424.75,433.90 L425.50,433.90 L426.25,433.90 L427.00,433.90 L427.75,433.90 L428.50,433.90 L429.25,433.90 L430.00,433.90 L430.75,433.90 L431.50,433.90 L432.25,433.90 L433.00,433.90 L433.75,433.90 L434.50,433.90 L435.25,433.90 L436.00,433.90 L436.75,433.90 L437.50,433.90 L438.25,433.90 L439.00,433.90 L439.75,433.90 L440.50,433.90 L441.25,433.89 L442.00,433.89 L442.75,433.89 L443.50,433.88 L444.25,433.88 L445.00,433.87 L445.75,433.86 L446.50,433.85 L447.25,433.83 L448.00,433.81 L448.75,433.78 L449.50,433.74 L450.25,433.70 L451.00,433.64 L451.75,433.57 L452.50,433.48 L453.25,433.38 L454.00,433.25 L454.75,433.09 L455.50,432.90 L456.25,432.67 L457.00,432.40 L457.75,432.08 L458.50,431.71 L459.25,431.28 L460.00,430.78 L460.75,430.21 L461.50,429.57 L462.25,428.84 L463.00,428.02 L463.75,427.11 L464.50,426.11 L465.25,425.02 L466.00,423.84 L466.75,422.57 L467.50,421.21 L468.25,419.78 L469.00,418.29 L469.75,416.74 L470.50,415.15 L471.25,413.54 L472.00,411.93 L472.75,410.33 L473.50,408.77 L474.25,407.27 L475.00,405.85 L475.75,404.54 L476.50,403.35 L477.25,402.30 L478.00,401.43 L478.75,400.72 L479.50,400.21 L480.25,399.90 L481.00,399.80 L481.75,399.90 L482.50,400.21 L483.25,400.72 L484.00,401.43 L484.75,402.30 L485.50,403.35 L486.25,404.54 L487.00,405.85 L487.75,407.27 L488.50,408.77 L489.25,410.33 L490.00,411.93 L490.75,413.54 L491.50,415.15 L492.25,416.74 L493.00,418.29 L493.75,419.78 L494.50,421.21 L495.25,422.57 L496.00,423.84 L496.75,425.02 L497.50,426.11 L498.25,427.11 L499.00,428.02 L499.75,428.84 L500.50,429.57 L501.25,430.21 L502.00,430.78 L502.75,431.28 L503.50,431.71 L504.25,432.08 L505.00,432.40 L505.75,432.67 L506.50,432.90 L507.25,433.09 L508.00,433.25 L508.75,433.38 L509.50,433.48 L510.25,433.57 L511.00,433.64 L511.75,433.70 L512.50,433.74 L513.25,433.78 L514.00,433.81 L514.75,433.83 L515.50,433.85 L516.25,433.86 L517.00,433.87 L517.75,433.88 L518.50,433.88 L519.25,433.89 L520.00,433.89 L520.75,433.89 L521.50,433.90 L522.25,433.90 L523.00,433.90 L523.75,433.90 L524.50,433.90 L525.25,433.90 L526.00,433.90 L526.75,433.90 L527.50,433.90 L528.25,433.90 L529.00,433.90 L529.75,433.90 L530.50,433.90 L531.25,433.90 L532.00,433.90 L532.75,433.90 L533.50,433.90 L534.25,433.90 L535.00,433.90 L535.75,433.90 L536.50,433.90 L537.25,433.90 L538.00,433.90 L538.75,433.90 L539.50,433.90 L540.25,433.90 L541.00,433.90 L541.75,433.90 L542.50,433.90 L543.25,433.90 L544.00,433.90 L544.75,433.90 L545.50,433.90 L546.25,433.90 L547.00,433.90 L547.75,433.90 L548.50,433.90 L549.25,433.90 L550.00,433.90 L550.75,433.90 L551.50,433.90 L552.25,433.90 L553.00,433.90 L553.75,433.90 L554.50,433.90 L555.25,433.90 L556.00,433.90 L556.75,433.90 L557.50,433.90 L558.25,433.90 L559.00,433.90 L559.75,433.90 L560.50,433.90 L561.25,433.90 L562.00,433.90 L562.75,433.90" fill="none" stroke="#ed7d31" stroke-width="2.6" stroke-linejoin="round"/>
<path d="M377.50,433.90 L378.25,433.90 L379.00,433.90 L379.75,433.90 L380.50,433.90 L381.25,433.90 L382.00,433.90 L382.75,433.90 L383.50,433.90 L384.25,433.90 L385.00,433.90 L385.75,433.90 L386.50,433.90 L387.25,433.90 L388.00,433.90 L388.75,433.90 L389.50,433.90 L390.25,433.90 L391.00,433.90 L391.75,433.90 L392.50,433.90 L393.25,433.90 L394.00,433.90 L394.75,433.89 L395.50,433.89 L396.25,433.89 L397.00,433.89 L397.75,433.89 L398.50,433.89 L399.25,433.89 L400.00,433.89 L400.75,433.88 L401.50,433.88 L402.25,433.88 L403.00,433.88 L403.75,433.87 L404.50,433.87 L405.25,433.87 L406.00,433.86 L406.75,433.86 L407.50,433.85 L408.25,433.84 L409.00,433.84 L409.75,433.83 L410.50,433.82 L411.25,433.81 L412.00,433.80 L412.75,433.78 L413.50,433.77 L414.25,433.75 L415.00,433.74 L415.75,433.72 L416.50,433.70 L417.25,433.67 L418.00,433.65 L418.75,433.62 L419.50,433.59 L420.25,433.55 L421.00,433.52 L421.75,433.47 L422.50,433.43 L423.25,433.38 L424.00,433.32 L424.75,433.26 L425.50,433.20 L426.25,433.12 L427.00,433.05 L427.75,432.96 L428.50,432.87 L429.25,432.77 L430.00,432.66 L430.75,432.54 L431.50,432.41 L432.25,432.27 L433.00,432.12 L433.75,431.96 L434.50,431.79 L435.25,431.60 L436.00,431.40 L436.75,431.18 L437.50,430.95 L438.25,430.70 L439.00,430.44 L439.75,430.16 L440.50,429.85 L441.25,429.53 L442.00,429.19 L442.75,428.82 L443.50,428.43 L444.25,428.02 L445.00,427.58 L445.75,427.12 L446.50,426.63 L447.25,426.11 L448.00,425.57 L448.75,425.00 L449.50,424.39 L450.25,423.76 L451.00,423.09 L451.75,422.40 L452.50,421.67 L453.25,420.90 L454.00,420.11 L454.75,419.28 L455.50,418.41 L456.25,417.52 L457.00,416.58 L457.75,415.62 L458.50,414.61 L459.25,413.58 L460.00,412.51 L460.75,411.41 L461.50,410.27 L462.25,409.10 L463.00,407.90 L463.75,406.67 L464.50,405.41 L465.25,404.13 L466.00,402.81 L466.75,401.48 L467.50,400.12 L468.25,398.73 L469.00,397.33 L469.75,395.91 L470.50,394.48 L471.25,393.03 L472.00,391.58 L472.75,390.12 L473.50,388.65 L474.25,387.18 L475.00,385.71 L475.75,384.25 L476.50,382.79 L477.25,381.35 L478.00,379.92 L478.75,378.50 L479.50,377.11 L480.25,375.74 L481.00,374.40 L481.75,373.10 L482.50,371.82 L483.25,370.58 L484.00,369.39 L484.75,368.24 L485.50,367.13 L486.25,366.08 L487.00,365.08 L487.75,364.14 L488.50,363.25 L489.25,362.43 L490.00,361.67 L490.75,360.98 L491.50,360.35 L492.25,359.80 L493.00,359.32 L493.75,358.91 L494.50,358.58 L495.25,358.32 L496.00,358.13 L496.75,358.03 L497.50,358.00 L498.25,358.05 L499.00,358.18 L499.75,358.38 L500.50,358.66 L501.25,359.01 L502.00,359.44 L502.75,359.94 L503.50,360.51 L504.25,361.16 L505.00,361.87 L505.75,362.64 L506.50,363.48 L507.25,364.38 L508.00,365.34 L508.75,366.36 L509.50,367.42 L510.25,368.54 L511.00,369.70 L511.75,370.91 L512.50,372.16 L513.25,373.44 L514.00,374.76 L514.75,376.11 L515.50,377.48 L516.25,378.88 L517.00,380.30 L517.75,381.73 L518.50,383.18 L519.25,384.64 L520.00,386.10 L520.75,387.57 L521.50,389.04 L522.25,390.51 L523.00,391.97 L523.75,393.42 L524.50,394.86 L525.25,396.29 L526.00,397.71 L526.75,399.10 L527.50,400.48 L528.25,401.84 L529.00,403.17 L529.75,404.47 L530.50,405.75 L531.25,407.00 L532.00,408.22 L532.75,409.42 L533.50,410.58 L534.25,411.70 L535.00,412.80 L535.75,413.86 L536.50,414.88 L537.25,415.88 L538.00,416.84 L538.75,417.76 L539.50,418.65 L540.25,419.50 L541.00,420.32 L541.75,421.11 L542.50,421.86 L543.25,422.59 L544.00,423.27 L544.75,423.93 L545.50,424.56 L546.25,425.15 L547.00,425.72 L547.75,426.25 L548.50,426.76 L549.25,427.25 L550.00,427.70 L550.75,428.13 L551.50,428.54 L552.25,428.92 L553.00,429.28 L553.75,429.62 L554.50,429.94 L555.25,430.23 L556.00,430.51 L556.75,430.77 L557.50,431.02 L558.25,431.24 L559.00,431.46 L559.75,431.65 L560.50,431.84 L561.25,432.01 L562.00,432.16 L562.75,432.31" fill="none" stroke="#70ad47" stroke-width="2.6" stroke-linejoin="round"/>
<path d="M376.20,432.70 C377.50,432.45 381.22,432.82 384.00,431.20 C386.78,429.58 389.92,426.12 392.90,423.00 C395.88,419.88 399.15,416.00 401.90,412.50 C404.65,409.00 407.40,405.48 409.40,402.00 C411.40,398.52 412.42,395.83 413.90,391.60 C415.38,387.37 416.82,381.33 418.30,376.60 C419.78,371.87 421.30,367.18 422.80,363.20 C424.30,359.22 425.80,356.43 427.30,352.70 C428.80,348.97 430.30,345.03 431.80,340.80 C433.30,336.57 435.05,330.30 436.30,327.30 C437.55,324.30 437.80,324.17 439.30,322.80 C440.80,321.43 443.82,320.47 445.30,319.10 C446.78,317.73 446.72,316.47 448.20,314.60 C449.68,312.73 451.95,309.88 454.20,307.90 C456.45,305.92 459.45,303.82 461.70,302.70 C463.95,301.58 465.70,301.20 467.70,301.20 C469.70,301.20 471.48,301.08 473.70,302.70 C475.92,304.32 478.80,307.55 481.00,310.90 C483.20,314.25 484.92,319.32 486.90,322.80 C488.88,326.28 490.90,328.80 492.90,331.80 C494.90,334.80 496.90,337.32 498.90,340.80 C500.90,344.28 502.92,348.72 504.90,352.70 C506.88,356.68 508.82,361.22 510.80,364.70 C512.78,368.18 514.80,369.62 516.80,373.60 C518.80,377.58 520.80,383.87 522.80,388.60 C524.80,393.33 526.80,398.27 528.80,402.00 C530.80,405.73 532.82,408.25 534.80,411.00 C536.78,413.75 538.72,416.38 540.70,418.50 C542.68,420.62 544.70,422.37 546.70,423.70 C548.70,425.03 550.70,425.62 552.70,426.50 C554.70,427.38 556.75,428.08 558.70,429.00 C560.65,429.92 563.45,431.50 564.40,432.00" fill="none" stroke="#e41e26" stroke-width="3" stroke-dasharray="18 18" stroke-dashoffset="0" stroke-linejoin="round" stroke-linecap="round"/>
<path d="M376.20,586.50 C377.17,586.00 380.15,584.50 382.00,583.50 C383.85,582.50 385.30,582.08 387.30,580.50 C389.30,578.92 391.77,576.17 394.00,574.00 C396.23,571.83 398.87,569.42 400.70,567.50 C402.53,565.58 403.67,564.08 405.00,562.50 C406.33,560.92 407.47,560.17 408.70,558.00 C409.93,555.83 411.18,552.75 412.40,549.50 C413.62,546.25 414.98,541.75 416.00,538.50 C417.02,535.25 417.62,532.80 418.50,530.00 C419.38,527.20 420.08,525.08 421.30,521.70 C422.52,518.32 424.30,513.68 425.80,509.70 C427.30,505.72 428.80,501.78 430.30,497.80 C431.80,493.82 433.30,489.18 434.80,485.80 C436.30,482.42 438.02,479.13 439.30,477.50 C440.58,475.87 441.50,476.75 442.50,476.00 C443.50,475.25 444.10,474.60 445.30,473.00 C446.50,471.40 447.97,469.00 449.70,466.40 C451.43,463.80 453.45,459.60 455.70,457.40 C457.95,455.20 460.98,454.18 463.20,453.20 C465.42,452.22 467.03,451.05 469.00,451.50 C470.97,451.95 473.00,454.17 475.00,455.90 C477.00,457.63 479.02,459.40 481.00,461.90 C482.98,464.40 484.92,467.17 486.90,470.90 C488.88,474.63 490.90,480.07 492.90,484.30 C494.90,488.53 496.90,492.57 498.90,496.30 C500.90,500.03 502.92,502.97 504.90,506.70 C506.88,510.43 508.82,515.22 510.80,518.70 C512.78,522.18 514.80,524.12 516.80,527.60 C518.80,531.08 520.80,535.37 522.80,539.60 C524.80,543.83 526.80,548.77 528.80,553.00 C530.80,557.23 532.82,561.75 534.80,565.00 C536.78,568.25 538.72,570.50 540.70,572.50 C542.68,574.50 544.70,575.72 546.70,577.00 C548.70,578.28 551.20,579.47 552.70,580.20 C554.20,580.93 554.20,580.45 555.70,581.40 C557.20,582.35 560.25,584.97 561.70,585.90 C563.15,586.83 563.95,586.82 564.40,587.00" fill="none" stroke="#000" stroke-width="3.2" stroke-linejoin="round" stroke-linecap="round"/>
<path d="M377.50,583.26 L378.25,583.23 L379.00,583.20 L379.75,583.16 L380.50,583.11 L381.25,583.06 L382.00,583.01 L382.75,582.94 L383.50,582.86 L384.25,582.77 L385.00,582.67 L385.75,582.56 L386.50,582.43 L387.25,582.28 L388.00,582.11 L388.75,581.93 L389.50,581.72 L390.25,581.49 L391.00,581.23 L391.75,580.95 L392.50,580.64 L393.25,580.29 L394.00,579.91 L394.75,579.50 L395.50,579.05 L396.25,578.56 L397.00,578.04 L397.75,577.47 L398.50,576.87 L399.25,576.22 L400.00,575.53 L400.75,574.79 L401.50,574.02 L402.25,573.21 L403.00,572.36 L403.75,571.47 L404.50,570.55 L405.25,569.59 L406.00,568.61 L406.75,567.60 L407.50,566.57 L408.25,565.53 L409.00,564.47 L409.75,563.42 L410.50,562.36 L411.25,561.31 L412.00,560.27 L412.75,559.26 L413.50,558.27 L414.25,557.32 L415.00,556.41 L415.75,555.54 L416.50,554.73 L417.25,553.99 L418.00,553.31 L418.75,552.70 L419.50,552.17 L420.25,551.72 L421.00,551.36 L421.75,551.08 L422.50,550.90 L423.25,550.81 L424.00,550.81 L424.75,550.91 L425.50,551.10 L426.25,551.38 L427.00,551.75 L427.75,552.20 L428.50,552.74 L429.25,553.35 L430.00,554.03 L430.75,554.79 L431.50,555.60 L432.25,556.46 L433.00,557.38 L433.75,558.33 L434.50,559.32 L435.25,560.34 L436.00,561.38 L436.75,562.43 L437.50,563.49 L438.25,564.54 L439.00,565.60 L439.75,566.64 L440.50,567.67 L441.25,568.67 L442.00,569.66 L442.75,570.61 L443.50,571.53 L444.25,572.42 L445.00,573.26 L445.75,574.07 L446.50,574.84 L447.25,575.57 L448.00,576.26 L448.75,576.91 L449.50,577.51 L450.25,578.07 L451.00,578.60 L451.75,579.08 L452.50,579.53 L453.25,579.94 L454.00,580.31 L454.75,580.66 L455.50,580.97 L456.25,581.25 L457.00,581.51 L457.75,581.74 L458.50,581.94 L459.25,582.13 L460.00,582.29 L460.75,582.44 L461.50,582.56 L462.25,582.68 L463.00,582.78 L463.75,582.87 L464.50,582.94 L465.25,583.01 L466.00,583.07 L466.75,583.12 L467.50,583.16 L468.25,583.20 L469.00,583.23 L469.75,583.26 L470.50,583.28 L471.25,583.30 L472.00,583.32 L472.75,583.33 L473.50,583.34 L474.25,583.35 L475.00,583.36 L475.75,583.37 L476.50,583.37 L477.25,583.38 L478.00,583.38 L478.75,583.39 L479.50,583.39 L480.25,583.39 L481.00,583.39 L481.75,583.39 L482.50,583.40 L483.25,583.40 L484.00,583.40 L484.75,583.40 L485.50,583.40 L486.25,583.40 L487.00,583.40 L487.75,583.40 L488.50,583.40 L489.25,583.40 L490.00,583.40 L490.75,583.40 L491.50,583.40 L492.25,583.40 L493.00,583.40 L493.75,583.40 L494.50,583.40 L495.25,583.40 L496.00,583.40 L496.75,583.40 L497.50,583.40 L498.25,583.40 L499.00,583.40 L499.75,583.40 L500.50,583.40 L501.25,583.40 L502.00,583.40 L502.75,583.40 L503.50,583.40 L504.25,583.40 L505.00,583.40 L505.75,583.40 L506.50,583.40 L507.25,583.40 L508.00,583.40 L508.75,583.40 L509.50,583.40 L510.25,583.40 L511.00,583.40 L511.75,583.40 L512.50,583.40 L513.25,583.40 L514.00,583.40 L514.75,583.40 L515.50,583.40 L516.25,583.40 L517.00,583.40 L517.75,583.40 L518.50,583.40 L519.25,583.40 L520.00,583.40 L520.75,583.40 L521.50,583.40 L522.25,583.40 L523.00,583.40 L523.75,583.40 L524.50,583.40 L525.25,583.40 L526.00,583.40 L526.75,583.40 L527.50,583.40 L528.25,583.40 L529.00,583.40 L529.75,583.40 L530.50,583.40 L531.25,583.40 L532.00,583.40 L532.75,583.40 L533.50,583.40 L534.25,583.40 L535.00,583.40 L535.75,583.40 L536.50,583.40 L537.25,583.40 L538.00,583.40 L538.75,583.40 L539.50,583.40 L540.25,583.40 L541.00,583.40 L541.75,583.40 L542.50,583.40 L543.25,583.40 L544.00,583.40 L544.75,583.40 L545.50,583.40 L546.25,583.40 L547.00,583.40 L547.75,583.40 L548.50,583.40 L549.25,583.40 L550.00,583.40 L550.75,583.40 L551.50,583.40 L552.25,583.40 L553.00,583.40 L553.75,583.40 L554.50,583.40 L555.25,583.40 L556.00,583.40 L556.75,583.40 L557.50,583.40 L558.25,583.40 L559.00,583.40 L559.75,583.40 L560.50,583.40 L561.25,583.40 L562.00,583.40 L562.75,583.40" fill="none" stroke="#a5a5a5" stroke-width="2.6" stroke-linejoin="round"/>
<path d="M377.50,583.38 L378.25,583.37 L379.00,583.37 L379.75,583.36 L380.50,583.36 L381.25,583.35 L382.00,583.34 L382.75,583.32 L383.50,583.31 L384.25,583.29 L385.00,583.27 L385.75,583.25 L386.50,583.23 L387.25,583.20 L388.00,583.16 L388.75,583.12 L389.50,583.07 L390.25,583.02 L391.00,582.96 L391.75,582.89 L392.50,582.81 L393.25,582.72 L394.00,582.62 L394.75,582.50 L395.50,582.37 L396.25,582.23 L397.00,582.06 L397.75,581.88 L398.50,581.67 L399.25,581.44 L400.00,581.19 L400.75,580.90 L401.50,580.59 L402.25,580.24 L403.00,579.86 L403.75,579.44 L404.50,578.98 L405.25,578.48 L406.00,577.94 L406.75,577.35 L407.50,576.71 L408.25,576.01 L409.00,575.27 L409.75,574.46 L410.50,573.60 L411.25,572.68 L412.00,571.70 L412.75,570.66 L413.50,569.56 L414.25,568.39 L415.00,567.16 L415.75,565.87 L416.50,564.52 L417.25,563.11 L418.00,561.64 L418.75,560.11 L419.50,558.53 L420.25,556.91 L421.00,555.23 L421.75,553.52 L422.50,551.78 L423.25,550.01 L424.00,548.21 L424.75,546.40 L425.50,544.58 L426.25,542.76 L427.00,540.95 L427.75,539.16 L428.50,537.39 L429.25,535.66 L430.00,533.97 L430.75,532.33 L431.50,530.76 L432.25,529.25 L433.00,527.82 L433.75,526.48 L434.50,525.24 L435.25,524.10 L436.00,523.07 L436.75,522.16 L437.50,521.37 L438.25,520.71 L439.00,520.18 L439.75,519.78 L440.50,519.52 L441.25,519.41 L442.00,519.43 L442.75,519.60 L443.50,519.90 L444.25,520.34 L445.00,520.91 L445.75,521.62 L446.50,522.45 L447.25,523.40 L448.00,524.47 L448.75,525.64 L449.50,526.92 L450.25,528.29 L451.00,529.74 L451.75,531.27 L452.50,532.87 L453.25,534.53 L454.00,536.23 L454.75,537.98 L455.50,539.76 L456.25,541.56 L457.00,543.37 L457.75,545.19 L458.50,547.01 L459.25,548.81 L460.00,550.60 L460.75,552.36 L461.50,554.10 L462.25,555.80 L463.00,557.45 L463.75,559.06 L464.50,560.62 L465.25,562.13 L466.00,563.58 L466.75,564.98 L467.50,566.31 L468.25,567.58 L469.00,568.79 L469.75,569.93 L470.50,571.02 L471.25,572.04 L472.00,573.00 L472.75,573.90 L473.50,574.74 L474.25,575.52 L475.00,576.25 L475.75,576.93 L476.50,577.55 L477.25,578.13 L478.00,578.66 L478.75,579.14 L479.50,579.59 L480.25,579.99 L481.00,580.36 L481.75,580.70 L482.50,581.00 L483.25,581.27 L484.00,581.52 L484.75,581.74 L485.50,581.94 L486.25,582.12 L487.00,582.28 L487.75,582.42 L488.50,582.54 L489.25,582.65 L490.00,582.75 L490.75,582.84 L491.50,582.92 L492.25,582.98 L493.00,583.04 L493.75,583.09 L494.50,583.13 L495.25,583.17 L496.00,583.21 L496.75,583.24 L497.50,583.26 L498.25,583.28 L499.00,583.30 L499.75,583.32 L500.50,583.33 L501.25,583.34 L502.00,583.35 L502.75,583.36 L503.50,583.36 L504.25,583.37 L505.00,583.38 L505.75,583.38 L506.50,583.38 L507.25,583.39 L508.00,583.39 L508.75,583.39 L509.50,583.39 L510.25,583.39 L511.00,583.39 L511.75,583.40 L512.50,583.40 L513.25,583.40 L514.00,583.40 L514.75,583.40 L515.50,583.40 L516.25,583.40 L517.00,583.40 L517.75,583.40 L518.50,583.40 L519.25,583.40 L520.00,583.40 L520.75,583.40 L521.50,583.40 L522.25,583.40 L523.00,583.40 L523.75,583.40 L524.50,583.40 L525.25,583.40 L526.00,583.40 L526.75,583.40 L527.50,583.40 L528.25,583.40 L529.00,583.40 L529.75,583.40 L530.50,583.40 L531.25,583.40 L532.00,583.40 L532.75,583.40 L533.50,583.40 L534.25,583.40 L535.00,583.40 L535.75,583.40 L536.50,583.40 L537.25,583.40 L538.00,583.40 L538.75,583.40 L539.50,583.40 L540.25,583.40 L541.00,583.40 L541.75,583.40 L542.50,583.40 L543.25,583.40 L544.00,583.40 L544.75,583.40 L545.50,583.40 L546.25,583.40 L547.00,583.40 L547.75,583.40 L548.50,583.40 L549.25,583.40 L550.00,583.40 L550.75,583.40 L551.50,583.40 L552.25,583.40 L553.00,583.40 L553.75,583.40 L554.50,583.40 L555.25,583.40 L556.00,583.40 L556.75,583.40 L557.50,583.40 L558.25,583.40 L559.00,583.40 L559.75,583.40 L560.50,583.40 L561.25,583.40 L562.00,583.40 L562.75,583.40" fill="none" stroke="#a5a5a5" stroke-width="2.6" stroke-linejoin="round"/>
<path d="M377.50,583.40 L378.25,583.40 L379.00,583.40 L379.75,583.40 L380.50,583.40 L381.25,583.40 L382.00,583.40 L382.75,583.40 L383.50,583.40 L384.25,583.40 L385.00,583.40 L385.75,583.40 L386.50,583.40 L387.25,583.40 L388.00,583.40 L388.75,583.40 L389.50,583.40 L390.25,583.40 L391.00,583.40 L391.75,583.40 L392.50,583.40 L393.25,583.40 L394.00,583.40 L394.75,583.39 L395.50,583.39 L396.25,583.39 L397.00,583.39 L397.75,583.39 L398.50,583.39 L399.25,583.38 L400.00,583.38 L400.75,583.37 L401.50,583.37 L402.25,583.36 L403.00,583.35 L403.75,583.35 L404.50,583.34 L405.25,583.32 L406.00,583.31 L406.75,583.29 L407.50,583.27 L408.25,583.25 L409.00,583.22 L409.75,583.19 L410.50,583.15 L411.25,583.11 L412.00,583.06 L412.75,583.01 L413.50,582.94 L414.25,582.87 L415.00,582.78 L415.75,582.69 L416.50,582.58 L417.25,582.46 L418.00,582.32 L418.75,582.16 L419.50,581.98 L420.25,581.78 L421.00,581.56 L421.75,581.31 L422.50,581.03 L423.25,580.72 L424.00,580.38 L424.75,580.00 L425.50,579.59 L426.25,579.13 L427.00,578.62 L427.75,578.07 L428.50,577.47 L429.25,576.81 L430.00,576.10 L430.75,575.33 L431.50,574.49 L432.25,573.59 L433.00,572.63 L433.75,571.59 L434.50,570.48 L435.25,569.30 L436.00,568.05 L436.75,566.72 L437.50,565.32 L438.25,563.84 L439.00,562.29 L439.75,560.66 L440.50,558.96 L441.25,557.20 L442.00,555.36 L442.75,553.47 L443.50,551.52 L444.25,549.51 L445.00,547.46 L445.75,545.36 L446.50,543.24 L447.25,541.08 L448.00,538.91 L448.75,536.73 L449.50,534.56 L450.25,532.39 L451.00,530.24 L451.75,528.12 L452.50,526.05 L453.25,524.03 L454.00,522.07 L454.75,520.19 L455.50,518.39 L456.25,516.68 L457.00,515.09 L457.75,513.61 L458.50,512.25 L459.25,511.02 L460.00,509.94 L460.75,509.00 L461.50,508.22 L462.25,507.59 L463.00,507.13 L463.75,506.84 L464.50,506.71 L465.25,506.75 L466.00,506.95 L466.75,507.33 L467.50,507.87 L468.25,508.56 L469.00,509.42 L469.75,510.43 L470.50,511.58 L471.25,512.87 L472.00,514.28 L472.75,515.82 L473.50,517.47 L474.25,519.21 L475.00,521.05 L475.75,522.97 L476.50,524.96 L477.25,527.01 L478.00,529.11 L478.75,531.24 L479.50,533.40 L480.25,535.57 L481.00,537.75 L481.75,539.93 L482.50,542.09 L483.25,544.23 L484.00,546.35 L484.75,548.42 L485.50,550.45 L486.25,552.43 L487.00,554.36 L487.75,556.23 L488.50,558.03 L489.25,559.76 L490.00,561.43 L490.75,563.02 L491.50,564.54 L492.25,565.98 L493.00,567.35 L493.75,568.64 L494.50,569.86 L495.25,571.01 L496.00,572.08 L496.75,573.08 L497.50,574.02 L498.25,574.89 L499.00,575.69 L499.75,576.44 L500.50,577.12 L501.25,577.76 L502.00,578.33 L502.75,578.86 L503.50,579.35 L504.25,579.79 L505.00,580.18 L505.75,580.55 L506.50,580.87 L507.25,581.17 L508.00,581.43 L508.75,581.67 L509.50,581.88 L510.25,582.07 L511.00,582.23 L511.75,582.38 L512.50,582.52 L513.25,582.63 L514.00,582.73 L514.75,582.82 L515.50,582.90 L516.25,582.97 L517.00,583.03 L517.75,583.09 L518.50,583.13 L519.25,583.17 L520.00,583.20 L520.75,583.23 L521.50,583.26 L522.25,583.28 L523.00,583.30 L523.75,583.32 L524.50,583.33 L525.25,583.34 L526.00,583.35 L526.75,583.36 L527.50,583.37 L528.25,583.37 L529.00,583.38 L529.75,583.38 L530.50,583.38 L531.25,583.39 L532.00,583.39 L532.75,583.39 L533.50,583.39 L534.25,583.39 L535.00,583.40 L535.75,583.40 L536.50,583.40 L537.25,583.40 L538.00,583.40 L538.75,583.40 L539.50,583.40 L540.25,583.40 L541.00,583.40 L541.75,583.40 L542.50,583.40 L543.25,583.40 L544.00,583.40 L544.75,583.40 L545.50,583.40 L546.25,583.40 L547.00,583.40 L547.75,583.40 L548.50,583.40 L549.25,583.40 L550.00,583.40 L550.75,583.40 L551.50,583.40 L552.25,583.40 L553.00,583.40 L553.75,583.40 L554.50,583.40 L555.25,583.40 L556.00,583.40 L556.75,583.40 L557.50,583.40 L558.25,583.40 L559.00,583.40 L559.75,583.40 L560.50,583.40 L561.25,583.40 L562.00,583.40 L562.75,583.40" fill="none" stroke="#ed7d31" stroke-width="2.6" stroke-linejoin="round"/>
<path d="M377.50,583.40 L378.25,583.40 L379.00,583.40 L379.75,583.40 L380.50,583.40 L381.25,583.40 L382.00,583.40 L382.75,583.40 L383.50,583.40 L384.25,583.40 L385.00,583.40 L385.75,583.40 L386.50,583.40 L387.25,583.40 L388.00,583.40 L388.75,583.40 L389.50,583.40 L390.25,583.40 L391.00,583.40 L391.75,583.40 L392.50,583.40 L393.25,583.40 L394.00,583.40 L394.75,583.40 L395.50,583.40 L396.25,583.40 L397.00,583.40 L397.75,583.40 L398.50,583.40 L399.25,583.40 L400.00,583.40 L400.75,583.40 L401.50,583.40 L402.25,583.40 L403.00,583.40 L403.75,583.40 L404.50,583.40 L405.25,583.40 L406.00,583.40 L406.75,583.40 L407.50,583.40 L408.25,583.40 L409.00,583.40 L409.75,583.40 L410.50,583.40 L411.25,583.40 L412.00,583.40 L412.75,583.40 L413.50,583.40 L414.25,583.40 L415.00,583.40 L415.75,583.39 L416.50,583.39 L417.25,583.39 L418.00,583.39 L418.75,583.39 L419.50,583.39 L420.25,583.38 L421.00,583.38 L421.75,583.37 L422.50,583.37 L423.25,583.36 L424.00,583.36 L424.75,583.35 L425.50,583.34 L426.25,583.33 L427.00,583.32 L427.75,583.30 L428.50,583.29 L429.25,583.27 L430.00,583.24 L430.75,583.22 L431.50,583.19 L432.25,583.15 L433.00,583.11 L433.75,583.07 L434.50,583.02 L435.25,582.96 L436.00,582.89 L436.75,582.82 L437.50,582.73 L438.25,582.63 L439.00,582.52 L439.75,582.40 L440.50,582.26 L441.25,582.11 L442.00,581.94 L442.75,581.75 L443.50,581.53 L444.25,581.30 L445.00,581.03 L445.75,580.74 L446.50,580.43 L447.25,580.07 L448.00,579.69 L448.75,579.27 L449.50,578.80 L450.25,578.30 L451.00,577.75 L451.75,577.16 L452.50,576.52 L453.25,575.82 L454.00,575.08 L454.75,574.27 L455.50,573.41 L456.25,572.49 L457.00,571.50 L457.75,570.45 L458.50,569.34 L459.25,568.16 L460.00,566.92 L460.75,565.61 L461.50,564.23 L462.25,562.78 L463.00,561.27 L463.75,559.69 L464.50,558.05 L465.25,556.35 L466.00,554.59 L466.75,552.78 L467.50,550.91 L468.25,549.00 L469.00,547.05 L469.75,545.06 L470.50,543.04 L471.25,541.00 L472.00,538.94 L472.75,536.87 L473.50,534.80 L474.25,532.73 L475.00,530.69 L475.75,528.66 L476.50,526.67 L477.25,524.72 L478.00,522.82 L478.75,520.98 L479.50,519.21 L480.25,517.52 L481.00,515.91 L481.75,514.40 L482.50,513.00 L483.25,511.70 L484.00,510.52 L484.75,509.47 L485.50,508.55 L486.25,507.76 L487.00,507.12 L487.75,506.62 L488.50,506.26 L489.25,506.06 L490.00,506.00 L490.75,506.10 L491.50,506.34 L492.25,506.74 L493.00,507.28 L493.75,507.96 L494.50,508.78 L495.25,509.74 L496.00,510.83 L496.75,512.04 L497.50,513.36 L498.25,514.80 L499.00,516.33 L499.75,517.96 L500.50,519.67 L501.25,521.46 L502.00,523.32 L502.75,525.23 L503.50,527.20 L504.25,529.20 L505.00,531.23 L505.75,533.28 L506.50,535.35 L507.25,537.42 L508.00,539.49 L508.75,541.54 L509.50,543.58 L510.25,545.59 L511.00,547.57 L511.75,549.51 L512.50,551.41 L513.25,553.26 L514.00,555.06 L514.75,556.81 L515.50,558.49 L516.25,560.12 L517.00,561.68 L517.75,563.17 L518.50,564.60 L519.25,565.96 L520.00,567.26 L520.75,568.48 L521.50,569.65 L522.25,570.74 L523.00,571.77 L523.75,572.74 L524.50,573.65 L525.25,574.49 L526.00,575.28 L526.75,576.01 L527.50,576.69 L528.25,577.32 L529.00,577.90 L529.75,578.44 L530.50,578.93 L531.25,579.38 L532.00,579.79 L532.75,580.17 L533.50,580.51 L534.25,580.82 L535.00,581.11 L535.75,581.36 L536.50,581.59 L537.25,581.80 L538.00,581.99 L538.75,582.15 L539.50,582.30 L540.25,582.44 L541.00,582.56 L541.75,582.66 L542.50,582.75 L543.25,582.84 L544.00,582.91 L544.75,582.98 L545.50,583.03 L546.25,583.08 L547.00,583.13 L547.75,583.16 L548.50,583.20 L549.25,583.23 L550.00,583.25 L550.75,583.27 L551.50,583.29 L552.25,583.31 L553.00,583.32 L553.75,583.33 L554.50,583.34 L555.25,583.35 L556.00,583.36 L556.75,583.37 L557.50,583.37 L558.25,583.38 L559.00,583.38 L559.75,583.38 L560.50,583.39 L561.25,583.39 L562.00,583.39 L562.75,583.39" fill="none" stroke="#70ad47" stroke-width="2.6" stroke-linejoin="round"/>
<path d="M377.50,583.40 L378.25,583.40 L379.00,583.40 L379.75,583.40 L380.50,583.40 L381.25,583.40 L382.00,583.40 L382.75,583.40 L383.50,583.40 L384.25,583.40 L385.00,583.40 L385.75,583.40 L386.50,583.40 L387.25,583.40 L388.00,583.40 L388.75,583.40 L389.50,583.40 L390.25,583.40 L391.00,583.40 L391.75,583.40 L392.50,583.40 L393.25,583.40 L394.00,583.40 L394.75,583.40 L395.50,583.40 L396.25,583.40 L397.00,583.40 L397.75,583.40 L398.50,583.40 L399.25,583.40 L400.00,583.40 L400.75,583.40 L401.50,583.40 L402.25,583.40 L403.00,583.40 L403.75,583.40 L404.50,583.40 L405.25,583.40 L406.00,583.40 L406.75,583.40 L407.50,583.40 L408.25,583.40 L409.00,583.40 L409.75,583.40 L410.50,583.40 L411.25,583.40 L412.00,583.40 L412.75,583.40 L413.50,583.40 L414.25,583.40 L415.00,583.40 L415.75,583.40 L416.50,583.40 L417.25,583.40 L418.00,583.40 L418.75,583.40 L419.50,583.40 L420.25,583.40 L421.00,583.40 L421.75,583.40 L422.50,583.40 L423.25,583.40 L424.00,583.40 L424.75,583.40 L425.50,583.40 L426.25,583.40 L427.00,583.40 L427.75,583.40 L428.50,583.40 L429.25,583.40 L430.00,583.40 L430.75,583.40 L431.50,583.40 L432.25,583.40 L433.00,583.40 L433.75,583.40 L434.50,583.40 L435.25,583.40 L436.00,583.40 L436.75,583.40 L437.50,583.40 L438.25,583.40 L439.00,583.40 L439.75,583.40 L440.50,583.40 L441.25,583.40 L442.00,583.40 L442.75,583.40 L443.50,583.40 L444.25,583.40 L445.00,583.40 L445.75,583.40 L446.50,583.40 L447.25,583.40 L448.00,583.40 L448.75,583.40 L449.50,583.40 L450.25,583.40 L451.00,583.40 L451.75,583.40 L452.50,583.40 L453.25,583.40 L454.00,583.40 L454.75,583.40 L455.50,583.40 L456.25,583.40 L457.00,583.40 L457.75,583.40 L458.50,583.40 L459.25,583.40 L460.00,583.40 L460.75,583.40 L461.50,583.40 L462.25,583.40 L463.00,583.40 L463.75,583.40 L464.50,583.40 L465.25,583.40 L466.00,583.40 L466.75,583.40 L467.50,583.40 L468.25,583.39 L469.00,583.39 L469.75,583.39 L470.50,583.39 L471.25,583.38 L472.00,583.38 L472.75,583.38 L473.50,583.37 L474.25,583.36 L475.00,583.35 L475.75,583.34 L476.50,583.33 L477.25,583.31 L478.00,583.29 L478.75,583.27 L479.50,583.24 L480.25,583.21 L481.00,583.17 L481.75,583.12 L482.50,583.06 L483.25,583.00 L484.00,582.92 L484.75,582.83 L485.50,582.73 L486.25,582.61 L487.00,582.48 L487.75,582.32 L488.50,582.14 L489.25,581.94 L490.00,581.71 L490.75,581.46 L491.50,581.17 L492.25,580.85 L493.00,580.50 L493.75,580.11 L494.50,579.67 L495.25,579.20 L496.00,578.68 L496.75,578.12 L497.50,577.51 L498.25,576.86 L499.00,576.16 L499.75,575.42 L500.50,574.63 L501.25,573.79 L502.00,572.91 L502.75,572.00 L503.50,571.05 L504.25,570.07 L505.00,569.06 L505.75,568.03 L506.50,566.99 L507.25,565.94 L508.00,564.89 L508.75,563.85 L509.50,562.82 L510.25,561.82 L511.00,560.84 L511.75,559.91 L512.50,559.03 L513.25,558.21 L514.00,557.45 L514.75,556.76 L515.50,556.16 L516.25,555.64 L517.00,555.22 L517.75,554.89 L518.50,554.66 L519.25,554.53 L520.00,554.50 L520.75,554.58 L521.50,554.77 L522.25,555.05 L523.00,555.43 L523.75,555.91 L524.50,556.47 L525.25,557.12 L526.00,557.84 L526.75,558.64 L527.50,559.49 L528.25,560.40 L529.00,561.36 L529.75,562.35 L530.50,563.37 L531.25,564.40 L532.00,565.45 L532.75,566.50 L533.50,567.55 L534.25,568.58 L535.00,569.60 L535.75,570.60 L536.50,571.56 L537.25,572.49 L538.00,573.39 L538.75,574.24 L539.50,575.05 L540.25,575.82 L541.00,576.54 L541.75,577.22 L542.50,577.84 L543.25,578.43 L544.00,578.96 L544.75,579.46 L545.50,579.91 L546.25,580.32 L547.00,580.69 L547.75,581.03 L548.50,581.33 L549.25,581.60 L550.00,581.84 L550.75,582.05 L551.50,582.24 L552.25,582.41 L553.00,582.55 L553.75,582.68 L554.50,582.79 L555.25,582.88 L556.00,582.96 L556.75,583.03 L557.50,583.09 L558.25,583.15 L559.00,583.19 L559.75,583.23 L560.50,583.26 L561.25,583.28 L562.00,583.30 L562.75,583.32" fill="none" stroke="#4472c4" stroke-width="2.6" stroke-linejoin="round"/>
<path d="M376.20,582.80 C377.67,582.75 382.70,583.05 385.00,582.50 C387.30,581.95 388.33,580.70 390.00,579.50 C391.67,578.30 393.22,577.05 395.00,575.30 C396.78,573.55 399.03,570.88 400.70,569.00 C402.37,567.12 403.67,565.67 405.00,564.00 C406.33,562.33 407.47,561.33 408.70,559.00 C409.93,556.67 411.18,553.33 412.40,550.00 C413.62,546.67 414.98,542.33 416.00,539.00 C417.02,535.67 417.53,533.08 418.50,530.00 C419.47,526.92 420.58,523.88 421.80,520.50 C423.02,517.12 424.38,513.48 425.80,509.70 C427.22,505.92 428.80,501.78 430.30,497.80 C431.80,493.82 433.30,489.05 434.80,485.80 C436.30,482.55 437.55,480.28 439.30,478.30 C441.05,476.32 443.57,475.88 445.30,473.90 C447.03,471.92 447.97,469.15 449.70,466.40 C451.43,463.65 453.45,459.52 455.70,457.40 C457.95,455.28 460.98,454.57 463.20,453.70 C465.42,452.83 467.03,451.83 469.00,452.20 C470.97,452.57 473.00,454.28 475.00,455.90 C477.00,457.52 479.02,459.40 481.00,461.90 C482.98,464.40 484.92,467.17 486.90,470.90 C488.88,474.63 490.90,480.07 492.90,484.30 C494.90,488.53 496.90,492.57 498.90,496.30 C500.90,500.03 502.92,502.97 504.90,506.70 C506.88,510.43 508.82,515.22 510.80,518.70 C512.78,522.18 514.80,524.12 516.80,527.60 C518.80,531.08 520.80,535.37 522.80,539.60 C524.80,543.83 526.80,548.77 528.80,553.00 C530.80,557.23 532.82,561.75 534.80,565.00 C536.78,568.25 538.72,570.50 540.70,572.50 C542.68,574.50 544.70,575.63 546.70,577.00 C548.70,578.37 550.70,579.83 552.70,580.70 C554.70,581.57 556.75,581.82 558.70,582.20 C560.65,582.58 563.45,582.87 564.40,583.00" fill="none" stroke="#e41e26" stroke-width="3" stroke-dasharray="18 18" stroke-dashoffset="0" stroke-linejoin="round" stroke-linecap="round"/>
<path d="M376.20,738.50 C378.00,738.40 383.47,739.00 387.00,737.90 C390.53,736.80 394.42,734.63 397.40,731.90 C400.38,729.17 402.65,725.15 404.90,721.50 C407.15,717.85 409.15,713.98 410.90,710.00 C412.65,706.02 413.92,702.17 415.40,697.60 C416.88,693.03 418.32,687.08 419.80,682.60 C421.28,678.12 422.80,675.18 424.30,670.70 C425.80,666.22 427.30,659.93 428.80,655.70 C430.30,651.47 431.80,648.28 433.30,645.30 C434.80,642.32 436.30,639.92 437.80,637.80 C439.30,635.68 440.57,634.33 442.30,632.60 C444.03,630.87 446.22,629.27 448.20,627.40 C450.18,625.53 452.20,623.03 454.20,621.40 C456.20,619.77 458.45,618.48 460.20,617.60 C461.95,616.72 463.20,616.10 464.70,616.10 C466.20,616.10 467.98,616.97 469.20,617.60 C470.42,618.23 470.53,618.27 472.00,619.90 C473.47,621.53 476.02,624.17 478.00,627.40 C479.98,630.63 481.92,635.32 483.90,639.30 C485.88,643.28 487.90,647.82 489.90,651.30 C491.90,654.78 493.90,657.22 495.90,660.20 C497.90,663.18 499.90,666.45 501.90,669.20 C503.90,671.95 505.92,674.47 507.90,676.70 C509.88,678.93 511.82,680.12 513.80,682.60 C515.78,685.08 517.80,688.10 519.80,691.60 C521.80,695.10 523.80,699.62 525.80,703.60 C527.80,707.58 529.82,712.27 531.80,715.50 C533.78,718.73 535.72,720.75 537.70,723.00 C539.68,725.25 541.70,727.38 543.70,729.00 C545.70,730.62 547.70,731.72 549.70,732.70 C551.70,733.68 553.70,734.28 555.70,734.90 C557.70,735.52 560.25,736.05 561.70,736.40 C563.15,736.75 563.95,736.90 564.40,737.00" fill="none" stroke="#000" stroke-width="3.2" stroke-linejoin="round" stroke-linecap="round"/>
<path d="M377.50,738.51 L378.25,738.49 L379.00,738.47 L379.75,738.45 L380.50,738.42 L381.25,738.39 L382.00,738.35 L382.75,738.31 L383.50,738.26 L384.25,738.20 L385.00,738.14 L385.75,738.06 L386.50,737.97 L387.25,737.87 L388.00,737.76 L388.75,737.63 L389.50,737.48 L390.25,737.32 L391.00,737.14 L391.75,736.93 L392.50,736.70 L393.25,736.44 L394.00,736.15 L394.75,735.83 L395.50,735.48 L396.25,735.09 L397.00,734.66 L397.75,734.19 L398.50,733.68 L399.25,733.12 L400.00,732.52 L400.75,731.86 L401.50,731.15 L402.25,730.39 L403.00,729.57 L403.75,728.70 L404.50,727.77 L405.25,726.78 L406.00,725.73 L406.75,724.62 L407.50,723.46 L408.25,722.24 L409.00,720.97 L409.75,719.64 L410.50,718.27 L411.25,716.85 L412.00,715.39 L412.75,713.90 L413.50,712.37 L414.25,710.82 L415.00,709.26 L415.75,707.68 L416.50,706.10 L417.25,704.52 L418.00,702.95 L418.75,701.41 L419.50,699.89 L420.25,698.42 L421.00,696.99 L421.75,695.62 L422.50,694.31 L423.25,693.08 L424.00,691.93 L424.75,690.87 L425.50,689.91 L426.25,689.06 L427.00,688.31 L427.75,687.69 L428.50,687.18 L429.25,686.80 L430.00,686.54 L430.75,686.41 L431.50,686.42 L432.25,686.55 L433.00,686.82 L433.75,687.21 L434.50,687.72 L435.25,688.36 L436.00,689.11 L436.75,689.97 L437.50,690.94 L438.25,692.01 L439.00,693.16 L439.75,694.40 L440.50,695.71 L441.25,697.08 L442.00,698.51 L442.75,699.99 L443.50,701.51 L444.25,703.05 L445.00,704.62 L445.75,706.20 L446.50,707.78 L447.25,709.36 L448.00,710.93 L448.75,712.48 L449.50,714.00 L450.25,715.49 L451.00,716.95 L451.75,718.36 L452.50,719.73 L453.25,721.05 L454.00,722.32 L454.75,723.54 L455.50,724.70 L456.25,725.80 L457.00,726.84 L457.75,727.83 L458.50,728.76 L459.25,729.63 L460.00,730.44 L460.75,731.20 L461.50,731.90 L462.25,732.56 L463.00,733.16 L463.75,733.72 L464.50,734.22 L465.25,734.69 L466.00,735.12 L466.75,735.50 L467.50,735.85 L468.25,736.17 L469.00,736.46 L469.75,736.71 L470.50,736.94 L471.25,737.15 L472.00,737.33 L472.75,737.49 L473.50,737.64 L474.25,737.77 L475.00,737.88 L475.75,737.98 L476.50,738.06 L477.25,738.14 L478.00,738.21 L478.75,738.26 L479.50,738.31 L480.25,738.36 L481.00,738.39 L481.75,738.43 L482.50,738.45 L483.25,738.48 L484.00,738.50 L484.75,738.51 L485.50,738.53 L486.25,738.54 L487.00,738.55 L487.75,738.56 L488.50,738.57 L489.25,738.57 L490.00,738.58 L490.75,738.58 L491.50,738.58 L492.25,738.59 L493.00,738.59 L493.75,738.59 L494.50,738.59 L495.25,738.59 L496.00,738.60 L496.75,738.60 L497.50,738.60 L498.25,738.60 L499.00,738.60 L499.75,738.60 L500.50,738.60 L501.25,738.60 L502.00,738.60 L502.75,738.60 L503.50,738.60 L504.25,738.60 L505.00,738.60 L505.75,738.60 L506.50,738.60 L507.25,738.60 L508.00,738.60 L508.75,738.60 L509.50,738.60 L510.25,738.60 L511.00,738.60 L511.75,738.60 L512.50,738.60 L513.25,738.60 L514.00,738.60 L514.75,738.60 L515.50,738.60 L516.25,738.60 L517.00,738.60 L517.75,738.60 L518.50,738.60 L519.25,738.60 L520.00,738.60 L520.75,738.60 L521.50,738.60 L522.25,738.60 L523.00,738.60 L523.75,738.60 L524.50,738.60 L525.25,738.60 L526.00,738.60 L526.75,738.60 L527.50,738.60 L528.25,738.60 L529.00,738.60 L529.75,738.60 L530.50,738.60 L531.25,738.60 L532.00,738.60 L532.75,738.60 L533.50,738.60 L534.25,738.60 L535.00,738.60 L535.75,738.60 L536.50,738.60 L537.25,738.60 L538.00,738.60 L538.75,738.60 L539.50,738.60 L540.25,738.60 L541.00,738.60 L541.75,738.60 L542.50,738.60 L543.25,738.60 L544.00,738.60 L544.75,738.60 L545.50,738.60 L546.25,738.60 L547.00,738.60 L547.75,738.60 L548.50,738.60 L549.25,738.60 L550.00,738.60 L550.75,738.60 L551.50,738.60 L552.25,738.60 L553.00,738.60 L553.75,738.60 L554.50,738.60 L555.25,738.60 L556.00,738.60 L556.75,738.60 L557.50,738.60 L558.25,738.60 L559.00,738.60 L559.75,738.60 L560.50,738.60 L561.25,738.60 L562.00,738.60 L562.75,738.60" fill="none" stroke="#a5a5a5" stroke-width="2.6" stroke-linejoin="round"/>
<path d="M377.50,738.58 L378.25,738.58 L379.00,738.58 L379.75,738.57 L380.50,738.57 L381.25,738.57 L382.00,738.56 L382.75,738.55 L383.50,738.55 L384.25,738.54 L385.00,738.53 L385.75,738.52 L386.50,738.51 L387.25,738.50 L388.00,738.48 L388.75,738.46 L389.50,738.45 L390.25,738.42 L391.00,738.40 L391.75,738.37 L392.50,738.34 L393.25,738.31 L394.00,738.27 L394.75,738.23 L395.50,738.18 L396.25,738.13 L397.00,738.07 L397.75,738.00 L398.50,737.93 L399.25,737.85 L400.00,737.76 L400.75,737.66 L401.50,737.55 L402.25,737.43 L403.00,737.30 L403.75,737.15 L404.50,736.99 L405.25,736.81 L406.00,736.62 L406.75,736.41 L407.50,736.18 L408.25,735.93 L409.00,735.65 L409.75,735.36 L410.50,735.03 L411.25,734.68 L412.00,734.30 L412.75,733.89 L413.50,733.45 L414.25,732.97 L415.00,732.46 L415.75,731.91 L416.50,731.31 L417.25,730.68 L418.00,730.00 L418.75,729.28 L419.50,728.50 L420.25,727.68 L421.00,726.80 L421.75,725.87 L422.50,724.89 L423.25,723.84 L424.00,722.74 L424.75,721.58 L425.50,720.35 L426.25,719.06 L427.00,717.71 L427.75,716.29 L428.50,714.80 L429.25,713.25 L430.00,711.64 L430.75,709.95 L431.50,708.20 L432.25,706.39 L433.00,704.50 L433.75,702.56 L434.50,700.55 L435.25,698.48 L436.00,696.36 L436.75,694.17 L437.50,691.94 L438.25,689.65 L439.00,687.32 L439.75,684.94 L440.50,682.53 L441.25,680.08 L442.00,677.60 L442.75,675.10 L443.50,672.58 L444.25,670.05 L445.00,667.51 L445.75,664.98 L446.50,662.45 L447.25,659.93 L448.00,657.43 L448.75,654.96 L449.50,652.53 L450.25,650.13 L451.00,647.79 L451.75,645.50 L452.50,643.28 L453.25,641.13 L454.00,639.05 L454.75,637.07 L455.50,635.17 L456.25,633.37 L457.00,631.68 L457.75,630.10 L458.50,628.64 L459.25,627.30 L460.00,626.09 L460.75,625.01 L461.50,624.06 L462.25,623.25 L463.00,622.59 L463.75,622.07 L464.50,621.70 L465.25,621.47 L466.00,621.40 L466.75,621.47 L467.50,621.70 L468.25,622.07 L469.00,622.59 L469.75,623.25 L470.50,624.06 L471.25,625.01 L472.00,626.09 L472.75,627.30 L473.50,628.64 L474.25,630.10 L475.00,631.68 L475.75,633.37 L476.50,635.17 L477.25,637.07 L478.00,639.05 L478.75,641.13 L479.50,643.28 L480.25,645.50 L481.00,647.79 L481.75,650.13 L482.50,652.53 L483.25,654.96 L484.00,657.43 L484.75,659.93 L485.50,662.45 L486.25,664.98 L487.00,667.51 L487.75,670.05 L488.50,672.58 L489.25,675.10 L490.00,677.60 L490.75,680.08 L491.50,682.53 L492.25,684.94 L493.00,687.32 L493.75,689.65 L494.50,691.94 L495.25,694.17 L496.00,696.36 L496.75,698.48 L497.50,700.55 L498.25,702.56 L499.00,704.50 L499.75,706.39 L500.50,708.20 L501.25,709.95 L502.00,711.64 L502.75,713.25 L503.50,714.80 L504.25,716.29 L505.00,717.71 L505.75,719.06 L506.50,720.35 L507.25,721.58 L508.00,722.74 L508.75,723.84 L509.50,724.89 L510.25,725.87 L511.00,726.80 L511.75,727.68 L512.50,728.50 L513.25,729.28 L514.00,730.00 L514.75,730.68 L515.50,731.31 L516.25,731.91 L517.00,732.46 L517.75,732.97 L518.50,733.45 L519.25,733.89 L520.00,734.30 L520.75,734.68 L521.50,735.03 L522.25,735.36 L523.00,735.65 L523.75,735.93 L524.50,736.18 L525.25,736.41 L526.00,736.62 L526.75,736.81 L527.50,736.99 L528.25,737.15 L529.00,737.30 L529.75,737.43 L530.50,737.55 L531.25,737.66 L532.00,737.76 L532.75,737.85 L533.50,737.93 L534.25,738.00 L535.00,738.07 L535.75,738.13 L536.50,738.18 L537.25,738.23 L538.00,738.27 L538.75,738.31 L539.50,738.34 L540.25,738.37 L541.00,738.40 L541.75,738.42 L542.50,738.45 L543.25,738.46 L544.00,738.48 L544.75,738.50 L545.50,738.51 L546.25,738.52 L547.00,738.53 L547.75,738.54 L548.50,738.55 L549.25,738.55 L550.00,738.56 L550.75,738.57 L551.50,738.57 L552.25,738.57 L553.00,738.58 L553.75,738.58 L554.50,738.58 L555.25,738.59 L556.00,738.59 L556.75,738.59 L557.50,738.59 L558.25,738.59 L559.00,738.59 L559.75,738.59 L560.50,738.60 L561.25,738.60 L562.00,738.60 L562.75,738.60" fill="none" stroke="#ed7d31" stroke-width="2.6" stroke-linejoin="round"/>
<path d="M377.50,738.60 L378.25,738.60 L379.00,738.60 L379.75,738.60 L380.50,738.60 L381.25,738.60 L382.00,738.60 L382.75,738.60 L383.50,738.60 L384.25,738.60 L385.00,738.60 L385.75,738.60 L386.50,738.60 L387.25,738.60 L388.00,738.60 L388.75,738.60 L389.50,738.60 L390.25,738.60 L391.00,738.60 L391.75,738.60 L392.50,738.60 L393.25,738.60 L394.00,738.60 L394.75,738.60 L395.50,738.60 L396.25,738.60 L397.00,738.60 L397.75,738.60 L398.50,738.60 L399.25,738.60 L400.00,738.60 L400.75,738.60 L401.50,738.60 L402.25,738.60 L403.00,738.60 L403.75,738.60 L404.50,738.60 L405.25,738.60 L406.00,738.60 L406.75,738.60 L407.50,738.60 L408.25,738.60 L409.00,738.60 L409.75,738.60 L410.50,738.60 L411.25,738.60 L412.00,738.60 L412.75,738.60 L413.50,738.60 L414.25,738.60 L415.00,738.60 L415.75,738.60 L416.50,738.60 L417.25,738.60 L418.00,738.60 L418.75,738.60 L419.50,738.60 L420.25,738.60 L421.00,738.60 L421.75,738.60 L422.50,738.60 L423.25,738.60 L424.00,738.60 L424.75,738.60 L425.50,738.60 L426.25,738.60 L427.00,738.60 L427.75,738.60 L428.50,738.60 L429.25,738.60 L430.00,738.60 L430.75,738.60 L431.50,738.60 L432.25,738.60 L433.00,738.60 L433.75,738.59 L434.50,738.59 L435.25,738.59 L436.00,738.59 L436.75,738.59 L437.50,738.59 L438.25,738.58 L439.00,738.58 L439.75,738.58 L440.50,738.57 L441.25,738.57 L442.00,738.56 L442.75,738.56 L443.50,738.55 L444.25,738.54 L445.00,738.53 L445.75,738.52 L446.50,738.51 L447.25,738.50 L448.00,738.48 L448.75,738.47 L449.50,738.45 L450.25,738.42 L451.00,738.40 L451.75,738.37 L452.50,738.34 L453.25,738.30 L454.00,738.26 L454.75,738.22 L455.50,738.16 L456.25,738.11 L457.00,738.04 L457.75,737.97 L458.50,737.89 L459.25,737.81 L460.00,737.71 L460.75,737.60 L461.50,737.48 L462.25,737.35 L463.00,737.21 L463.75,737.05 L464.50,736.88 L465.25,736.69 L466.00,736.49 L466.75,736.27 L467.50,736.03 L468.25,735.76 L469.00,735.48 L469.75,735.17 L470.50,734.85 L471.25,734.49 L472.00,734.11 L472.75,733.70 L473.50,733.27 L474.25,732.80 L475.00,732.31 L475.75,731.78 L476.50,731.22 L477.25,730.63 L478.00,730.01 L478.75,729.36 L479.50,728.67 L480.25,727.94 L481.00,727.19 L481.75,726.40 L482.50,725.57 L483.25,724.72 L484.00,723.83 L484.75,722.91 L485.50,721.96 L486.25,720.99 L487.00,719.98 L487.75,718.96 L488.50,717.91 L489.25,716.84 L490.00,715.76 L490.75,714.66 L491.50,713.55 L492.25,712.43 L493.00,711.30 L493.75,710.18 L494.50,709.06 L495.25,707.94 L496.00,706.84 L496.75,705.75 L497.50,704.68 L498.25,703.63 L499.00,702.61 L499.75,701.62 L500.50,700.67 L501.25,699.76 L502.00,698.89 L502.75,698.07 L503.50,697.30 L504.25,696.59 L505.00,695.93 L505.75,695.34 L506.50,694.81 L507.25,694.35 L508.00,693.96 L508.75,693.64 L509.50,693.40 L510.25,693.22 L511.00,693.12 L511.75,693.10 L512.50,693.15 L513.25,693.28 L514.00,693.49 L514.75,693.76 L515.50,694.11 L516.25,694.53 L517.00,695.02 L517.75,695.57 L518.50,696.19 L519.25,696.87 L520.00,697.60 L520.75,698.39 L521.50,699.23 L522.25,700.12 L523.00,701.05 L523.75,702.01 L524.50,703.01 L525.25,704.05 L526.00,705.10 L526.75,706.18 L527.50,707.28 L528.25,708.39 L529.00,709.50 L529.75,710.63 L530.50,711.75 L531.25,712.87 L532.00,713.99 L532.75,715.10 L533.50,716.19 L534.25,717.27 L535.00,718.33 L535.75,719.37 L536.50,720.39 L537.25,721.38 L538.00,722.34 L538.75,723.28 L539.50,724.19 L540.25,725.06 L541.00,725.91 L541.75,726.72 L542.50,727.49 L543.25,728.24 L544.00,728.95 L544.75,729.62 L545.50,730.26 L546.25,730.87 L547.00,731.45 L547.75,732.00 L548.50,732.51 L549.25,732.99 L550.00,733.44 L550.75,733.87 L551.50,734.27 L552.25,734.64 L553.00,734.98 L553.75,735.30 L554.50,735.60 L555.25,735.87 L556.00,736.12 L556.75,736.36 L557.50,736.57 L558.25,736.77 L559.00,736.95 L559.75,737.12 L560.50,737.27 L561.25,737.41 L562.00,737.53 L562.75,737.65" fill="none" stroke="#4472c4" stroke-width="2.6" stroke-linejoin="round"/>
<path d="M376.20,738.50 C378.00,738.40 383.47,739.00 387.00,737.90 C390.53,736.80 394.42,734.63 397.40,731.90 C400.38,729.17 402.65,725.15 404.90,721.50 C407.15,717.85 409.15,713.98 410.90,710.00 C412.65,706.02 413.92,702.17 415.40,697.60 C416.88,693.03 418.32,687.08 419.80,682.60 C421.28,678.12 422.80,675.18 424.30,670.70 C425.80,666.22 427.30,659.93 428.80,655.70 C430.30,651.47 431.80,648.28 433.30,645.30 C434.80,642.32 436.30,639.92 437.80,637.80 C439.30,635.68 440.57,634.33 442.30,632.60 C444.03,630.87 446.22,629.27 448.20,627.40 C450.18,625.53 452.20,623.03 454.20,621.40 C456.20,619.77 458.45,618.48 460.20,617.60 C461.95,616.72 463.20,616.10 464.70,616.10 C466.20,616.10 467.98,616.97 469.20,617.60 C470.42,618.23 470.53,618.27 472.00,619.90 C473.47,621.53 476.02,624.17 478.00,627.40 C479.98,630.63 481.92,635.32 483.90,639.30 C485.88,643.28 487.90,647.82 489.90,651.30 C491.90,654.78 493.90,657.22 495.90,660.20 C497.90,663.18 499.90,666.45 501.90,669.20 C503.90,671.95 505.92,674.47 507.90,676.70 C509.88,678.93 511.82,680.12 513.80,682.60 C515.78,685.08 517.80,688.10 519.80,691.60 C521.80,695.10 523.80,699.62 525.80,703.60 C527.80,707.58 529.82,712.27 531.80,715.50 C533.78,718.73 535.72,720.75 537.70,723.00 C539.68,725.25 541.70,727.38 543.70,729.00 C545.70,730.62 547.70,731.72 549.70,732.70 C551.70,733.68 553.70,734.28 555.70,734.90 C557.70,735.52 560.25,736.05 561.70,736.40 C563.15,736.75 563.95,736.90 564.40,737.00" fill="none" stroke="#e41e26" stroke-width="3" stroke-dasharray="18 18" stroke-dashoffset="0" stroke-linejoin="round" stroke-linecap="round"/>
<path d="M376.20,878.00 C376.75,878.37 378.20,880.08 379.50,880.20 C380.80,880.32 382.50,878.82 384.00,878.70 C385.50,878.58 387.02,878.38 388.50,879.50 C389.98,880.62 391.42,883.65 392.90,885.40 C394.38,887.15 390.17,889.23 397.40,890.00 C404.63,890.77 428.82,891.50 436.30,890.00 C443.78,888.50 440.32,883.75 442.30,881.00 C444.28,878.25 445.97,877.25 448.20,873.50 C450.43,869.75 453.70,863.98 455.70,858.50 C457.70,853.02 458.70,847.57 460.20,840.60 C461.70,833.63 463.20,825.67 464.70,816.70 C466.20,807.73 467.98,793.52 469.20,786.80 C470.42,780.08 471.13,779.87 472.00,776.40 C472.87,772.93 473.53,768.32 474.40,766.00 C475.27,763.68 475.87,762.38 477.20,762.50 C478.53,762.62 480.78,763.88 482.40,766.70 C484.02,769.52 485.40,774.05 486.90,779.40 C488.40,784.75 489.90,792.58 491.40,798.80 C492.90,805.02 494.40,810.73 495.90,816.70 C497.40,822.67 498.90,829.12 500.40,834.60 C501.90,840.08 503.17,845.37 504.90,849.60 C506.63,853.83 508.82,857.02 510.80,860.00 C512.78,862.98 514.80,864.75 516.80,867.50 C518.80,870.25 520.80,873.75 522.80,876.50 C524.80,879.25 526.80,882.25 528.80,884.00 C530.80,885.75 533.07,886.77 534.80,887.00 C536.53,887.23 537.72,885.53 539.20,885.40 C540.68,885.27 542.20,885.45 543.70,886.20 C545.20,886.95 544.75,889.27 548.20,889.90 C551.65,890.53 561.70,889.98 564.40,890.00" fill="none" stroke="#000" stroke-width="3.2" stroke-linejoin="round" stroke-linecap="round"/>
<path d="M377.50,890.60 L378.25,890.60 L379.00,890.60 L379.75,890.60 L380.50,890.60 L381.25,890.60 L382.00,890.60 L382.75,890.60 L383.50,890.60 L384.25,890.60 L385.00,890.60 L385.75,890.60 L386.50,890.60 L387.25,890.60 L388.00,890.60 L388.75,890.60 L389.50,890.60 L390.25,890.60 L391.00,890.60 L391.75,890.60 L392.50,890.60 L393.25,890.60 L394.00,890.60 L394.75,890.60 L395.50,890.60 L396.25,890.60 L397.00,890.60 L397.75,890.60 L398.50,890.60 L399.25,890.60 L400.00,890.60 L400.75,890.60 L401.50,890.60 L402.25,890.60 L403.00,890.60 L403.75,890.60 L404.50,890.60 L405.25,890.60 L406.00,890.60 L406.75,890.60 L407.50,890.60 L408.25,890.60 L409.00,890.60 L409.75,890.60 L410.50,890.60 L411.25,890.60 L412.00,890.60 L412.75,890.60 L413.50,890.60 L414.25,890.60 L415.00,890.60 L415.75,890.60 L416.50,890.60 L417.25,890.60 L418.00,890.60 L418.75,890.60 L419.50,890.60 L420.25,890.60 L421.00,890.60 L421.75,890.60 L422.50,890.60 L423.25,890.60 L424.00,890.60 L424.75,890.60 L425.50,890.60 L426.25,890.60 L427.00,890.60 L427.75,890.60 L428.50,890.60 L429.25,890.60 L430.00,890.60 L430.75,890.59 L431.50,890.59 L432.25,890.58 L433.00,890.57 L433.75,890.54 L434.50,890.51 L435.25,890.45 L436.00,890.36 L436.75,890.22 L437.50,890.03 L438.25,889.77 L439.00,889.41 L439.75,888.95 L440.50,888.38 L441.25,887.69 L442.00,886.88 L442.75,885.99 L443.50,885.04 L444.25,884.07 L445.00,883.14 L445.75,882.32 L446.50,881.66 L447.25,881.21 L448.00,881.01 L448.75,881.07 L449.50,881.39 L450.25,881.95 L451.00,882.69 L451.75,883.57 L452.50,884.52 L453.25,885.49 L454.00,886.42 L454.75,887.27 L455.50,888.02 L456.25,888.66 L457.00,889.18 L457.75,889.59 L458.50,889.90 L459.25,890.13 L460.00,890.29 L460.75,890.40 L461.50,890.48 L462.25,890.53 L463.00,890.56 L463.75,890.58 L464.50,890.59 L465.25,890.59 L466.00,890.60 L466.75,890.60 L467.50,890.60 L468.25,890.60 L469.00,890.60 L469.75,890.60 L470.50,890.60 L471.25,890.60 L472.00,890.60 L472.75,890.60 L473.50,890.60 L474.25,890.60 L475.00,890.60 L475.75,890.60 L476.50,890.60 L477.25,890.60 L478.00,890.60 L478.75,890.60 L479.50,890.60 L480.25,890.60 L481.00,890.60 L481.75,890.60 L482.50,890.60 L483.25,890.60 L484.00,890.60 L484.75,890.60 L485.50,890.60 L486.25,890.60 L487.00,890.60 L487.75,890.60 L488.50,890.60 L489.25,890.60 L490.00,890.60 L490.75,890.60 L491.50,890.60 L492.25,890.60 L493.00,890.60 L493.75,890.60 L494.50,890.60 L495.25,890.60 L496.00,890.60 L496.75,890.60 L497.50,890.60 L498.25,890.60 L499.00,890.60 L499.75,890.60 L500.50,890.60 L501.25,890.60 L502.00,890.60 L502.75,890.60 L503.50,890.60 L504.25,890.60 L505.00,890.60 L505.75,890.60 L506.50,890.60 L507.25,890.60 L508.00,890.60 L508.75,890.60 L509.50,890.60 L510.25,890.60 L511.00,890.60 L511.75,890.60 L512.50,890.60 L513.25,890.60 L514.00,890.60 L514.75,890.60 L515.50,890.60 L516.25,890.60 L517.00,890.60 L517.75,890.60 L518.50,890.60 L519.25,890.60 L520.00,890.60 L520.75,890.60 L521.50,890.60 L522.25,890.60 L523.00,890.60 L523.75,890.60 L524.50,890.60 L525.25,890.60 L526.00,890.60 L526.75,890.60 L527.50,890.60 L528.25,890.60 L529.00,890.60 L529.75,890.60 L530.50,890.60 L531.25,890.60 L532.00,890.60 L532.75,890.60 L533.50,890.60 L534.25,890.60 L535.00,890.60 L535.75,890.60 L536.50,890.60 L537.25,890.60 L538.00,890.60 L538.75,890.60 L539.50,890.60 L540.25,890.60 L541.00,890.60 L541.75,890.60 L542.50,890.60 L543.25,890.60 L544.00,890.60 L544.75,890.60 L545.50,890.60 L546.25,890.60 L547.00,890.60 L547.75,890.60 L548.50,890.60 L549.25,890.60 L550.00,890.60 L550.75,890.60 L551.50,890.60 L552.25,890.60 L553.00,890.60 L553.75,890.60 L554.50,890.60 L555.25,890.60 L556.00,890.60 L556.75,890.60 L557.50,890.60 L558.25,890.60 L559.00,890.60 L559.75,890.60 L560.50,890.60 L561.25,890.60 L562.00,890.60 L562.75,890.60" fill="none" stroke="#a5a5a5" stroke-width="2.6" stroke-linejoin="round"/>
<path d="M377.50,890.60 L378.25,890.60 L379.00,890.60 L379.75,890.60 L380.50,890.60 L381.25,890.60 L382.00,890.60 L382.75,890.60 L383.50,890.60 L384.25,890.60 L385.00,890.60 L385.75,890.60 L386.50,890.60 L387.25,890.60 L388.00,890.60 L388.75,890.60 L389.50,890.60 L390.25,890.60 L391.00,890.60 L391.75,890.60 L392.50,890.60 L393.25,890.60 L394.00,890.60 L394.75,890.60 L395.50,890.60 L396.25,890.60 L397.00,890.60 L397.75,890.60 L398.50,890.60 L399.25,890.60 L400.00,890.60 L400.75,890.60 L401.50,890.60 L402.25,890.60 L403.00,890.60 L403.75,890.60 L404.50,890.60 L405.25,890.60 L406.00,890.60 L406.75,890.60 L407.50,890.60 L408.25,890.60 L409.00,890.60 L409.75,890.60 L410.50,890.60 L411.25,890.60 L412.00,890.60 L412.75,890.60 L413.50,890.60 L414.25,890.60 L415.00,890.60 L415.75,890.60 L416.50,890.60 L417.25,890.60 L418.00,890.60 L418.75,890.60 L419.50,890.60 L420.25,890.60 L421.00,890.59 L421.75,890.59 L422.50,890.59 L423.25,890.59 L424.00,890.58 L424.75,890.58 L425.50,890.57 L426.25,890.57 L427.00,890.56 L427.75,890.55 L428.50,890.53 L429.25,890.52 L430.00,890.50 L430.75,890.47 L431.50,890.44 L432.25,890.40 L433.00,890.35 L433.75,890.29 L434.50,890.22 L435.25,890.14 L436.00,890.04 L436.75,889.91 L437.50,889.77 L438.25,889.60 L439.00,889.39 L439.75,889.16 L440.50,888.88 L441.25,888.55 L442.00,888.17 L442.75,887.73 L443.50,887.22 L444.25,886.64 L445.00,885.98 L445.75,885.22 L446.50,884.36 L447.25,883.39 L448.00,882.29 L448.75,881.07 L449.50,879.71 L450.25,878.19 L451.00,876.52 L451.75,874.67 L452.50,872.66 L453.25,870.45 L454.00,868.06 L454.75,865.47 L455.50,862.69 L456.25,859.71 L457.00,856.54 L457.75,853.18 L458.50,849.63 L459.25,845.90 L460.00,842.02 L460.75,837.98 L461.50,833.81 L462.25,829.54 L463.00,825.17 L463.75,820.75 L464.50,816.30 L465.25,811.85 L466.00,807.43 L466.75,803.08 L467.50,798.83 L468.25,794.72 L469.00,790.79 L469.75,787.06 L470.50,783.59 L471.25,780.40 L472.00,777.52 L472.75,774.98 L473.50,772.81 L474.25,771.03 L475.00,769.66 L475.75,768.71 L476.50,768.20 L477.25,768.12 L478.00,768.49 L478.75,769.29 L479.50,770.53 L480.25,772.17 L481.00,774.21 L481.75,776.63 L482.50,779.40 L483.25,782.49 L484.00,785.88 L484.75,789.52 L485.50,793.39 L486.25,797.44 L487.00,801.65 L487.75,805.97 L488.50,810.37 L489.25,814.81 L490.00,819.27 L490.75,823.71 L491.50,828.09 L492.25,832.40 L493.00,836.60 L493.75,840.69 L494.50,844.62 L495.25,848.40 L496.00,852.01 L496.75,855.44 L497.50,858.68 L498.25,861.72 L499.00,864.57 L499.75,867.22 L500.50,869.68 L501.25,871.94 L502.00,874.02 L502.75,875.92 L503.50,877.65 L504.25,879.22 L505.00,880.63 L505.75,881.90 L506.50,883.04 L507.25,884.05 L508.00,884.94 L508.75,885.73 L509.50,886.43 L510.25,887.04 L511.00,887.57 L511.75,888.03 L512.50,888.43 L513.25,888.77 L514.00,889.07 L514.75,889.32 L515.50,889.53 L516.25,889.71 L517.00,889.87 L517.75,890.00 L518.50,890.10 L519.25,890.20 L520.00,890.27 L520.75,890.33 L521.50,890.38 L522.25,890.43 L523.00,890.46 L523.75,890.49 L524.50,890.51 L525.25,890.53 L526.00,890.54 L526.75,890.56 L527.50,890.57 L528.25,890.57 L529.00,890.58 L529.75,890.58 L530.50,890.59 L531.25,890.59 L532.00,890.59 L532.75,890.59 L533.50,890.60 L534.25,890.60 L535.00,890.60 L535.75,890.60 L536.50,890.60 L537.25,890.60 L538.00,890.60 L538.75,890.60 L539.50,890.60 L540.25,890.60 L541.00,890.60 L541.75,890.60 L542.50,890.60 L543.25,890.60 L544.00,890.60 L544.75,890.60 L545.50,890.60 L546.25,890.60 L547.00,890.60 L547.75,890.60 L548.50,890.60 L549.25,890.60 L550.00,890.60 L550.75,890.60 L551.50,890.60 L552.25,890.60 L553.00,890.60 L553.75,890.60 L554.50,890.60 L555.25,890.60 L556.00,890.60 L556.75,890.60 L557.50,890.60 L558.25,890.60 L559.00,890.60 L559.75,890.60 L560.50,890.60 L561.25,890.60 L562.00,890.60 L562.75,890.60" fill="none" stroke="#ed7d31" stroke-width="2.6" stroke-linejoin="round"/>
<path d="M377.50,890.60 L378.25,890.60 L379.00,890.60 L379.75,890.60 L380.50,890.60 L381.25,890.60 L382.00,890.60 L382.75,890.60 L383.50,890.60 L384.25,890.60 L385.00,890.60 L385.75,890.60 L386.50,890.60 L387.25,890.60 L388.00,890.60 L388.75,890.60 L389.50,890.60 L390.25,890.60 L391.00,890.60 L391.75,890.60 L392.50,890.60 L393.25,890.60 L394.00,890.60 L394.75,890.60 L395.50,890.60 L396.25,890.60 L397.00,890.60 L397.75,890.60 L398.50,890.60 L399.25,890.60 L400.00,890.60 L400.75,890.60 L401.50,890.60 L402.25,890.60 L403.00,890.60 L403.75,890.60 L404.50,890.60 L405.25,890.60 L406.00,890.60 L406.75,890.60 L407.50,890.60 L408.25,890.60 L409.00,890.60 L409.75,890.60 L410.50,890.60 L411.25,890.60 L412.00,890.60 L412.75,890.60 L413.50,890.60 L414.25,890.60 L415.00,890.60 L415.75,890.60 L416.50,890.60 L417.25,890.60 L418.00,890.60 L418.75,890.60 L419.50,890.60 L420.25,890.60 L421.00,890.60 L421.75,890.60 L422.50,890.60 L423.25,890.60 L424.00,890.60 L424.75,890.60 L425.50,890.60 L426.25,890.60 L427.00,890.60 L427.75,890.60 L428.50,890.60 L429.25,890.60 L430.00,890.60 L430.75,890.60 L431.50,890.60 L432.25,890.60 L433.00,890.60 L433.75,890.60 L434.50,890.60 L435.25,890.60 L436.00,890.60 L436.75,890.60 L437.50,890.60 L438.25,890.60 L439.00,890.60 L439.75,890.60 L440.50,890.60 L441.25,890.60 L442.00,890.60 L442.75,890.60 L443.50,890.60 L444.25,890.60 L445.00,890.60 L445.75,890.59 L446.50,890.59 L447.25,890.59 L448.00,890.59 L448.75,890.59 L449.50,890.58 L450.25,890.58 L451.00,890.58 L451.75,890.57 L452.50,890.57 L453.25,890.56 L454.00,890.55 L454.75,890.54 L455.50,890.53 L456.25,890.51 L457.00,890.50 L457.75,890.48 L458.50,890.45 L459.25,890.43 L460.00,890.40 L460.75,890.36 L461.50,890.32 L462.25,890.27 L463.00,890.21 L463.75,890.15 L464.50,890.08 L465.25,889.99 L466.00,889.90 L466.75,889.79 L467.50,889.67 L468.25,889.54 L469.00,889.39 L469.75,889.22 L470.50,889.03 L471.25,888.82 L472.00,888.59 L472.75,888.34 L473.50,888.06 L474.25,887.75 L475.00,887.42 L475.75,887.06 L476.50,886.66 L477.25,886.24 L478.00,885.78 L478.75,885.28 L479.50,884.76 L480.25,884.19 L481.00,883.60 L481.75,882.97 L482.50,882.30 L483.25,881.60 L484.00,880.87 L484.75,880.11 L485.50,879.32 L486.25,878.51 L487.00,877.67 L487.75,876.81 L488.50,875.94 L489.25,875.05 L490.00,874.15 L490.75,873.26 L491.50,872.36 L492.25,871.46 L493.00,870.58 L493.75,869.72 L494.50,868.88 L495.25,868.06 L496.00,867.28 L496.75,866.54 L497.50,865.85 L498.25,865.20 L499.00,864.61 L499.75,864.08 L500.50,863.61 L501.25,863.21 L502.00,862.88 L502.75,862.62 L503.50,862.44 L504.25,862.33 L505.00,862.30 L505.75,862.35 L506.50,862.48 L507.25,862.68 L508.00,862.96 L508.75,863.31 L509.50,863.73 L510.25,864.21 L511.00,864.76 L511.75,865.37 L512.50,866.03 L513.25,866.74 L514.00,867.49 L514.75,868.28 L515.50,869.10 L516.25,869.95 L517.00,870.82 L517.75,871.70 L518.50,872.60 L519.25,873.50 L520.00,874.39 L520.75,875.29 L521.50,876.17 L522.25,877.04 L523.00,877.90 L523.75,878.73 L524.50,879.54 L525.25,880.32 L526.00,881.07 L526.75,881.79 L527.50,882.48 L528.25,883.14 L529.00,883.76 L529.75,884.35 L530.50,884.90 L531.25,885.42 L532.00,885.90 L532.75,886.35 L533.50,886.77 L534.25,887.16 L535.00,887.51 L535.75,887.84 L536.50,888.14 L537.25,888.41 L538.00,888.66 L538.75,888.88 L539.50,889.08 L540.25,889.27 L541.00,889.43 L541.75,889.58 L542.50,889.71 L543.25,889.82 L544.00,889.93 L544.75,890.02 L545.50,890.10 L546.25,890.17 L547.00,890.23 L547.75,890.28 L548.50,890.33 L549.25,890.37 L550.00,890.40 L550.75,890.43 L551.50,890.46 L552.25,890.48 L553.00,890.50 L553.75,890.52 L554.50,890.53 L555.25,890.54 L556.00,890.55 L556.75,890.56 L557.50,890.57 L558.25,890.57 L559.00,890.58 L559.75,890.58 L560.50,890.59 L561.25,890.59 L562.00,890.59 L562.75,890.59" fill="none" stroke="#4472c4" stroke-width="2.6" stroke-linejoin="round"/>
<path d="M432.00,890.60 C432.72,890.43 434.33,891.95 436.30,889.60 C438.27,887.25 441.57,879.68 443.80,876.50 C446.03,873.32 447.72,873.50 449.70,870.50 C451.68,867.50 453.95,863.48 455.70,858.50 C457.45,853.52 458.70,847.57 460.20,840.60 C461.70,833.63 463.20,825.67 464.70,816.70 C466.20,807.73 467.98,793.52 469.20,786.80 C470.42,780.08 471.13,779.87 472.00,776.40 C472.87,772.93 473.53,768.25 474.40,766.00 C475.27,763.75 475.87,762.78 477.20,762.90 C478.53,763.02 480.78,763.95 482.40,766.70 C484.02,769.45 485.40,774.05 486.90,779.40 C488.40,784.75 489.90,792.58 491.40,798.80 C492.90,805.02 494.40,810.73 495.90,816.70 C497.40,822.67 498.90,829.12 500.40,834.60 C501.90,840.08 503.17,845.37 504.90,849.60 C506.63,853.83 508.82,857.02 510.80,860.00 C512.78,862.98 514.80,864.75 516.80,867.50 C518.80,870.25 520.80,873.75 522.80,876.50 C524.80,879.25 526.80,882.02 528.80,884.00 C530.80,885.98 532.82,887.48 534.80,888.40 C536.78,889.32 538.83,889.17 540.70,889.50 C542.57,889.83 545.12,890.25 546.00,890.40" fill="none" stroke="#e41e26" stroke-width="3" stroke-dasharray="18 18" stroke-dashoffset="0" stroke-linejoin="round" stroke-linecap="round"/>
<line x1="79.2" y1="130" x2="267.6" y2="130" stroke="#e6e6e6" stroke-width="2"/>
<line x1="79.2" y1="129.5" x2="79.2" y2="898.3" stroke="#000" stroke-width="2.4"/>
<line x1="267.6" y1="129.5" x2="267.6" y2="896.8" stroke="#000" stroke-width="2.4"/>
<line x1="78.0" y1="282" x2="268.8" y2="282" stroke="#000" stroke-width="2.4"/>
<line x1="78.0" y1="434" x2="268.8" y2="434" stroke="#000" stroke-width="2.4"/>
<line x1="78.0" y1="585.4" x2="268.8" y2="585.4" stroke="#000" stroke-width="2.4"/>
<line x1="78.0" y1="739" x2="268.8" y2="739" stroke="#000" stroke-width="2.4"/>
<line x1="78.0" y1="893.3" x2="268.8" y2="893.3" stroke="#000" stroke-width="2.4"/>
<line x1="94.90" y1="282" x2="94.90" y2="285.2" stroke="#000" stroke-width="2.4"/>
<line x1="110.60" y1="282" x2="110.60" y2="285.2" stroke="#000" stroke-width="2.4"/>
<line x1="126.30" y1="282" x2="126.30" y2="285.2" stroke="#000" stroke-width="2.4"/>
<line x1="142.00" y1="282" x2="142.00" y2="285.2" stroke="#000" stroke-width="2.4"/>
<line x1="157.70" y1="282" x2="157.70" y2="285.2" stroke="#000" stroke-width="2.4"/>
<line x1="173.40" y1="282" x2="173.40" y2="285.2" stroke="#000" stroke-width="2.4"/>
<line x1="189.10" y1="282" x2="189.10" y2="285.2" stroke="#000" stroke-width="2.4"/>
<line x1="204.80" y1="282" x2="204.80" y2="285.2" stroke="#000" stroke-width="2.4"/>
<line x1="220.50" y1="282" x2="220.50" y2="285.2" stroke="#000" stroke-width="2.4"/>
<line x1="236.20" y1="282" x2="236.20" y2="285.2" stroke="#000" stroke-width="2.4"/>
<line x1="251.90" y1="282" x2="251.90" y2="285.2" stroke="#000" stroke-width="2.4"/>
<line x1="94.90" y1="434" x2="94.90" y2="437.2" stroke="#000" stroke-width="2.4"/>
<line x1="110.60" y1="434" x2="110.60" y2="437.2" stroke="#000" stroke-width="2.4"/>
<line x1="126.30" y1="434" x2="126.30" y2="437.2" stroke="#000" stroke-width="2.4"/>
<line x1="142.00" y1="434" x2="142.00" y2="437.2" stroke="#000" stroke-width="2.4"/>
<line x1="157.70" y1="434" x2="157.70" y2="437.2" stroke="#000" stroke-width="2.4"/>
<line x1="173.40" y1="434" x2="173.40" y2="437.2" stroke="#000" stroke-width="2.4"/>
<line x1="189.10" y1="434" x2="189.10" y2="437.2" stroke="#000" stroke-width="2.4"/>
<line x1="204.80" y1="434" x2="204.80" y2="437.2" stroke="#000" stroke-width="2.4"/>
<line x1="220.50" y1="434" x2="220.50" y2="437.2" stroke="#000" stroke-width="2.4"/>
<line x1="236.20" y1="434" x2="236.20" y2="437.2" stroke="#000" stroke-width="2.4"/>
<line x1="251.90" y1="434" x2="251.90" y2="437.2" stroke="#000" stroke-width="2.4"/>
<line x1="94.90" y1="585.4" x2="94.90" y2="588.6" stroke="#000" stroke-width="2.4"/>
<line x1="110.60" y1="585.4" x2="110.60" y2="588.6" stroke="#000" stroke-width="2.4"/>
<line x1="126.30" y1="585.4" x2="126.30" y2="588.6" stroke="#000" stroke-width="2.4"/>
<line x1="142.00" y1="585.4" x2="142.00" y2="588.6" stroke="#000" stroke-width="2.4"/>
<line x1="157.70" y1="585.4" x2="157.70" y2="588.6" stroke="#000" stroke-width="2.4"/>
<line x1="173.40" y1="585.4" x2="173.40" y2="588.6" stroke="#000" stroke-width="2.4"/>
<line x1="189.10" y1="585.4" x2="189.10" y2="588.6" stroke="#000" stroke-width="2.4"/>
<line x1="204.80" y1="585.4" x2="204.80" y2="588.6" stroke="#000" stroke-width="2.4"/>
<line x1="220.50" y1="585.4" x2="220.50" y2="588.6" stroke="#000" stroke-width="2.4"/>
<line x1="236.20" y1="585.4" x2="236.20" y2="588.6" stroke="#000" stroke-width="2.4"/>
<line x1="251.90" y1="585.4" x2="251.90" y2="588.6" stroke="#000" stroke-width="2.4"/>
<line x1="94.90" y1="739" x2="94.90" y2="742.2" stroke="#000" stroke-width="2.4"/>
<line x1="110.60" y1="739" x2="110.60" y2="742.2" stroke="#000" stroke-width="2.4"/>
<line x1="126.30" y1="739" x2="126.30" y2="742.2" stroke="#000" stroke-width="2.4"/>
<line x1="142.00" y1="739" x2="142.00" y2="742.2" stroke="#000" stroke-width="2.4"/>
<line x1="157.70" y1="739" x2="157.70" y2="742.2" stroke="#000" stroke-width="2.4"/>
<line x1="173.40" y1="739" x2="173.40" y2="742.2" stroke="#000" stroke-width="2.4"/>
<line x1="189.10" y1="739" x2="189.10" y2="742.2" stroke="#000" stroke-width="2.4"/>
<line x1="204.80" y1="739" x2="204.80" y2="742.2" stroke="#000" stroke-width="2.4"/>
<line x1="220.50" y1="739" x2="220.50" y2="742.2" stroke="#000" stroke-width="2.4"/>
<line x1="236.20" y1="739" x2="236.20" y2="742.2" stroke="#000" stroke-width="2.4"/>
<line x1="251.90" y1="739" x2="251.90" y2="742.2" stroke="#000" stroke-width="2.4"/>
<line x1="94.90" y1="893.3" x2="94.90" y2="896.8" stroke="#000" stroke-width="2.4"/>
<line x1="110.60" y1="893.3" x2="110.60" y2="898.8" stroke="#000" stroke-width="2.4"/>
<line x1="126.30" y1="893.3" x2="126.30" y2="896.8" stroke="#000" stroke-width="2.4"/>
<line x1="142.00" y1="893.3" x2="142.00" y2="896.8" stroke="#000" stroke-width="2.4"/>
<line x1="157.70" y1="893.3" x2="157.70" y2="896.8" stroke="#000" stroke-width="2.4"/>
<line x1="173.40" y1="893.3" x2="173.40" y2="898.8" stroke="#000" stroke-width="2.4"/>
<line x1="189.10" y1="893.3" x2="189.10" y2="896.8" stroke="#000" stroke-width="2.4"/>
<line x1="204.80" y1="893.3" x2="204.80" y2="896.8" stroke="#000" stroke-width="2.4"/>
<line x1="220.50" y1="893.3" x2="220.50" y2="896.8" stroke="#000" stroke-width="2.4"/>
<line x1="236.20" y1="893.3" x2="236.20" y2="898.8" stroke="#000" stroke-width="2.4"/>
<line x1="251.90" y1="893.3" x2="251.90" y2="896.8" stroke="#000" stroke-width="2.4"/>
<line x1="376.2" y1="129.5" x2="564.6" y2="129.5" stroke="#e6e6e6" stroke-width="2"/>
<line x1="376.2" y1="129.0" x2="376.2" y2="896.6" stroke="#000" stroke-width="2.4"/>
<line x1="564.6" y1="129.0" x2="564.6" y2="895.1" stroke="#000" stroke-width="2.4"/>
<line x1="375.0" y1="279.2" x2="565.8000000000001" y2="279.2" stroke="#000" stroke-width="2.4"/>
<line x1="375.0" y1="434.9" x2="565.8000000000001" y2="434.9" stroke="#000" stroke-width="2.4"/>
<line x1="375.0" y1="589.7" x2="565.8000000000001" y2="589.7" stroke="#000" stroke-width="2.4"/>
<line x1="375.0" y1="740.1" x2="565.8000000000001" y2="740.1" stroke="#000" stroke-width="2.4"/>
<line x1="375.0" y1="891.6" x2="565.8000000000001" y2="891.6" stroke="#000" stroke-width="2.4"/>
<line x1="391.90" y1="279.2" x2="391.90" y2="282.4" stroke="#000" stroke-width="2.4"/>
<line x1="407.60" y1="279.2" x2="407.60" y2="282.4" stroke="#000" stroke-width="2.4"/>
<line x1="423.30" y1="279.2" x2="423.30" y2="282.4" stroke="#000" stroke-width="2.4"/>
<line x1="439.00" y1="279.2" x2="439.00" y2="282.4" stroke="#000" stroke-width="2.4"/>
<line x1="454.70" y1="279.2" x2="454.70" y2="282.4" stroke="#000" stroke-width="2.4"/>
<line x1="470.40" y1="279.2" x2="470.40" y2="282.4" stroke="#000" stroke-width="2.4"/>
<line x1="486.10" y1="279.2" x2="486.10" y2="282.4" stroke="#000" stroke-width="2.4"/>
<line x1="501.80" y1="279.2" x2="501.80" y2="282.4" stroke="#000" stroke-width="2.4"/>
<line x1="517.50" y1="279.2" x2="517.50" y2="282.4" stroke="#000" stroke-width="2.4"/>
<line x1="533.20" y1="279.2" x2="533.20" y2="282.4" stroke="#000" stroke-width="2.4"/>
<line x1="548.90" y1="279.2" x2="548.90" y2="282.4" stroke="#000" stroke-width="2.4"/>
<line x1="391.90" y1="434.9" x2="391.90" y2="438.09999999999997" stroke="#000" stroke-width="2.4"/>
<line x1="407.60" y1="434.9" x2="407.60" y2="438.09999999999997" stroke="#000" stroke-width="2.4"/>
<line x1="423.30" y1="434.9" x2="423.30" y2="438.09999999999997" stroke="#000" stroke-width="2.4"/>
<line x1="439.00" y1="434.9" x2="439.00" y2="438.09999999999997" stroke="#000" stroke-width="2.4"/>
<line x1="454.70" y1="434.9" x2="454.70" y2="438.09999999999997" stroke="#000" stroke-width="2.4"/>
<line x1="470.40" y1="434.9" x2="470.40" y2="438.09999999999997" stroke="#000" stroke-width="2.4"/>
<line x1="486.10" y1="434.9" x2="486.10" y2="438.09999999999997" stroke="#000" stroke-width="2.4"/>
<line x1="501.80" y1="434.9" x2="501.80" y2="438.09999999999997" stroke="#000" stroke-width="2.4"/>
<line x1="517.50" y1="434.9" x2="517.50" y2="438.09999999999997" stroke="#000" stroke-width="2.4"/>
<line x1="533.20" y1="434.9" x2="533.20" y2="438.09999999999997" stroke="#000" stroke-width="2.4"/>
<line x1="548.90" y1="434.9" x2="548.90" y2="438.09999999999997" stroke="#000" stroke-width="2.4"/>
<line x1="391.90" y1="589.7" x2="391.90" y2="592.9000000000001" stroke="#000" stroke-width="2.4"/>
<line x1="407.60" y1="589.7" x2="407.60" y2="592.9000000000001" stroke="#000" stroke-width="2.4"/>
<line x1="423.30" y1="589.7" x2="423.30" y2="592.9000000000001" stroke="#000" stroke-width="2.4"/>
<line x1="439.00" y1="589.7" x2="439.00" y2="592.9000000000001" stroke="#000" stroke-width="2.4"/>
<line x1="454.70" y1="589.7" x2="454.70" y2="592.9000000000001" stroke="#000" stroke-width="2.4"/>
<line x1="470.40" y1="589.7" x2="470.40" y2="592.9000000000001" stroke="#000" stroke-width="2.4"/>
<line x1="486.10" y1="589.7" x2="486.10" y2="592.9000000000001" stroke="#000" stroke-width="2.4"/>
<line x1="501.80" y1="589.7" x2="501.80" y2="592.9000000000001" stroke="#000" stroke-width="2.4"/>
<line x1="517.50" y1="589.7" x2="517.50" y2="592.9000000000001" stroke="#000" stroke-width="2.4"/>
<line x1="533.20" y1="589.7" x2="533.20" y2="592.9000000000001" stroke="#000" stroke-width="2.4"/>
<line x1="548.90" y1="589.7" x2="548.90" y2="592.9000000000001" stroke="#000" stroke-width="2.4"/>
<line x1="391.90" y1="740.1" x2="391.90" y2="743.3000000000001" stroke="#000" stroke-width="2.4"/>
<line x1="407.60" y1="740.1" x2="407.60" y2="743.3000000000001" stroke="#000" stroke-width="2.4"/>
<line x1="423.30" y1="740.1" x2="423.30" y2="743.3000000000001" stroke="#000" stroke-width="2.4"/>
<line x1="439.00" y1="740.1" x2="439.00" y2="743.3000000000001" stroke="#000" stroke-width="2.4"/>
<line x1="454.70" y1="740.1" x2="454.70" y2="743.3000000000001" stroke="#000" stroke-width="2.4"/>
<line x1="470.40" y1="740.1" x2="470.40" y2="743.3000000000001" stroke="#000" stroke-width="2.4"/>
<line x1="486.10" y1="740.1" x2="486.10" y2="743.3000000000001" stroke="#000" stroke-width="2.4"/>
<line x1="501.80" y1="740.1" x2="501.80" y2="743.3000000000001" stroke="#000" stroke-width="2.4"/>
<line x1="517.50" y1="740.1" x2="517.50" y2="743.3000000000001" stroke="#000" stroke-width="2.4"/>
<line x1="533.20" y1="740.1" x2="533.20" y2="743.3000000000001" stroke="#000" stroke-width="2.4"/>
<line x1="548.90" y1="740.1" x2="548.90" y2="743.3000000000001" stroke="#000" stroke-width="2.4"/>
<line x1="391.90" y1="891.6" x2="391.90" y2="895.1" stroke="#000" stroke-width="2.4"/>
<line x1="407.60" y1="891.6" x2="407.60" y2="897.1" stroke="#000" stroke-width="2.4"/>
<line x1="423.30" y1="891.6" x2="423.30" y2="895.1" stroke="#000" stroke-width="2.4"/>
<line x1="439.00" y1="891.6" x2="439.00" y2="895.1" stroke="#000" stroke-width="2.4"/>
<line x1="454.70" y1="891.6" x2="454.70" y2="895.1" stroke="#000" stroke-width="2.4"/>
<line x1="470.40" y1="891.6" x2="470.40" y2="897.1" stroke="#000" stroke-width="2.4"/>
<line x1="486.10" y1="891.6" x2="486.10" y2="895.1" stroke="#000" stroke-width="2.4"/>
<line x1="501.80" y1="891.6" x2="501.80" y2="895.1" stroke="#000" stroke-width="2.4"/>
<line x1="517.50" y1="891.6" x2="517.50" y2="895.1" stroke="#000" stroke-width="2.4"/>
<line x1="533.20" y1="891.6" x2="533.20" y2="897.1" stroke="#000" stroke-width="2.4"/>
<line x1="548.90" y1="891.6" x2="548.90" y2="895.1" stroke="#000" stroke-width="2.4"/>
<line x1="375" y1="129.2" x2="382.5" y2="129.2" stroke="#000" stroke-width="2"/>
<line x1="560.5" y1="129.2" x2="565.5" y2="129.2" stroke="#000" stroke-width="1.8"/>
<line x1="133.6" y1="70" x2="133.6" y2="99" stroke="#a6a6a6" stroke-width="2.6"/>
<line x1="187.1" y1="14" x2="187.1" y2="44" stroke="#ed7d31" stroke-width="2.6"/>
<line x1="228.3" y1="78.3" x2="228.3" y2="108.9" stroke="#4472c4" stroke-width="2.6"/>
<line x1="424.2" y1="30.8" x2="424.2" y2="61.7" stroke="#a6a6a6" stroke-width="2.6"/>
<line x1="455" y1="1.5" x2="455" y2="31.6" stroke="#ed7d31" stroke-width="2.6"/>
<line x1="488.7" y1="26.6" x2="488.7" y2="56.8" stroke="#70ad47" stroke-width="2.6"/>
<line x1="524.8" y1="87.7" x2="524.8" y2="117.6" stroke="#4472c4" stroke-width="2.6"/>
</svg></body></html>
